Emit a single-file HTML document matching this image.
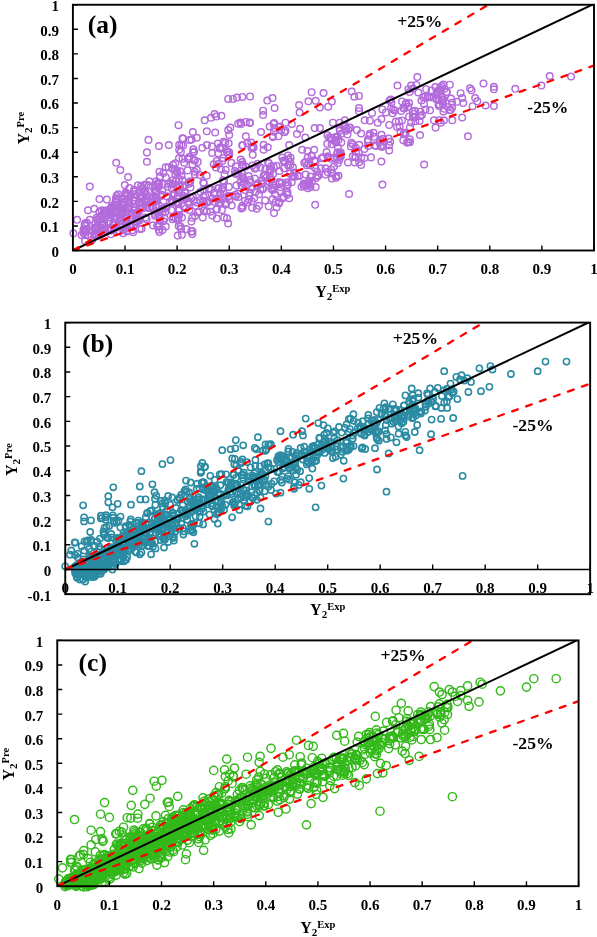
<!DOCTYPE html>
<html><head><meta charset="utf-8"><title>Y2 Pre vs Exp</title>
<style>html,body{margin:0;padding:0;background:#fff;overflow:hidden}svg{display:block;font-family:"Liberation Serif",serif;will-change:transform}</style>
</head><body>
<svg width="597" height="937" viewBox="0 0 597 937"><g fill="none" stroke="#b36bdb" stroke-width="1.45"><circle cx="334.5" cy="158.0" r="3.3"/><circle cx="146.9" cy="152.4" r="3.3"/><circle cx="268.7" cy="206.3" r="3.3"/><circle cx="133.2" cy="232.2" r="3.3"/><circle cx="153.0" cy="225.4" r="3.3"/><circle cx="336.1" cy="142.4" r="3.3"/><circle cx="359.0" cy="95.9" r="3.3"/><circle cx="252.3" cy="187.7" r="3.3"/><circle cx="117.9" cy="230.5" r="3.3"/><circle cx="414.3" cy="117.5" r="3.3"/><circle cx="165.3" cy="212.1" r="3.3"/><circle cx="462.2" cy="117.5" r="3.3"/><circle cx="268.9" cy="163.3" r="3.3"/><circle cx="273.6" cy="187.6" r="3.3"/><circle cx="247.7" cy="202.3" r="3.3"/><circle cx="98.9" cy="233.7" r="3.3"/><circle cx="287.5" cy="192.2" r="3.3"/><circle cx="88.1" cy="234.7" r="3.3"/><circle cx="136.5" cy="216.3" r="3.3"/><circle cx="86.9" cy="222.8" r="3.3"/><circle cx="94.2" cy="227.9" r="3.3"/><circle cx="140.2" cy="198.2" r="3.3"/><circle cx="331.9" cy="178.5" r="3.3"/><circle cx="119.8" cy="220.4" r="3.3"/><circle cx="212.2" cy="152.9" r="3.3"/><circle cx="274.6" cy="108.0" r="3.3"/><circle cx="115.1" cy="211.2" r="3.3"/><circle cx="205.2" cy="195.6" r="3.3"/><circle cx="263.6" cy="144.8" r="3.3"/><circle cx="145.4" cy="217.6" r="3.3"/><circle cx="190.3" cy="181.4" r="3.3"/><circle cx="159.4" cy="225.0" r="3.3"/><circle cx="398.9" cy="121.4" r="3.3"/><circle cx="220.3" cy="147.2" r="3.3"/><circle cx="224.6" cy="174.4" r="3.3"/><circle cx="228.2" cy="130.1" r="3.3"/><circle cx="460.6" cy="93.2" r="3.3"/><circle cx="289.9" cy="173.6" r="3.3"/><circle cx="262.9" cy="189.3" r="3.3"/><circle cx="183.1" cy="138.6" r="3.3"/><circle cx="368.2" cy="145.9" r="3.3"/><circle cx="194.1" cy="151.7" r="3.3"/><circle cx="301.5" cy="186.7" r="3.3"/><circle cx="250.1" cy="96.4" r="3.3"/><circle cx="168.8" cy="145.1" r="3.3"/><circle cx="390.8" cy="99.4" r="3.3"/><circle cx="250.1" cy="180.1" r="3.3"/><circle cx="308.3" cy="164.0" r="3.3"/><circle cx="183.2" cy="145.6" r="3.3"/><circle cx="223.1" cy="187.4" r="3.3"/><circle cx="127.0" cy="230.6" r="3.3"/><circle cx="110.6" cy="210.0" r="3.3"/><circle cx="311.7" cy="156.1" r="3.3"/><circle cx="114.4" cy="222.7" r="3.3"/><circle cx="121.4" cy="208.9" r="3.3"/><circle cx="284.8" cy="161.4" r="3.3"/><circle cx="219.3" cy="199.4" r="3.3"/><circle cx="441.7" cy="97.1" r="3.3"/><circle cx="179.2" cy="185.4" r="3.3"/><circle cx="180.9" cy="151.9" r="3.3"/><circle cx="341.3" cy="142.4" r="3.3"/><circle cx="207.2" cy="201.6" r="3.3"/><circle cx="392.7" cy="113.3" r="3.3"/><circle cx="95.0" cy="235.1" r="3.3"/><circle cx="415.0" cy="110.8" r="3.3"/><circle cx="409.9" cy="127.2" r="3.3"/><circle cx="218.2" cy="153.2" r="3.3"/><circle cx="354.3" cy="96.7" r="3.3"/><circle cx="443.6" cy="99.6" r="3.3"/><circle cx="111.7" cy="213.0" r="3.3"/><circle cx="191.4" cy="221.5" r="3.3"/><circle cx="139.7" cy="229.0" r="3.3"/><circle cx="111.1" cy="208.8" r="3.3"/><circle cx="352.8" cy="156.3" r="3.3"/><circle cx="272.5" cy="98.1" r="3.3"/><circle cx="138.9" cy="192.7" r="3.3"/><circle cx="406.2" cy="103.0" r="3.3"/><circle cx="369.9" cy="120.7" r="3.3"/><circle cx="108.6" cy="229.6" r="3.3"/><circle cx="515.3" cy="88.8" r="3.3"/><circle cx="462.2" cy="98.1" r="3.3"/><circle cx="177.1" cy="172.5" r="3.3"/><circle cx="228.6" cy="143.2" r="3.3"/><circle cx="121.1" cy="214.4" r="3.3"/><circle cx="129.5" cy="226.2" r="3.3"/><circle cx="395.9" cy="121.6" r="3.3"/><circle cx="260.5" cy="189.7" r="3.3"/><circle cx="174.3" cy="193.6" r="3.3"/><circle cx="141.6" cy="228.7" r="3.3"/><circle cx="284.0" cy="168.3" r="3.3"/><circle cx="192.2" cy="217.8" r="3.3"/><circle cx="146.2" cy="202.4" r="3.3"/><circle cx="110.9" cy="230.6" r="3.3"/><circle cx="163.4" cy="221.3" r="3.3"/><circle cx="429.9" cy="96.6" r="3.3"/><circle cx="123.2" cy="233.2" r="3.3"/><circle cx="144.1" cy="200.2" r="3.3"/><circle cx="325.4" cy="174.6" r="3.3"/><circle cx="141.1" cy="186.3" r="3.3"/><circle cx="314.3" cy="160.4" r="3.3"/><circle cx="225.9" cy="203.0" r="3.3"/><circle cx="308.9" cy="180.9" r="3.3"/><circle cx="214.6" cy="114.1" r="3.3"/><circle cx="124.0" cy="229.9" r="3.3"/><circle cx="146.7" cy="200.6" r="3.3"/><circle cx="483.5" cy="83.4" r="3.3"/><circle cx="175.2" cy="173.8" r="3.3"/><circle cx="252.1" cy="207.7" r="3.3"/><circle cx="406.9" cy="142.6" r="3.3"/><circle cx="222.3" cy="160.9" r="3.3"/><circle cx="280.7" cy="187.2" r="3.3"/><circle cx="84.7" cy="224.9" r="3.3"/><circle cx="228.3" cy="196.7" r="3.3"/><circle cx="178.6" cy="210.4" r="3.3"/><circle cx="241.6" cy="185.6" r="3.3"/><circle cx="116.2" cy="209.0" r="3.3"/><circle cx="328.1" cy="156.6" r="3.3"/><circle cx="242.2" cy="173.7" r="3.3"/><circle cx="229.4" cy="195.8" r="3.3"/><circle cx="165.7" cy="167.2" r="3.3"/><circle cx="327.7" cy="172.1" r="3.3"/><circle cx="178.9" cy="179.1" r="3.3"/><circle cx="108.8" cy="229.8" r="3.3"/><circle cx="300.1" cy="128.9" r="3.3"/><circle cx="290.4" cy="165.0" r="3.3"/><circle cx="310.6" cy="176.5" r="3.3"/><circle cx="204.7" cy="120.3" r="3.3"/><circle cx="83.5" cy="229.8" r="3.3"/><circle cx="217.3" cy="198.7" r="3.3"/><circle cx="155.1" cy="191.0" r="3.3"/><circle cx="435.3" cy="87.0" r="3.3"/><circle cx="179.3" cy="209.9" r="3.3"/><circle cx="146.9" cy="161.8" r="3.3"/><circle cx="146.6" cy="219.2" r="3.3"/><circle cx="291.7" cy="182.2" r="3.3"/><circle cx="135.5" cy="207.9" r="3.3"/><circle cx="99.1" cy="219.4" r="3.3"/><circle cx="229.2" cy="135.0" r="3.3"/><circle cx="175.8" cy="218.6" r="3.3"/><circle cx="129.8" cy="197.3" r="3.3"/><circle cx="186.4" cy="229.1" r="3.3"/><circle cx="288.0" cy="155.6" r="3.3"/><circle cx="315.1" cy="167.9" r="3.3"/><circle cx="184.2" cy="162.7" r="3.3"/><circle cx="327.5" cy="135.3" r="3.3"/><circle cx="373.5" cy="132.8" r="3.3"/><circle cx="220.4" cy="193.9" r="3.3"/><circle cx="166.5" cy="207.8" r="3.3"/><circle cx="430.0" cy="110.3" r="3.3"/><circle cx="104.1" cy="210.7" r="3.3"/><circle cx="429.3" cy="97.1" r="3.3"/><circle cx="242.3" cy="176.8" r="3.3"/><circle cx="212.2" cy="215.5" r="3.3"/><circle cx="287.3" cy="186.1" r="3.3"/><circle cx="94.4" cy="234.6" r="3.3"/><circle cx="85.1" cy="223.2" r="3.3"/><circle cx="424.0" cy="103.9" r="3.3"/><circle cx="206.8" cy="211.2" r="3.3"/><circle cx="323.0" cy="157.3" r="3.3"/><circle cx="133.2" cy="200.0" r="3.3"/><circle cx="111.3" cy="214.5" r="3.3"/><circle cx="330.8" cy="137.8" r="3.3"/><circle cx="336.6" cy="158.8" r="3.3"/><circle cx="134.9" cy="210.1" r="3.3"/><circle cx="183.4" cy="206.3" r="3.3"/><circle cx="158.8" cy="211.6" r="3.3"/><circle cx="112.6" cy="206.7" r="3.3"/><circle cx="241.1" cy="124.0" r="3.3"/><circle cx="222.0" cy="189.1" r="3.3"/><circle cx="86.0" cy="229.2" r="3.3"/><circle cx="172.8" cy="184.3" r="3.3"/><circle cx="340.8" cy="156.6" r="3.3"/><circle cx="173.5" cy="217.0" r="3.3"/><circle cx="212.5" cy="198.5" r="3.3"/><circle cx="292.4" cy="176.8" r="3.3"/><circle cx="382.4" cy="184.6" r="3.3"/><circle cx="218.7" cy="188.4" r="3.3"/><circle cx="157.1" cy="226.0" r="3.3"/><circle cx="220.7" cy="202.6" r="3.3"/><circle cx="124.8" cy="185.1" r="3.3"/><circle cx="344.3" cy="125.4" r="3.3"/><circle cx="467.9" cy="136.2" r="3.3"/><circle cx="149.2" cy="207.2" r="3.3"/><circle cx="187.6" cy="170.4" r="3.3"/><circle cx="95.6" cy="229.9" r="3.3"/><circle cx="444.5" cy="88.7" r="3.3"/><circle cx="238.1" cy="123.8" r="3.3"/><circle cx="248.6" cy="176.0" r="3.3"/><circle cx="438.4" cy="100.0" r="3.3"/><circle cx="101.3" cy="216.7" r="3.3"/><circle cx="222.9" cy="180.4" r="3.3"/><circle cx="156.4" cy="198.2" r="3.3"/><circle cx="457.0" cy="101.8" r="3.3"/><circle cx="289.2" cy="145.1" r="3.3"/><circle cx="189.3" cy="210.0" r="3.3"/><circle cx="381.5" cy="134.7" r="3.3"/><circle cx="114.5" cy="207.6" r="3.3"/><circle cx="346.4" cy="128.5" r="3.3"/><circle cx="181.5" cy="175.8" r="3.3"/><circle cx="213.8" cy="164.2" r="3.3"/><circle cx="436.7" cy="99.2" r="3.3"/><circle cx="178.4" cy="204.3" r="3.3"/><circle cx="271.3" cy="179.4" r="3.3"/><circle cx="109.5" cy="214.4" r="3.3"/><circle cx="73.4" cy="233.3" r="3.3"/><circle cx="263.1" cy="110.7" r="3.3"/><circle cx="273.9" cy="131.8" r="3.3"/><circle cx="337.5" cy="136.8" r="3.3"/><circle cx="418.3" cy="92.5" r="3.3"/><circle cx="315.7" cy="187.1" r="3.3"/><circle cx="154.2" cy="189.1" r="3.3"/><circle cx="231.4" cy="162.9" r="3.3"/><circle cx="209.0" cy="201.7" r="3.3"/><circle cx="118.0" cy="210.8" r="3.3"/><circle cx="177.1" cy="201.9" r="3.3"/><circle cx="217.9" cy="143.6" r="3.3"/><circle cx="282.3" cy="157.6" r="3.3"/><circle cx="229.2" cy="152.2" r="3.3"/><circle cx="256.8" cy="185.3" r="3.3"/><circle cx="335.8" cy="140.4" r="3.3"/><circle cx="289.2" cy="198.2" r="3.3"/><circle cx="92.3" cy="239.8" r="3.3"/><circle cx="120.8" cy="227.5" r="3.3"/><circle cx="420.4" cy="116.1" r="3.3"/><circle cx="116.2" cy="199.7" r="3.3"/><circle cx="308.4" cy="101.3" r="3.3"/><circle cx="189.7" cy="140.0" r="3.3"/><circle cx="97.3" cy="219.5" r="3.3"/><circle cx="157.3" cy="201.2" r="3.3"/><circle cx="336.4" cy="176.4" r="3.3"/><circle cx="383.0" cy="138.7" r="3.3"/><circle cx="114.8" cy="204.7" r="3.3"/><circle cx="89.8" cy="186.6" r="3.3"/><circle cx="194.9" cy="160.5" r="3.3"/><circle cx="314.2" cy="149.7" r="3.3"/><circle cx="204.3" cy="204.1" r="3.3"/><circle cx="131.3" cy="225.4" r="3.3"/><circle cx="338.5" cy="175.7" r="3.3"/><circle cx="442.2" cy="99.7" r="3.3"/><circle cx="120.9" cy="217.5" r="3.3"/><circle cx="449.8" cy="110.2" r="3.3"/><circle cx="97.8" cy="232.2" r="3.3"/><circle cx="106.8" cy="210.3" r="3.3"/><circle cx="206.4" cy="202.8" r="3.3"/><circle cx="104.5" cy="212.6" r="3.3"/><circle cx="224.0" cy="181.1" r="3.3"/><circle cx="242.7" cy="207.6" r="3.3"/><circle cx="423.1" cy="97.1" r="3.3"/><circle cx="351.7" cy="91.5" r="3.3"/><circle cx="103.0" cy="233.3" r="3.3"/><circle cx="438.2" cy="92.1" r="3.3"/><circle cx="350.9" cy="146.5" r="3.3"/><circle cx="372.0" cy="112.9" r="3.3"/><circle cx="188.4" cy="203.0" r="3.3"/><circle cx="142.0" cy="188.5" r="3.3"/><circle cx="174.5" cy="193.4" r="3.3"/><circle cx="210.6" cy="211.7" r="3.3"/><circle cx="315.7" cy="161.5" r="3.3"/><circle cx="283.9" cy="196.9" r="3.3"/><circle cx="120.9" cy="208.3" r="3.3"/><circle cx="194.8" cy="171.7" r="3.3"/><circle cx="269.3" cy="182.1" r="3.3"/><circle cx="146.5" cy="184.8" r="3.3"/><circle cx="178.5" cy="125.2" r="3.3"/><circle cx="135.2" cy="194.0" r="3.3"/><circle cx="262.0" cy="180.4" r="3.3"/><circle cx="130.6" cy="195.5" r="3.3"/><circle cx="338.6" cy="139.8" r="3.3"/><circle cx="181.4" cy="144.7" r="3.3"/><circle cx="123.7" cy="208.2" r="3.3"/><circle cx="261.0" cy="132.0" r="3.3"/><circle cx="303.9" cy="186.2" r="3.3"/><circle cx="148.5" cy="139.9" r="3.3"/><circle cx="235.7" cy="196.6" r="3.3"/><circle cx="331.7" cy="144.2" r="3.3"/><circle cx="440.1" cy="87.7" r="3.3"/><circle cx="134.1" cy="189.8" r="3.3"/><circle cx="191.1" cy="198.4" r="3.3"/><circle cx="166.3" cy="206.7" r="3.3"/><circle cx="278.9" cy="127.2" r="3.3"/><circle cx="137.0" cy="213.3" r="3.3"/><circle cx="171.9" cy="200.6" r="3.3"/><circle cx="115.9" cy="227.4" r="3.3"/><circle cx="446.7" cy="92.3" r="3.3"/><circle cx="162.0" cy="194.8" r="3.3"/><circle cx="149.3" cy="181.2" r="3.3"/><circle cx="412.7" cy="111.5" r="3.3"/><circle cx="115.2" cy="210.0" r="3.3"/><circle cx="86.5" cy="229.0" r="3.3"/><circle cx="314.7" cy="128.1" r="3.3"/><circle cx="84.8" cy="225.9" r="3.3"/><circle cx="85.6" cy="231.9" r="3.3"/><circle cx="245.1" cy="200.8" r="3.3"/><circle cx="180.2" cy="171.4" r="3.3"/><circle cx="221.9" cy="210.0" r="3.3"/><circle cx="252.7" cy="154.7" r="3.3"/><circle cx="96.3" cy="234.5" r="3.3"/><circle cx="276.7" cy="207.2" r="3.3"/><circle cx="119.6" cy="231.1" r="3.3"/><circle cx="104.2" cy="221.9" r="3.3"/><circle cx="443.4" cy="111.5" r="3.3"/><circle cx="311.6" cy="155.6" r="3.3"/><circle cx="308.7" cy="183.4" r="3.3"/><circle cx="160.8" cy="195.9" r="3.3"/><circle cx="216.7" cy="161.0" r="3.3"/><circle cx="125.5" cy="193.7" r="3.3"/><circle cx="172.8" cy="202.5" r="3.3"/><circle cx="168.5" cy="167.3" r="3.3"/><circle cx="138.8" cy="211.7" r="3.3"/><circle cx="452.3" cy="120.3" r="3.3"/><circle cx="274.4" cy="128.1" r="3.3"/><circle cx="120.5" cy="209.4" r="3.3"/><circle cx="141.9" cy="202.2" r="3.3"/><circle cx="182.8" cy="185.4" r="3.3"/><circle cx="121.7" cy="198.6" r="3.3"/><circle cx="264.8" cy="175.2" r="3.3"/><circle cx="215.2" cy="132.5" r="3.3"/><circle cx="281.3" cy="130.1" r="3.3"/><circle cx="193.9" cy="201.1" r="3.3"/><circle cx="319.9" cy="128.1" r="3.3"/><circle cx="113.7" cy="222.5" r="3.3"/><circle cx="129.1" cy="202.9" r="3.3"/><circle cx="255.9" cy="167.8" r="3.3"/><circle cx="405.7" cy="104.0" r="3.3"/><circle cx="388.7" cy="138.6" r="3.3"/><circle cx="160.0" cy="176.4" r="3.3"/><circle cx="155.1" cy="216.0" r="3.3"/><circle cx="265.0" cy="174.6" r="3.3"/><circle cx="134.5" cy="197.4" r="3.3"/><circle cx="274.1" cy="122.9" r="3.3"/><circle cx="116.8" cy="219.4" r="3.3"/><circle cx="122.1" cy="204.6" r="3.3"/><circle cx="225.7" cy="169.9" r="3.3"/><circle cx="125.9" cy="221.1" r="3.3"/><circle cx="337.2" cy="153.3" r="3.3"/><circle cx="180.5" cy="226.6" r="3.3"/><circle cx="421.9" cy="115.0" r="3.3"/><circle cx="383.0" cy="145.3" r="3.3"/><circle cx="326.6" cy="152.1" r="3.3"/><circle cx="254.2" cy="198.2" r="3.3"/><circle cx="149.4" cy="196.7" r="3.3"/><circle cx="226.8" cy="151.2" r="3.3"/><circle cx="307.6" cy="157.5" r="3.3"/><circle cx="270.0" cy="176.8" r="3.3"/><circle cx="242.2" cy="145.3" r="3.3"/><circle cx="433.3" cy="97.8" r="3.3"/><circle cx="306.0" cy="183.8" r="3.3"/><circle cx="279.4" cy="171.0" r="3.3"/><circle cx="194.8" cy="174.4" r="3.3"/><circle cx="380.9" cy="140.4" r="3.3"/><circle cx="412.8" cy="116.8" r="3.3"/><circle cx="158.9" cy="146.1" r="3.3"/><circle cx="225.3" cy="142.8" r="3.3"/><circle cx="193.1" cy="152.2" r="3.3"/><circle cx="385.8" cy="112.4" r="3.3"/><circle cx="163.4" cy="173.1" r="3.3"/><circle cx="98.6" cy="235.6" r="3.3"/><circle cx="218.0" cy="188.3" r="3.3"/><circle cx="273.1" cy="173.9" r="3.3"/><circle cx="235.8" cy="166.3" r="3.3"/><circle cx="101.1" cy="234.6" r="3.3"/><circle cx="403.3" cy="108.0" r="3.3"/><circle cx="157.0" cy="212.8" r="3.3"/><circle cx="124.4" cy="205.5" r="3.3"/><circle cx="475.2" cy="98.1" r="3.3"/><circle cx="141.1" cy="202.8" r="3.3"/><circle cx="103.6" cy="232.1" r="3.3"/><circle cx="120.3" cy="170.1" r="3.3"/><circle cx="382.0" cy="146.9" r="3.3"/><circle cx="137.9" cy="185.4" r="3.3"/><circle cx="187.9" cy="158.5" r="3.3"/><circle cx="127.5" cy="200.0" r="3.3"/><circle cx="223.3" cy="191.2" r="3.3"/><circle cx="182.5" cy="180.3" r="3.3"/><circle cx="240.6" cy="182.1" r="3.3"/><circle cx="438.5" cy="104.6" r="3.3"/><circle cx="310.5" cy="187.1" r="3.3"/><circle cx="442.8" cy="104.1" r="3.3"/><circle cx="92.2" cy="231.2" r="3.3"/><circle cx="405.6" cy="132.9" r="3.3"/><circle cx="172.6" cy="168.9" r="3.3"/><circle cx="282.2" cy="198.4" r="3.3"/><circle cx="305.8" cy="161.8" r="3.3"/><circle cx="203.3" cy="182.4" r="3.3"/><circle cx="81.6" cy="235.1" r="3.3"/><circle cx="435.6" cy="127.6" r="3.3"/><circle cx="416.3" cy="84.9" r="3.3"/><circle cx="104.7" cy="229.3" r="3.3"/><circle cx="302.2" cy="149.7" r="3.3"/><circle cx="220.9" cy="169.0" r="3.3"/><circle cx="249.2" cy="195.5" r="3.3"/><circle cx="203.6" cy="189.8" r="3.3"/><circle cx="182.8" cy="195.5" r="3.3"/><circle cx="199.1" cy="211.6" r="3.3"/><circle cx="270.4" cy="171.0" r="3.3"/><circle cx="442.6" cy="101.4" r="3.3"/><circle cx="373.9" cy="136.8" r="3.3"/><circle cx="293.2" cy="175.5" r="3.3"/><circle cx="113.0" cy="224.9" r="3.3"/><circle cx="142.0" cy="195.8" r="3.3"/><circle cx="425.6" cy="109.4" r="3.3"/><circle cx="237.0" cy="97.6" r="3.3"/><circle cx="133.8" cy="210.3" r="3.3"/><circle cx="214.2" cy="201.8" r="3.3"/><circle cx="443.3" cy="84.6" r="3.3"/><circle cx="541.4" cy="85.6" r="3.3"/><circle cx="176.1" cy="202.4" r="3.3"/><circle cx="159.5" cy="216.6" r="3.3"/><circle cx="393.1" cy="109.5" r="3.3"/><circle cx="358.7" cy="152.8" r="3.3"/><circle cx="403.6" cy="134.2" r="3.3"/><circle cx="351.3" cy="142.8" r="3.3"/><circle cx="109.5" cy="214.0" r="3.3"/><circle cx="409.0" cy="116.7" r="3.3"/><circle cx="425.1" cy="96.9" r="3.3"/><circle cx="448.1" cy="107.1" r="3.3"/><circle cx="127.0" cy="231.5" r="3.3"/><circle cx="340.6" cy="154.6" r="3.3"/><circle cx="151.8" cy="206.7" r="3.3"/><circle cx="208.7" cy="188.4" r="3.3"/><circle cx="177.7" cy="235.6" r="3.3"/><circle cx="275.2" cy="194.2" r="3.3"/><circle cx="196.7" cy="202.4" r="3.3"/><circle cx="189.4" cy="156.7" r="3.3"/><circle cx="132.4" cy="230.2" r="3.3"/><circle cx="349.1" cy="194.0" r="3.3"/><circle cx="434.0" cy="120.3" r="3.3"/><circle cx="307.4" cy="151.0" r="3.3"/><circle cx="95.0" cy="235.7" r="3.3"/><circle cx="315.2" cy="204.8" r="3.3"/><circle cx="126.2" cy="227.4" r="3.3"/><circle cx="334.0" cy="166.6" r="3.3"/><circle cx="243.5" cy="181.4" r="3.3"/><circle cx="109.0" cy="217.4" r="3.3"/><circle cx="338.0" cy="147.4" r="3.3"/><circle cx="143.1" cy="203.9" r="3.3"/><circle cx="319.9" cy="107.5" r="3.3"/><circle cx="145.3" cy="192.5" r="3.3"/><circle cx="261.5" cy="183.9" r="3.3"/><circle cx="315.7" cy="100.8" r="3.3"/><circle cx="251.5" cy="148.0" r="3.3"/><circle cx="173.0" cy="164.8" r="3.3"/><circle cx="359.0" cy="108.0" r="3.3"/><circle cx="339.7" cy="122.7" r="3.3"/><circle cx="232.9" cy="98.9" r="3.3"/><circle cx="250.7" cy="182.6" r="3.3"/><circle cx="280.2" cy="126.4" r="3.3"/><circle cx="203.4" cy="196.8" r="3.3"/><circle cx="206.9" cy="145.1" r="3.3"/><circle cx="223.1" cy="158.0" r="3.3"/><circle cx="273.6" cy="123.8" r="3.3"/><circle cx="263.6" cy="149.7" r="3.3"/><circle cx="101.8" cy="210.4" r="3.3"/><circle cx="192.3" cy="234.1" r="3.3"/><circle cx="124.6" cy="198.9" r="3.3"/><circle cx="101.4" cy="221.4" r="3.3"/><circle cx="139.6" cy="220.3" r="3.3"/><circle cx="251.2" cy="142.5" r="3.3"/><circle cx="272.7" cy="136.2" r="3.3"/><circle cx="115.4" cy="218.4" r="3.3"/><circle cx="110.8" cy="234.3" r="3.3"/><circle cx="229.2" cy="154.7" r="3.3"/><circle cx="323.5" cy="93.0" r="3.3"/><circle cx="186.3" cy="197.0" r="3.3"/><circle cx="127.1" cy="196.1" r="3.3"/><circle cx="128.1" cy="177.0" r="3.3"/><circle cx="265.3" cy="169.1" r="3.3"/><circle cx="287.3" cy="194.7" r="3.3"/><circle cx="252.4" cy="165.6" r="3.3"/><circle cx="123.1" cy="211.4" r="3.3"/><circle cx="125.9" cy="225.6" r="3.3"/><circle cx="158.3" cy="183.1" r="3.3"/><circle cx="549.7" cy="76.0" r="3.3"/><circle cx="215.9" cy="167.4" r="3.3"/><circle cx="355.7" cy="157.2" r="3.3"/><circle cx="228.2" cy="223.5" r="3.3"/><circle cx="327.2" cy="143.8" r="3.3"/><circle cx="133.8" cy="201.2" r="3.3"/><circle cx="178.3" cy="220.2" r="3.3"/><circle cx="257.6" cy="163.7" r="3.3"/><circle cx="354.8" cy="162.5" r="3.3"/><circle cx="364.5" cy="149.0" r="3.3"/><circle cx="409.8" cy="139.2" r="3.3"/><circle cx="237.8" cy="174.6" r="3.3"/><circle cx="374.7" cy="145.4" r="3.3"/><circle cx="203.9" cy="183.4" r="3.3"/><circle cx="345.5" cy="130.9" r="3.3"/><circle cx="220.8" cy="198.0" r="3.3"/><circle cx="341.2" cy="133.8" r="3.3"/><circle cx="182.0" cy="234.8" r="3.3"/><circle cx="271.1" cy="188.5" r="3.3"/><circle cx="155.1" cy="186.0" r="3.3"/><circle cx="218.7" cy="163.9" r="3.3"/><circle cx="439.7" cy="104.4" r="3.3"/><circle cx="177.5" cy="188.3" r="3.3"/><circle cx="227.6" cy="151.6" r="3.3"/><circle cx="111.6" cy="206.4" r="3.3"/><circle cx="202.3" cy="147.8" r="3.3"/><circle cx="240.7" cy="159.6" r="3.3"/><circle cx="297.0" cy="134.0" r="3.3"/><circle cx="172.6" cy="219.3" r="3.3"/><circle cx="170.9" cy="183.4" r="3.3"/><circle cx="212.0" cy="146.4" r="3.3"/><circle cx="343.7" cy="126.3" r="3.3"/><circle cx="248.9" cy="199.2" r="3.3"/><circle cx="146.7" cy="194.9" r="3.3"/><circle cx="109.2" cy="221.8" r="3.3"/><circle cx="310.7" cy="165.5" r="3.3"/><circle cx="162.5" cy="230.1" r="3.3"/><circle cx="162.5" cy="212.5" r="3.3"/><circle cx="379.5" cy="142.7" r="3.3"/><circle cx="440.8" cy="122.7" r="3.3"/><circle cx="349.8" cy="127.7" r="3.3"/><circle cx="211.1" cy="189.5" r="3.3"/><circle cx="299.6" cy="112.6" r="3.3"/><circle cx="116.2" cy="162.8" r="3.3"/><circle cx="247.4" cy="143.2" r="3.3"/><circle cx="185.5" cy="192.6" r="3.3"/><circle cx="316.1" cy="177.9" r="3.3"/><circle cx="369.5" cy="135.6" r="3.3"/><circle cx="335.8" cy="137.1" r="3.3"/><circle cx="175.7" cy="181.4" r="3.3"/><circle cx="125.5" cy="217.3" r="3.3"/><circle cx="99.3" cy="211.7" r="3.3"/><circle cx="161.4" cy="208.9" r="3.3"/><circle cx="285.5" cy="130.7" r="3.3"/><circle cx="318.2" cy="176.0" r="3.3"/><circle cx="361.3" cy="157.6" r="3.3"/><circle cx="146.7" cy="198.9" r="3.3"/><circle cx="339.6" cy="128.6" r="3.3"/><circle cx="413.0" cy="88.5" r="3.3"/><circle cx="311.6" cy="92.2" r="3.3"/><circle cx="142.7" cy="208.2" r="3.3"/><circle cx="355.2" cy="156.7" r="3.3"/><circle cx="148.9" cy="185.6" r="3.3"/><circle cx="191.6" cy="139.5" r="3.3"/><circle cx="184.7" cy="192.1" r="3.3"/><circle cx="436.7" cy="94.6" r="3.3"/><circle cx="402.1" cy="101.4" r="3.3"/><circle cx="171.6" cy="188.2" r="3.3"/><circle cx="192.8" cy="132.0" r="3.3"/><circle cx="263.1" cy="115.1" r="3.3"/><circle cx="245.1" cy="190.1" r="3.3"/><circle cx="284.6" cy="132.2" r="3.3"/><circle cx="288.2" cy="165.5" r="3.3"/><circle cx="122.1" cy="213.6" r="3.3"/><circle cx="286.9" cy="192.9" r="3.3"/><circle cx="242.8" cy="145.4" r="3.3"/><circle cx="389.2" cy="124.9" r="3.3"/><circle cx="117.9" cy="198.2" r="3.3"/><circle cx="290.6" cy="157.8" r="3.3"/><circle cx="335.4" cy="137.4" r="3.3"/><circle cx="118.2" cy="194.2" r="3.3"/><circle cx="382.4" cy="109.4" r="3.3"/><circle cx="397.5" cy="85.6" r="3.3"/><circle cx="106.1" cy="213.5" r="3.3"/><circle cx="157.2" cy="184.0" r="3.3"/><circle cx="247.4" cy="184.7" r="3.3"/><circle cx="97.9" cy="222.1" r="3.3"/><circle cx="389.2" cy="145.3" r="3.3"/><circle cx="235.4" cy="194.9" r="3.3"/><circle cx="185.9" cy="208.5" r="3.3"/><circle cx="401.9" cy="120.4" r="3.3"/><circle cx="420.0" cy="135.0" r="3.3"/><circle cx="305.7" cy="174.5" r="3.3"/><circle cx="103.0" cy="223.8" r="3.3"/><circle cx="165.9" cy="177.3" r="3.3"/><circle cx="280.0" cy="183.3" r="3.3"/><circle cx="413.6" cy="113.9" r="3.3"/><circle cx="192.5" cy="164.5" r="3.3"/><circle cx="155.4" cy="200.4" r="3.3"/><circle cx="421.5" cy="100.5" r="3.3"/><circle cx="409.9" cy="142.3" r="3.3"/><circle cx="126.9" cy="194.5" r="3.3"/><circle cx="463.2" cy="103.1" r="3.3"/><circle cx="132.7" cy="217.8" r="3.3"/><circle cx="368.0" cy="139.4" r="3.3"/><circle cx="439.0" cy="105.9" r="3.3"/><circle cx="327.7" cy="156.5" r="3.3"/><circle cx="377.7" cy="122.7" r="3.3"/><circle cx="444.4" cy="108.8" r="3.3"/><circle cx="332.9" cy="122.7" r="3.3"/><circle cx="452.1" cy="102.8" r="3.3"/><circle cx="221.4" cy="115.8" r="3.3"/><circle cx="332.4" cy="173.4" r="3.3"/><circle cx="211.0" cy="117.8" r="3.3"/><circle cx="123.6" cy="202.3" r="3.3"/><circle cx="216.8" cy="218.5" r="3.3"/><circle cx="97.1" cy="227.1" r="3.3"/><circle cx="237.8" cy="193.5" r="3.3"/><circle cx="159.4" cy="232.1" r="3.3"/><circle cx="125.6" cy="211.4" r="3.3"/><circle cx="120.8" cy="207.9" r="3.3"/><circle cx="493.9" cy="89.3" r="3.3"/><circle cx="140.7" cy="208.8" r="3.3"/><circle cx="403.3" cy="140.2" r="3.3"/><circle cx="452.1" cy="107.7" r="3.3"/><circle cx="328.2" cy="106.7" r="3.3"/><circle cx="111.5" cy="209.3" r="3.3"/><circle cx="134.0" cy="207.3" r="3.3"/><circle cx="451.0" cy="98.6" r="3.3"/><circle cx="470.0" cy="88.3" r="3.3"/><circle cx="328.2" cy="157.1" r="3.3"/><circle cx="380.7" cy="146.0" r="3.3"/><circle cx="267.8" cy="147.3" r="3.3"/><circle cx="419.6" cy="121.0" r="3.3"/><circle cx="231.7" cy="205.4" r="3.3"/><circle cx="335.2" cy="140.3" r="3.3"/><circle cx="125.8" cy="209.2" r="3.3"/><circle cx="222.4" cy="148.2" r="3.3"/><circle cx="477.3" cy="101.3" r="3.3"/><circle cx="304.3" cy="162.8" r="3.3"/><circle cx="191.3" cy="231.4" r="3.3"/><circle cx="288.0" cy="159.2" r="3.3"/><circle cx="230.3" cy="127.6" r="3.3"/><circle cx="88.0" cy="210.2" r="3.3"/><circle cx="355.7" cy="147.9" r="3.3"/><circle cx="178.9" cy="209.6" r="3.3"/><circle cx="132.3" cy="219.3" r="3.3"/><circle cx="344.9" cy="120.3" r="3.3"/><circle cx="409.1" cy="103.1" r="3.3"/><circle cx="299.3" cy="176.0" r="3.3"/><circle cx="330.9" cy="158.8" r="3.3"/><circle cx="163.7" cy="208.8" r="3.3"/><circle cx="155.9" cy="192.8" r="3.3"/><circle cx="138.8" cy="220.4" r="3.3"/><circle cx="199.7" cy="175.0" r="3.3"/><circle cx="196.8" cy="169.7" r="3.3"/><circle cx="184.1" cy="187.3" r="3.3"/><circle cx="110.8" cy="211.6" r="3.3"/><circle cx="203.4" cy="200.7" r="3.3"/><circle cx="178.0" cy="218.0" r="3.3"/><circle cx="427.6" cy="97.5" r="3.3"/><circle cx="279.2" cy="203.2" r="3.3"/><circle cx="309.5" cy="183.4" r="3.3"/><circle cx="331.7" cy="139.7" r="3.3"/><circle cx="153.8" cy="199.7" r="3.3"/><circle cx="172.7" cy="180.3" r="3.3"/><circle cx="229.4" cy="199.9" r="3.3"/><circle cx="124.8" cy="202.2" r="3.3"/><circle cx="103.9" cy="213.0" r="3.3"/><circle cx="178.7" cy="226.1" r="3.3"/><circle cx="287.8" cy="184.3" r="3.3"/><circle cx="83.5" cy="232.9" r="3.3"/><circle cx="411.2" cy="122.4" r="3.3"/><circle cx="158.1" cy="226.7" r="3.3"/><circle cx="389.2" cy="150.5" r="3.3"/><circle cx="137.8" cy="219.1" r="3.3"/><circle cx="272.7" cy="189.6" r="3.3"/><circle cx="417.3" cy="77.0" r="3.3"/><circle cx="136.5" cy="213.1" r="3.3"/><circle cx="305.3" cy="137.5" r="3.3"/><circle cx="227.0" cy="218.3" r="3.3"/><circle cx="359.3" cy="144.7" r="3.3"/><circle cx="223.6" cy="141.7" r="3.3"/><circle cx="245.9" cy="136.2" r="3.3"/><circle cx="269.7" cy="126.5" r="3.3"/><circle cx="106.8" cy="199.6" r="3.3"/><circle cx="153.0" cy="207.9" r="3.3"/><circle cx="156.9" cy="197.9" r="3.3"/><circle cx="195.7" cy="205.8" r="3.3"/><circle cx="325.5" cy="168.4" r="3.3"/><circle cx="352.7" cy="144.3" r="3.3"/><circle cx="115.9" cy="198.5" r="3.3"/><circle cx="167.8" cy="186.8" r="3.3"/><circle cx="234.9" cy="171.0" r="3.3"/><circle cx="138.8" cy="202.7" r="3.3"/><circle cx="267.6" cy="181.0" r="3.3"/><circle cx="159.2" cy="205.7" r="3.3"/><circle cx="443.9" cy="120.3" r="3.3"/><circle cx="269.7" cy="169.4" r="3.3"/><circle cx="99.1" cy="228.2" r="3.3"/><circle cx="571.1" cy="76.5" r="3.3"/><circle cx="438.0" cy="90.9" r="3.3"/><circle cx="320.9" cy="168.3" r="3.3"/><circle cx="340.7" cy="152.6" r="3.3"/><circle cx="472.6" cy="106.2" r="3.3"/><circle cx="364.7" cy="120.3" r="3.3"/><circle cx="122.7" cy="224.0" r="3.3"/><circle cx="242.3" cy="96.9" r="3.3"/><circle cx="129.4" cy="188.0" r="3.3"/><circle cx="158.9" cy="229.7" r="3.3"/><circle cx="369.8" cy="133.7" r="3.3"/><circle cx="206.8" cy="175.8" r="3.3"/><circle cx="193.8" cy="160.0" r="3.3"/><circle cx="159.2" cy="183.9" r="3.3"/><circle cx="243.2" cy="166.1" r="3.3"/><circle cx="228.2" cy="98.9" r="3.3"/><circle cx="160.2" cy="220.3" r="3.3"/><circle cx="115.6" cy="212.4" r="3.3"/><circle cx="271.1" cy="166.4" r="3.3"/><circle cx="400.5" cy="131.7" r="3.3"/><circle cx="241.4" cy="208.4" r="3.3"/><circle cx="485.6" cy="105.5" r="3.3"/><circle cx="283.5" cy="160.6" r="3.3"/><circle cx="471.5" cy="90.3" r="3.3"/><circle cx="177.7" cy="196.1" r="3.3"/><circle cx="420.5" cy="111.7" r="3.3"/><circle cx="168.4" cy="183.9" r="3.3"/><circle cx="424.1" cy="164.5" r="3.3"/><circle cx="202.9" cy="202.0" r="3.3"/><circle cx="188.5" cy="201.6" r="3.3"/><circle cx="339.6" cy="155.9" r="3.3"/><circle cx="125.5" cy="219.1" r="3.3"/><circle cx="199.9" cy="200.3" r="3.3"/><circle cx="156.0" cy="190.8" r="3.3"/><circle cx="195.0" cy="216.0" r="3.3"/><circle cx="182.5" cy="138.3" r="3.3"/><circle cx="356.1" cy="151.8" r="3.3"/><circle cx="116.6" cy="195.9" r="3.3"/><circle cx="408.2" cy="106.8" r="3.3"/><circle cx="249.9" cy="192.9" r="3.3"/><circle cx="294.4" cy="172.5" r="3.3"/><circle cx="244.1" cy="183.4" r="3.3"/><circle cx="493.9" cy="106.0" r="3.3"/><circle cx="144.5" cy="184.7" r="3.3"/><circle cx="145.1" cy="192.1" r="3.3"/><circle cx="142.3" cy="198.2" r="3.3"/><circle cx="411.1" cy="85.6" r="3.3"/><circle cx="189.1" cy="183.7" r="3.3"/><circle cx="336.7" cy="137.5" r="3.3"/><circle cx="381.4" cy="119.0" r="3.3"/><circle cx="238.4" cy="197.0" r="3.3"/><circle cx="99.5" cy="199.1" r="3.3"/><circle cx="284.4" cy="162.2" r="3.3"/><circle cx="136.0" cy="212.6" r="3.3"/><circle cx="249.9" cy="123.0" r="3.3"/><circle cx="190.4" cy="187.5" r="3.3"/><circle cx="123.1" cy="209.6" r="3.3"/><circle cx="139.4" cy="219.2" r="3.3"/><circle cx="439.7" cy="90.2" r="3.3"/><circle cx="291.8" cy="123.9" r="3.3"/><circle cx="219.8" cy="148.6" r="3.3"/><circle cx="188.6" cy="182.6" r="3.3"/><circle cx="162.6" cy="184.1" r="3.3"/><circle cx="397.1" cy="127.0" r="3.3"/><circle cx="142.4" cy="188.6" r="3.3"/><circle cx="103.3" cy="225.6" r="3.3"/><circle cx="255.4" cy="192.1" r="3.3"/><circle cx="77.1" cy="219.8" r="3.3"/><circle cx="213.8" cy="193.7" r="3.3"/><circle cx="116.0" cy="210.9" r="3.3"/><circle cx="235.4" cy="173.8" r="3.3"/><circle cx="167.0" cy="196.4" r="3.3"/><circle cx="126.8" cy="214.5" r="3.3"/><circle cx="275.8" cy="202.1" r="3.3"/><circle cx="188.7" cy="159.4" r="3.3"/><circle cx="249.8" cy="122.5" r="3.3"/><circle cx="185.5" cy="199.1" r="3.3"/><circle cx="329.1" cy="137.5" r="3.3"/><circle cx="89.8" cy="219.8" r="3.3"/><circle cx="399.7" cy="126.6" r="3.3"/><circle cx="390.2" cy="141.7" r="3.3"/><circle cx="263.6" cy="176.0" r="3.3"/><circle cx="279.2" cy="202.2" r="3.3"/><circle cx="237.5" cy="173.0" r="3.3"/><circle cx="206.8" cy="131.3" r="3.3"/><circle cx="306.7" cy="165.2" r="3.3"/><circle cx="259.0" cy="205.8" r="3.3"/><circle cx="299.1" cy="105.0" r="3.3"/><circle cx="441.7" cy="99.4" r="3.3"/><circle cx="266.5" cy="177.5" r="3.3"/><circle cx="242.3" cy="164.5" r="3.3"/><circle cx="228.6" cy="154.8" r="3.3"/><circle cx="401.1" cy="110.9" r="3.3"/><circle cx="178.6" cy="210.1" r="3.3"/><circle cx="133.1" cy="227.1" r="3.3"/><circle cx="182.5" cy="158.8" r="3.3"/><circle cx="214.7" cy="192.3" r="3.3"/><circle cx="178.2" cy="217.9" r="3.3"/><circle cx="164.6" cy="218.5" r="3.3"/><circle cx="254.9" cy="178.5" r="3.3"/><circle cx="85.1" cy="241.0" r="3.3"/><circle cx="287.3" cy="182.2" r="3.3"/><circle cx="257.8" cy="183.4" r="3.3"/><circle cx="317.0" cy="171.6" r="3.3"/><circle cx="125.7" cy="192.6" r="3.3"/><circle cx="409.6" cy="92.1" r="3.3"/><circle cx="155.0" cy="214.1" r="3.3"/><circle cx="177.1" cy="170.9" r="3.3"/><circle cx="114.0" cy="229.1" r="3.3"/><circle cx="243.6" cy="178.5" r="3.3"/><circle cx="96.7" cy="217.9" r="3.3"/><circle cx="440.6" cy="90.8" r="3.3"/><circle cx="96.2" cy="234.1" r="3.3"/><circle cx="349.9" cy="127.6" r="3.3"/><circle cx="245.7" cy="166.6" r="3.3"/><circle cx="131.5" cy="219.8" r="3.3"/><circle cx="337.9" cy="152.3" r="3.3"/><circle cx="493.9" cy="86.8" r="3.3"/><circle cx="130.3" cy="225.0" r="3.3"/><circle cx="361.1" cy="165.0" r="3.3"/><circle cx="321.5" cy="158.2" r="3.3"/><circle cx="224.1" cy="217.4" r="3.3"/><circle cx="158.3" cy="215.4" r="3.3"/><circle cx="173.5" cy="194.2" r="3.3"/><circle cx="347.5" cy="134.4" r="3.3"/><circle cx="348.0" cy="162.5" r="3.3"/><circle cx="186.1" cy="198.3" r="3.3"/><circle cx="246.0" cy="121.9" r="3.3"/><circle cx="142.4" cy="196.0" r="3.3"/><circle cx="253.1" cy="146.7" r="3.3"/><circle cx="173.8" cy="217.5" r="3.3"/><circle cx="415.3" cy="121.3" r="3.3"/><circle cx="84.0" cy="230.7" r="3.3"/><circle cx="278.4" cy="136.2" r="3.3"/><circle cx="86.6" cy="229.1" r="3.3"/><circle cx="179.2" cy="215.0" r="3.3"/><circle cx="272.8" cy="137.1" r="3.3"/><circle cx="150.0" cy="208.2" r="3.3"/><circle cx="104.3" cy="232.0" r="3.3"/><circle cx="281.9" cy="182.8" r="3.3"/><circle cx="147.1" cy="207.6" r="3.3"/><circle cx="179.2" cy="149.7" r="3.3"/><circle cx="272.4" cy="184.9" r="3.3"/><circle cx="181.1" cy="228.7" r="3.3"/><circle cx="242.4" cy="205.7" r="3.3"/><circle cx="431.5" cy="90.4" r="3.3"/><circle cx="272.7" cy="199.1" r="3.3"/><circle cx="200.3" cy="192.0" r="3.3"/><circle cx="158.3" cy="187.6" r="3.3"/><circle cx="242.3" cy="162.0" r="3.3"/><circle cx="127.7" cy="202.0" r="3.3"/><circle cx="156.4" cy="207.1" r="3.3"/><circle cx="106.4" cy="215.7" r="3.3"/><circle cx="381.4" cy="161.5" r="3.3"/><circle cx="226.1" cy="204.5" r="3.3"/><circle cx="110.6" cy="228.1" r="3.3"/><circle cx="317.5" cy="175.5" r="3.3"/><circle cx="203.7" cy="210.8" r="3.3"/><circle cx="152.4" cy="198.4" r="3.3"/><circle cx="197.7" cy="161.9" r="3.3"/><circle cx="175.1" cy="169.9" r="3.3"/><circle cx="446.6" cy="91.9" r="3.3"/><circle cx="171.4" cy="210.1" r="3.3"/><circle cx="279.3" cy="182.1" r="3.3"/><circle cx="216.9" cy="209.1" r="3.3"/><circle cx="251.8" cy="201.3" r="3.3"/><circle cx="182.0" cy="217.5" r="3.3"/><circle cx="376.1" cy="146.0" r="3.3"/><circle cx="307.8" cy="188.3" r="3.3"/><circle cx="120.8" cy="217.9" r="3.3"/><circle cx="449.8" cy="84.7" r="3.3"/><circle cx="131.8" cy="215.2" r="3.3"/><circle cx="442.0" cy="97.3" r="3.3"/><circle cx="268.1" cy="162.6" r="3.3"/><circle cx="228.9" cy="186.9" r="3.3"/><circle cx="356.9" cy="130.1" r="3.3"/><circle cx="170.0" cy="201.5" r="3.3"/><circle cx="272.4" cy="190.1" r="3.3"/><circle cx="331.2" cy="169.5" r="3.3"/><circle cx="331.9" cy="139.4" r="3.3"/><circle cx="196.8" cy="137.7" r="3.3"/><circle cx="179.0" cy="158.3" r="3.3"/><circle cx="95.3" cy="223.2" r="3.3"/><circle cx="156.8" cy="198.6" r="3.3"/><circle cx="259.1" cy="194.2" r="3.3"/><circle cx="371.0" cy="157.4" r="3.3"/><circle cx="115.5" cy="202.0" r="3.3"/><circle cx="263.0" cy="188.3" r="3.3"/><circle cx="127.7" cy="207.5" r="3.3"/><circle cx="265.2" cy="200.4" r="3.3"/><circle cx="303.4" cy="184.6" r="3.3"/><circle cx="193.3" cy="149.4" r="3.3"/><circle cx="404.5" cy="108.6" r="3.3"/><circle cx="285.5" cy="122.7" r="3.3"/><circle cx="119.7" cy="218.5" r="3.3"/><circle cx="165.6" cy="211.7" r="3.3"/><circle cx="331.9" cy="101.6" r="3.3"/><circle cx="426.1" cy="89.2" r="3.3"/><circle cx="216.2" cy="116.6" r="3.3"/><circle cx="134.2" cy="191.5" r="3.3"/><circle cx="179.4" cy="192.6" r="3.3"/><circle cx="179.2" cy="144.9" r="3.3"/><circle cx="404.2" cy="132.8" r="3.3"/><circle cx="155.8" cy="196.9" r="3.3"/><circle cx="218.7" cy="203.3" r="3.3"/><circle cx="159.5" cy="171.8" r="3.3"/><circle cx="135.7" cy="221.4" r="3.3"/><circle cx="273.8" cy="166.8" r="3.3"/><circle cx="240.4" cy="122.5" r="3.3"/><circle cx="256.7" cy="208.7" r="3.3"/><circle cx="348.5" cy="129.5" r="3.3"/><circle cx="143.8" cy="190.9" r="3.3"/><circle cx="391.1" cy="108.2" r="3.3"/><circle cx="180.0" cy="186.5" r="3.3"/><circle cx="391.4" cy="102.4" r="3.3"/><circle cx="267.3" cy="100.6" r="3.3"/><circle cx="394.8" cy="110.4" r="3.3"/><circle cx="175.4" cy="163.2" r="3.3"/><circle cx="359.1" cy="162.3" r="3.3"/><circle cx="297.6" cy="176.1" r="3.3"/><circle cx="308.0" cy="184.4" r="3.3"/><circle cx="197.7" cy="212.3" r="3.3"/><circle cx="260.4" cy="167.6" r="3.3"/><circle cx="312.0" cy="181.4" r="3.3"/><circle cx="439.2" cy="120.3" r="3.3"/><circle cx="236.4" cy="185.4" r="3.3"/><circle cx="339.3" cy="160.0" r="3.3"/><circle cx="361.1" cy="133.5" r="3.3"/><circle cx="336.1" cy="177.8" r="3.3"/><circle cx="97.3" cy="227.5" r="3.3"/><circle cx="359.0" cy="111.2" r="3.3"/><circle cx="274.0" cy="213.1" r="3.3"/><circle cx="156.2" cy="181.2" r="3.3"/><circle cx="136.9" cy="221.8" r="3.3"/><circle cx="279.8" cy="190.9" r="3.3"/><circle cx="307.6" cy="185.8" r="3.3"/><circle cx="339.8" cy="153.1" r="3.3"/><circle cx="172.8" cy="195.6" r="3.3"/><circle cx="294.8" cy="176.7" r="3.3"/><circle cx="303.7" cy="183.6" r="3.3"/><circle cx="158.4" cy="182.9" r="3.3"/><circle cx="450.6" cy="110.1" r="3.3"/><circle cx="202.7" cy="217.5" r="3.3"/><circle cx="124.2" cy="201.9" r="3.3"/><circle cx="336.1" cy="142.2" r="3.3"/><circle cx="119.2" cy="221.3" r="3.3"/><circle cx="95.8" cy="227.8" r="3.3"/><circle cx="254.8" cy="168.8" r="3.3"/><circle cx="290.3" cy="161.5" r="3.3"/><circle cx="408.5" cy="142.1" r="3.3"/><circle cx="276.5" cy="165.9" r="3.3"/><circle cx="141.8" cy="196.9" r="3.3"/><circle cx="94.3" cy="208.7" r="3.3"/><circle cx="102.0" cy="224.6" r="3.3"/><circle cx="178.4" cy="198.6" r="3.3"/><circle cx="85.2" cy="235.1" r="3.3"/><circle cx="192.5" cy="231.4" r="3.3"/><circle cx="216.5" cy="209.4" r="3.3"/><circle cx="162.3" cy="190.8" r="3.3"/><circle cx="165.8" cy="226.5" r="3.3"/><circle cx="389.6" cy="100.6" r="3.3"/><circle cx="253.6" cy="147.5" r="3.3"/><circle cx="367.9" cy="141.6" r="3.3"/><circle cx="441.8" cy="86.0" r="3.3"/><circle cx="364.4" cy="158.0" r="3.3"/><circle cx="192.9" cy="196.9" r="3.3"/><circle cx="251.8" cy="146.5" r="3.3"/><circle cx="408.4" cy="89.2" r="3.3"/><circle cx="339.8" cy="130.8" r="3.3"/><circle cx="337.7" cy="163.2" r="3.3"/><circle cx="333.4" cy="157.8" r="3.3"/><circle cx="292.9" cy="167.2" r="3.3"/><circle cx="100.3" cy="216.3" r="3.3"/><circle cx="436.5" cy="93.0" r="3.3"/></g><clipPath id="clipa"><rect x="72.90" y="4.75" width="521.10" height="245.75"/></clipPath><g clip-path="url(#clipa)"><line x1="72.90" y1="250.50" x2="594.00" y2="3.89" stroke="#000" stroke-width="2.0"/><line x1="72.90" y1="250.50" x2="594.00" y2="-57.76" stroke="#f00" stroke-width="2.3" stroke-linecap="round" stroke-dasharray="6.0 8.8" stroke-dashoffset="-0.45"/><line x1="72.90" y1="250.50" x2="594.00" y2="65.54" stroke="#f00" stroke-width="2.3" stroke-linecap="round" stroke-dasharray="6.0 8.8" stroke-dashoffset="-0.45"/></g><path d="M72.90 250.50h5 M72.90 225.93h5 M72.90 201.35h5 M72.90 176.78h5 M72.90 152.20h5 M72.90 127.62h5 M72.90 103.05h5 M72.90 78.48h5 M72.90 53.90h5 M72.90 29.32h5 M72.90 4.75h5 M125.01 250.50v-5 M177.12 250.50v-5 M229.23 250.50v-5 M281.34 250.50v-5 M333.45 250.50v-5 M385.56 250.50v-5 M437.67 250.50v-5 M489.78 250.50v-5 M541.89 250.50v-5 M594.00 250.50v-5" stroke="#000" stroke-width="1.4" fill="none"/><g font-family="Liberation Serif" font-weight="bold" font-size="15" fill="#000"><text x="58.90" y="256.90" text-anchor="end">0</text><text x="58.90" y="232.33" text-anchor="end">0.1</text><text x="58.90" y="207.75" text-anchor="end">0.2</text><text x="58.90" y="183.18" text-anchor="end">0.3</text><text x="58.90" y="158.60" text-anchor="end">0.4</text><text x="58.90" y="134.03" text-anchor="end">0.5</text><text x="58.90" y="109.45" text-anchor="end">0.6</text><text x="58.90" y="84.88" text-anchor="end">0.7</text><text x="58.90" y="60.30" text-anchor="end">0.8</text><text x="58.90" y="35.72" text-anchor="end">0.9</text><text x="58.90" y="11.15" text-anchor="end">1</text><text x="72.90" y="274.10" text-anchor="middle">0</text><text x="125.01" y="274.10" text-anchor="middle">0.1</text><text x="177.12" y="274.10" text-anchor="middle">0.2</text><text x="229.23" y="274.10" text-anchor="middle">0.3</text><text x="281.34" y="274.10" text-anchor="middle">0.4</text><text x="333.45" y="274.10" text-anchor="middle">0.5</text><text x="385.56" y="274.10" text-anchor="middle">0.6</text><text x="437.67" y="274.10" text-anchor="middle">0.7</text><text x="489.78" y="274.10" text-anchor="middle">0.8</text><text x="541.89" y="274.10" text-anchor="middle">0.9</text><text x="594.00" y="274.10" text-anchor="middle">1</text></g><rect x="72.90" y="4.75" width="521.10" height="245.75" fill="none" stroke="#000" stroke-width="1.9"/><g font-family="Liberation Serif" font-weight="bold" fill="#000"><text x="87.80" y="32.50" font-size="25.5">(a)</text><text x="397.20" y="27.00" font-size="17.6">+25%</text><text x="527.30" y="112.90" font-size="17.6">-25%</text><text x="315.20" y="296.60" font-size="16.0">Y<tspan font-size="11.0" dy="3.3">2</tspan><tspan font-size="10.5" dy="-8.2">Exp</tspan></text><text transform="translate(29.10 144.50) rotate(-90)" font-size="16.0">Y<tspan font-size="11.0" dy="3.3">2</tspan><tspan font-size="10.5" dy="-8.2">Pre</tspan></text></g><g fill="none" stroke="#2a8ba3" stroke-width="1.6"><circle cx="121.4" cy="549.4" r="3.1"/><circle cx="86.9" cy="563.3" r="3.1"/><circle cx="252.7" cy="498.0" r="3.1"/><circle cx="278.4" cy="462.1" r="3.1"/><circle cx="235.9" cy="477.8" r="3.1"/><circle cx="115.0" cy="548.0" r="3.1"/><circle cx="104.5" cy="533.7" r="3.1"/><circle cx="293.9" cy="486.8" r="3.1"/><circle cx="288.5" cy="448.9" r="3.1"/><circle cx="138.7" cy="534.6" r="3.1"/><circle cx="151.9" cy="517.5" r="3.1"/><circle cx="341.7" cy="432.6" r="3.1"/><circle cx="280.5" cy="431.2" r="3.1"/><circle cx="268.1" cy="467.3" r="3.1"/><circle cx="293.8" cy="463.9" r="3.1"/><circle cx="330.7" cy="446.8" r="3.1"/><circle cx="288.2" cy="476.1" r="3.1"/><circle cx="197.1" cy="505.9" r="3.1"/><circle cx="256.8" cy="499.8" r="3.1"/><circle cx="189.0" cy="507.7" r="3.1"/><circle cx="300.7" cy="482.2" r="3.1"/><circle cx="441.1" cy="418.9" r="3.1"/><circle cx="190.2" cy="530.7" r="3.1"/><circle cx="161.7" cy="529.3" r="3.1"/><circle cx="77.7" cy="574.7" r="3.1"/><circle cx="372.8" cy="421.0" r="3.1"/><circle cx="335.8" cy="456.7" r="3.1"/><circle cx="129.7" cy="540.4" r="3.1"/><circle cx="107.4" cy="557.7" r="3.1"/><circle cx="99.1" cy="546.4" r="3.1"/><circle cx="75.3" cy="573.5" r="3.1"/><circle cx="134.9" cy="536.8" r="3.1"/><circle cx="111.5" cy="556.6" r="3.1"/><circle cx="240.7" cy="484.9" r="3.1"/><circle cx="87.4" cy="574.2" r="3.1"/><circle cx="435.5" cy="406.4" r="3.1"/><circle cx="236.6" cy="486.0" r="3.1"/><circle cx="127.2" cy="557.2" r="3.1"/><circle cx="99.3" cy="567.6" r="3.1"/><circle cx="113.4" cy="566.0" r="3.1"/><circle cx="412.4" cy="400.4" r="3.1"/><circle cx="169.1" cy="527.3" r="3.1"/><circle cx="317.6" cy="454.4" r="3.1"/><circle cx="282.7" cy="468.4" r="3.1"/><circle cx="394.5" cy="410.6" r="3.1"/><circle cx="237.4" cy="485.0" r="3.1"/><circle cx="314.9" cy="461.0" r="3.1"/><circle cx="122.9" cy="541.9" r="3.1"/><circle cx="350.1" cy="447.5" r="3.1"/><circle cx="140.0" cy="532.4" r="3.1"/><circle cx="71.3" cy="550.5" r="3.1"/><circle cx="99.7" cy="549.2" r="3.1"/><circle cx="395.6" cy="418.0" r="3.1"/><circle cx="238.4" cy="471.1" r="3.1"/><circle cx="120.5" cy="516.6" r="3.1"/><circle cx="108.6" cy="558.9" r="3.1"/><circle cx="76.6" cy="565.1" r="3.1"/><circle cx="218.3" cy="512.0" r="3.1"/><circle cx="216.5" cy="514.0" r="3.1"/><circle cx="218.0" cy="502.0" r="3.1"/><circle cx="199.4" cy="488.4" r="3.1"/><circle cx="104.1" cy="569.2" r="3.1"/><circle cx="372.7" cy="430.6" r="3.1"/><circle cx="226.5" cy="482.1" r="3.1"/><circle cx="235.3" cy="448.3" r="3.1"/><circle cx="261.5" cy="475.1" r="3.1"/><circle cx="230.1" cy="491.9" r="3.1"/><circle cx="296.0" cy="474.7" r="3.1"/><circle cx="245.6" cy="505.8" r="3.1"/><circle cx="392.8" cy="404.3" r="3.1"/><circle cx="133.9" cy="528.3" r="3.1"/><circle cx="78.0" cy="569.9" r="3.1"/><circle cx="409.5" cy="403.6" r="3.1"/><circle cx="132.7" cy="547.1" r="3.1"/><circle cx="179.5" cy="498.6" r="3.1"/><circle cx="195.6" cy="516.5" r="3.1"/><circle cx="386.7" cy="420.0" r="3.1"/><circle cx="80.7" cy="567.0" r="3.1"/><circle cx="368.3" cy="415.0" r="3.1"/><circle cx="393.7" cy="422.0" r="3.1"/><circle cx="127.2" cy="540.2" r="3.1"/><circle cx="396.4" cy="409.6" r="3.1"/><circle cx="146.7" cy="524.5" r="3.1"/><circle cx="123.6" cy="550.4" r="3.1"/><circle cx="260.5" cy="508.5" r="3.1"/><circle cx="279.1" cy="458.6" r="3.1"/><circle cx="374.6" cy="419.9" r="3.1"/><circle cx="110.0" cy="551.9" r="3.1"/><circle cx="187.1" cy="512.3" r="3.1"/><circle cx="379.5" cy="407.9" r="3.1"/><circle cx="111.3" cy="537.4" r="3.1"/><circle cx="83.3" cy="559.4" r="3.1"/><circle cx="87.8" cy="566.7" r="3.1"/><circle cx="199.2" cy="523.3" r="3.1"/><circle cx="190.1" cy="497.4" r="3.1"/><circle cx="350.5" cy="418.7" r="3.1"/><circle cx="234.6" cy="504.2" r="3.1"/><circle cx="160.9" cy="523.8" r="3.1"/><circle cx="313.4" cy="448.9" r="3.1"/><circle cx="104.0" cy="566.5" r="3.1"/><circle cx="464.2" cy="380.6" r="3.1"/><circle cx="172.2" cy="497.5" r="3.1"/><circle cx="100.5" cy="566.9" r="3.1"/><circle cx="238.4" cy="470.3" r="3.1"/><circle cx="147.6" cy="512.9" r="3.1"/><circle cx="115.5" cy="563.9" r="3.1"/><circle cx="353.6" cy="446.1" r="3.1"/><circle cx="201.1" cy="471.6" r="3.1"/><circle cx="173.2" cy="513.3" r="3.1"/><circle cx="306.5" cy="452.3" r="3.1"/><circle cx="316.2" cy="460.7" r="3.1"/><circle cx="268.4" cy="463.2" r="3.1"/><circle cx="88.1" cy="569.7" r="3.1"/><circle cx="415.9" cy="415.6" r="3.1"/><circle cx="100.0" cy="538.6" r="3.1"/><circle cx="413.0" cy="417.4" r="3.1"/><circle cx="168.4" cy="519.8" r="3.1"/><circle cx="177.7" cy="517.6" r="3.1"/><circle cx="82.5" cy="568.0" r="3.1"/><circle cx="151.1" cy="554.3" r="3.1"/><circle cx="174.2" cy="528.2" r="3.1"/><circle cx="196.1" cy="502.5" r="3.1"/><circle cx="292.0" cy="457.0" r="3.1"/><circle cx="282.1" cy="476.6" r="3.1"/><circle cx="293.5" cy="464.4" r="3.1"/><circle cx="135.4" cy="543.9" r="3.1"/><circle cx="252.8" cy="475.7" r="3.1"/><circle cx="75.0" cy="571.2" r="3.1"/><circle cx="91.4" cy="551.3" r="3.1"/><circle cx="100.7" cy="573.7" r="3.1"/><circle cx="105.2" cy="553.1" r="3.1"/><circle cx="250.0" cy="502.1" r="3.1"/><circle cx="394.8" cy="417.9" r="3.1"/><circle cx="170.4" cy="525.1" r="3.1"/><circle cx="284.7" cy="460.6" r="3.1"/><circle cx="290.0" cy="467.4" r="3.1"/><circle cx="96.7" cy="557.2" r="3.1"/><circle cx="82.9" cy="573.1" r="3.1"/><circle cx="151.0" cy="542.3" r="3.1"/><circle cx="479.4" cy="368.3" r="3.1"/><circle cx="205.5" cy="490.2" r="3.1"/><circle cx="243.1" cy="475.0" r="3.1"/><circle cx="84.3" cy="550.6" r="3.1"/><circle cx="374.4" cy="423.4" r="3.1"/><circle cx="400.3" cy="420.6" r="3.1"/><circle cx="201.9" cy="482.7" r="3.1"/><circle cx="105.3" cy="559.0" r="3.1"/><circle cx="81.7" cy="572.7" r="3.1"/><circle cx="141.4" cy="471.2" r="3.1"/><circle cx="113.1" cy="555.6" r="3.1"/><circle cx="332.9" cy="458.0" r="3.1"/><circle cx="170.0" cy="518.5" r="3.1"/><circle cx="166.0" cy="521.9" r="3.1"/><circle cx="352.8" cy="438.6" r="3.1"/><circle cx="131.0" cy="545.2" r="3.1"/><circle cx="150.7" cy="541.2" r="3.1"/><circle cx="432.7" cy="401.2" r="3.1"/><circle cx="377.0" cy="469.5" r="3.1"/><circle cx="471.0" cy="381.9" r="3.1"/><circle cx="324.1" cy="434.8" r="3.1"/><circle cx="312.4" cy="446.7" r="3.1"/><circle cx="161.4" cy="515.2" r="3.1"/><circle cx="434.9" cy="392.0" r="3.1"/><circle cx="237.3" cy="494.6" r="3.1"/><circle cx="77.8" cy="553.6" r="3.1"/><circle cx="155.4" cy="504.9" r="3.1"/><circle cx="376.5" cy="423.1" r="3.1"/><circle cx="171.3" cy="533.9" r="3.1"/><circle cx="141.5" cy="552.3" r="3.1"/><circle cx="296.7" cy="453.1" r="3.1"/><circle cx="193.0" cy="524.4" r="3.1"/><circle cx="132.2" cy="535.5" r="3.1"/><circle cx="131.0" cy="504.7" r="3.1"/><circle cx="93.1" cy="568.2" r="3.1"/><circle cx="88.8" cy="575.0" r="3.1"/><circle cx="103.4" cy="531.7" r="3.1"/><circle cx="83.1" cy="579.5" r="3.1"/><circle cx="292.5" cy="451.9" r="3.1"/><circle cx="193.2" cy="524.9" r="3.1"/><circle cx="132.3" cy="540.2" r="3.1"/><circle cx="101.9" cy="555.7" r="3.1"/><circle cx="413.2" cy="408.7" r="3.1"/><circle cx="461.5" cy="375.2" r="3.1"/><circle cx="376.7" cy="430.9" r="3.1"/><circle cx="105.7" cy="519.7" r="3.1"/><circle cx="211.3" cy="495.4" r="3.1"/><circle cx="97.5" cy="555.2" r="3.1"/><circle cx="159.0" cy="524.7" r="3.1"/><circle cx="303.0" cy="435.4" r="3.1"/><circle cx="255.4" cy="460.0" r="3.1"/><circle cx="118.2" cy="560.1" r="3.1"/><circle cx="214.5" cy="518.9" r="3.1"/><circle cx="193.5" cy="532.3" r="3.1"/><circle cx="207.7" cy="486.9" r="3.1"/><circle cx="265.9" cy="484.1" r="3.1"/><circle cx="233.8" cy="474.6" r="3.1"/><circle cx="79.7" cy="570.5" r="3.1"/><circle cx="238.4" cy="492.4" r="3.1"/><circle cx="89.0" cy="561.7" r="3.1"/><circle cx="88.1" cy="560.4" r="3.1"/><circle cx="185.1" cy="512.7" r="3.1"/><circle cx="247.0" cy="462.1" r="3.1"/><circle cx="270.9" cy="468.3" r="3.1"/><circle cx="89.0" cy="571.0" r="3.1"/><circle cx="215.8" cy="487.3" r="3.1"/><circle cx="259.7" cy="489.9" r="3.1"/><circle cx="95.9" cy="571.0" r="3.1"/><circle cx="189.3" cy="498.9" r="3.1"/><circle cx="117.9" cy="553.7" r="3.1"/><circle cx="148.0" cy="546.1" r="3.1"/><circle cx="313.7" cy="446.0" r="3.1"/><circle cx="91.3" cy="571.4" r="3.1"/><circle cx="155.5" cy="525.1" r="3.1"/><circle cx="202.9" cy="500.3" r="3.1"/><circle cx="371.8" cy="421.3" r="3.1"/><circle cx="116.6" cy="555.8" r="3.1"/><circle cx="148.8" cy="524.6" r="3.1"/><circle cx="82.8" cy="571.9" r="3.1"/><circle cx="210.2" cy="486.6" r="3.1"/><circle cx="194.0" cy="499.6" r="3.1"/><circle cx="103.3" cy="565.3" r="3.1"/><circle cx="304.2" cy="451.5" r="3.1"/><circle cx="85.8" cy="566.8" r="3.1"/><circle cx="268.4" cy="521.6" r="3.1"/><circle cx="430.1" cy="388.5" r="3.1"/><circle cx="157.8" cy="528.2" r="3.1"/><circle cx="77.1" cy="577.8" r="3.1"/><circle cx="125.7" cy="527.7" r="3.1"/><circle cx="168.2" cy="542.0" r="3.1"/><circle cx="230.9" cy="494.3" r="3.1"/><circle cx="193.2" cy="501.2" r="3.1"/><circle cx="207.4" cy="504.2" r="3.1"/><circle cx="187.3" cy="519.8" r="3.1"/><circle cx="86.1" cy="563.6" r="3.1"/><circle cx="141.9" cy="545.8" r="3.1"/><circle cx="254.4" cy="473.3" r="3.1"/><circle cx="362.5" cy="447.3" r="3.1"/><circle cx="219.7" cy="474.3" r="3.1"/><circle cx="141.6" cy="541.8" r="3.1"/><circle cx="249.6" cy="476.4" r="3.1"/><circle cx="145.6" cy="499.4" r="3.1"/><circle cx="386.5" cy="438.9" r="3.1"/><circle cx="113.1" cy="556.0" r="3.1"/><circle cx="70.0" cy="554.7" r="3.1"/><circle cx="132.1" cy="534.3" r="3.1"/><circle cx="260.5" cy="484.7" r="3.1"/><circle cx="129.8" cy="533.7" r="3.1"/><circle cx="135.3" cy="551.6" r="3.1"/><circle cx="377.0" cy="431.9" r="3.1"/><circle cx="234.7" cy="503.4" r="3.1"/><circle cx="135.2" cy="544.1" r="3.1"/><circle cx="390.9" cy="437.4" r="3.1"/><circle cx="286.8" cy="464.9" r="3.1"/><circle cx="233.6" cy="501.8" r="3.1"/><circle cx="277.0" cy="460.0" r="3.1"/><circle cx="109.4" cy="564.8" r="3.1"/><circle cx="107.7" cy="551.0" r="3.1"/><circle cx="97.8" cy="566.0" r="3.1"/><circle cx="348.6" cy="431.9" r="3.1"/><circle cx="87.9" cy="569.4" r="3.1"/><circle cx="317.3" cy="444.8" r="3.1"/><circle cx="401.7" cy="423.2" r="3.1"/><circle cx="158.1" cy="530.2" r="3.1"/><circle cx="348.7" cy="419.1" r="3.1"/><circle cx="85.2" cy="581.6" r="3.1"/><circle cx="360.0" cy="427.5" r="3.1"/><circle cx="117.7" cy="539.6" r="3.1"/><circle cx="324.6" cy="446.7" r="3.1"/><circle cx="102.9" cy="569.8" r="3.1"/><circle cx="328.4" cy="448.2" r="3.1"/><circle cx="221.5" cy="474.2" r="3.1"/><circle cx="111.7" cy="556.1" r="3.1"/><circle cx="131.3" cy="542.3" r="3.1"/><circle cx="102.5" cy="568.6" r="3.1"/><circle cx="413.1" cy="399.0" r="3.1"/><circle cx="138.3" cy="522.8" r="3.1"/><circle cx="239.3" cy="504.2" r="3.1"/><circle cx="190.9" cy="525.6" r="3.1"/><circle cx="136.8" cy="543.6" r="3.1"/><circle cx="318.2" cy="450.7" r="3.1"/><circle cx="211.1" cy="503.4" r="3.1"/><circle cx="142.4" cy="526.2" r="3.1"/><circle cx="154.9" cy="518.8" r="3.1"/><circle cx="191.9" cy="529.8" r="3.1"/><circle cx="97.6" cy="570.8" r="3.1"/><circle cx="451.7" cy="389.3" r="3.1"/><circle cx="327.9" cy="428.4" r="3.1"/><circle cx="354.2" cy="432.7" r="3.1"/><circle cx="142.6" cy="522.9" r="3.1"/><circle cx="321.4" cy="485.6" r="3.1"/><circle cx="79.6" cy="566.0" r="3.1"/><circle cx="327.5" cy="445.2" r="3.1"/><circle cx="246.1" cy="490.4" r="3.1"/><circle cx="206.9" cy="486.4" r="3.1"/><circle cx="227.6" cy="482.7" r="3.1"/><circle cx="254.1" cy="479.2" r="3.1"/><circle cx="196.7" cy="502.6" r="3.1"/><circle cx="111.6" cy="552.9" r="3.1"/><circle cx="193.7" cy="505.8" r="3.1"/><circle cx="425.0" cy="410.5" r="3.1"/><circle cx="357.8" cy="428.1" r="3.1"/><circle cx="234.3" cy="464.3" r="3.1"/><circle cx="196.3" cy="508.2" r="3.1"/><circle cx="332.1" cy="450.8" r="3.1"/><circle cx="271.6" cy="483.8" r="3.1"/><circle cx="243.0" cy="477.7" r="3.1"/><circle cx="358.0" cy="422.7" r="3.1"/><circle cx="125.1" cy="551.6" r="3.1"/><circle cx="285.9" cy="461.7" r="3.1"/><circle cx="312.4" cy="468.6" r="3.1"/><circle cx="452.2" cy="393.0" r="3.1"/><circle cx="270.8" cy="444.1" r="3.1"/><circle cx="130.8" cy="519.4" r="3.1"/><circle cx="545.5" cy="361.6" r="3.1"/><circle cx="178.0" cy="519.3" r="3.1"/><circle cx="336.4" cy="449.5" r="3.1"/><circle cx="90.4" cy="570.9" r="3.1"/><circle cx="490.4" cy="366.1" r="3.1"/><circle cx="90.9" cy="566.7" r="3.1"/><circle cx="329.2" cy="449.2" r="3.1"/><circle cx="400.7" cy="410.2" r="3.1"/><circle cx="161.9" cy="528.5" r="3.1"/><circle cx="156.3" cy="495.6" r="3.1"/><circle cx="264.6" cy="479.8" r="3.1"/><circle cx="149.8" cy="534.3" r="3.1"/><circle cx="414.8" cy="432.0" r="3.1"/><circle cx="366.0" cy="430.0" r="3.1"/><circle cx="255.2" cy="485.0" r="3.1"/><circle cx="81.6" cy="546.2" r="3.1"/><circle cx="265.4" cy="476.0" r="3.1"/><circle cx="394.9" cy="409.0" r="3.1"/><circle cx="103.7" cy="569.0" r="3.1"/><circle cx="212.1" cy="506.2" r="3.1"/><circle cx="361.0" cy="426.7" r="3.1"/><circle cx="364.1" cy="434.4" r="3.1"/><circle cx="152.8" cy="546.8" r="3.1"/><circle cx="369.6" cy="428.4" r="3.1"/><circle cx="113.0" cy="559.4" r="3.1"/><circle cx="384.4" cy="403.3" r="3.1"/><circle cx="291.2" cy="465.5" r="3.1"/><circle cx="217.1" cy="489.7" r="3.1"/><circle cx="123.4" cy="551.9" r="3.1"/><circle cx="74.7" cy="542.5" r="3.1"/><circle cx="360.3" cy="426.1" r="3.1"/><circle cx="160.1" cy="516.4" r="3.1"/><circle cx="315.6" cy="507.3" r="3.1"/><circle cx="349.9" cy="429.1" r="3.1"/><circle cx="368.0" cy="418.5" r="3.1"/><circle cx="121.2" cy="559.3" r="3.1"/><circle cx="183.0" cy="512.9" r="3.1"/><circle cx="86.7" cy="563.1" r="3.1"/><circle cx="97.2" cy="551.8" r="3.1"/><circle cx="203.0" cy="487.5" r="3.1"/><circle cx="385.0" cy="415.0" r="3.1"/><circle cx="74.8" cy="566.7" r="3.1"/><circle cx="378.8" cy="440.7" r="3.1"/><circle cx="101.8" cy="518.1" r="3.1"/><circle cx="79.2" cy="569.5" r="3.1"/><circle cx="117.7" cy="503.8" r="3.1"/><circle cx="403.5" cy="421.7" r="3.1"/><circle cx="271.0" cy="490.1" r="3.1"/><circle cx="124.2" cy="544.7" r="3.1"/><circle cx="204.7" cy="467.0" r="3.1"/><circle cx="232.1" cy="517.3" r="3.1"/><circle cx="220.5" cy="498.5" r="3.1"/><circle cx="172.5" cy="525.2" r="3.1"/><circle cx="81.7" cy="574.1" r="3.1"/><circle cx="157.3" cy="524.5" r="3.1"/><circle cx="412.7" cy="395.2" r="3.1"/><circle cx="417.2" cy="425.0" r="3.1"/><circle cx="190.6" cy="482.5" r="3.1"/><circle cx="405.4" cy="395.4" r="3.1"/><circle cx="435.8" cy="406.0" r="3.1"/><circle cx="302.8" cy="459.5" r="3.1"/><circle cx="181.0" cy="510.0" r="3.1"/><circle cx="105.2" cy="558.3" r="3.1"/><circle cx="361.4" cy="433.5" r="3.1"/><circle cx="212.3" cy="489.7" r="3.1"/><circle cx="323.6" cy="442.5" r="3.1"/><circle cx="234.2" cy="505.7" r="3.1"/><circle cx="402.1" cy="414.7" r="3.1"/><circle cx="207.8" cy="488.9" r="3.1"/><circle cx="92.7" cy="566.9" r="3.1"/><circle cx="118.9" cy="541.1" r="3.1"/><circle cx="126.7" cy="532.6" r="3.1"/><circle cx="107.8" cy="556.5" r="3.1"/><circle cx="164.9" cy="523.0" r="3.1"/><circle cx="113.3" cy="487.3" r="3.1"/><circle cx="200.7" cy="472.8" r="3.1"/><circle cx="157.5" cy="515.1" r="3.1"/><circle cx="141.3" cy="522.9" r="3.1"/><circle cx="287.0" cy="478.6" r="3.1"/><circle cx="368.6" cy="423.3" r="3.1"/><circle cx="182.4" cy="510.3" r="3.1"/><circle cx="75.8" cy="569.6" r="3.1"/><circle cx="115.0" cy="551.6" r="3.1"/><circle cx="111.2" cy="534.0" r="3.1"/><circle cx="265.4" cy="450.8" r="3.1"/><circle cx="294.1" cy="488.8" r="3.1"/><circle cx="242.4" cy="459.5" r="3.1"/><circle cx="441.9" cy="395.9" r="3.1"/><circle cx="122.0" cy="550.7" r="3.1"/><circle cx="106.5" cy="527.1" r="3.1"/><circle cx="247.4" cy="506.5" r="3.1"/><circle cx="201.0" cy="471.3" r="3.1"/><circle cx="346.3" cy="448.5" r="3.1"/><circle cx="169.1" cy="516.6" r="3.1"/><circle cx="165.9" cy="523.9" r="3.1"/><circle cx="282.1" cy="459.2" r="3.1"/><circle cx="87.6" cy="570.1" r="3.1"/><circle cx="243.8" cy="472.7" r="3.1"/><circle cx="265.1" cy="470.5" r="3.1"/><circle cx="187.6" cy="511.8" r="3.1"/><circle cx="106.6" cy="567.0" r="3.1"/><circle cx="167.2" cy="532.1" r="3.1"/><circle cx="230.5" cy="486.3" r="3.1"/><circle cx="84.6" cy="569.7" r="3.1"/><circle cx="433.1" cy="398.5" r="3.1"/><circle cx="208.3" cy="496.7" r="3.1"/><circle cx="108.2" cy="562.3" r="3.1"/><circle cx="95.2" cy="572.6" r="3.1"/><circle cx="396.9" cy="415.0" r="3.1"/><circle cx="225.4" cy="504.7" r="3.1"/><circle cx="139.9" cy="531.6" r="3.1"/><circle cx="446.9" cy="389.0" r="3.1"/><circle cx="420.0" cy="412.3" r="3.1"/><circle cx="325.2" cy="440.7" r="3.1"/><circle cx="90.2" cy="532.0" r="3.1"/><circle cx="182.1" cy="517.6" r="3.1"/><circle cx="243.9" cy="500.7" r="3.1"/><circle cx="192.3" cy="530.5" r="3.1"/><circle cx="312.2" cy="459.8" r="3.1"/><circle cx="337.5" cy="440.2" r="3.1"/><circle cx="116.6" cy="538.1" r="3.1"/><circle cx="107.1" cy="537.4" r="3.1"/><circle cx="197.2" cy="483.7" r="3.1"/><circle cx="120.3" cy="527.6" r="3.1"/><circle cx="220.3" cy="485.2" r="3.1"/><circle cx="144.2" cy="528.3" r="3.1"/><circle cx="428.7" cy="403.6" r="3.1"/><circle cx="261.0" cy="472.4" r="3.1"/><circle cx="295.2" cy="463.5" r="3.1"/><circle cx="119.8" cy="550.2" r="3.1"/><circle cx="126.1" cy="559.7" r="3.1"/><circle cx="176.9" cy="525.8" r="3.1"/><circle cx="412.4" cy="418.2" r="3.1"/><circle cx="361.3" cy="433.6" r="3.1"/><circle cx="186.0" cy="480.6" r="3.1"/><circle cx="110.3" cy="550.6" r="3.1"/><circle cx="90.8" cy="570.4" r="3.1"/><circle cx="353.6" cy="420.8" r="3.1"/><circle cx="79.6" cy="573.9" r="3.1"/><circle cx="194.6" cy="506.1" r="3.1"/><circle cx="185.7" cy="516.3" r="3.1"/><circle cx="280.2" cy="455.1" r="3.1"/><circle cx="365.2" cy="449.0" r="3.1"/><circle cx="222.2" cy="450.2" r="3.1"/><circle cx="176.6" cy="518.6" r="3.1"/><circle cx="82.5" cy="568.5" r="3.1"/><circle cx="152.4" cy="484.3" r="3.1"/><circle cx="222.3" cy="506.0" r="3.1"/><circle cx="311.6" cy="462.4" r="3.1"/><circle cx="127.2" cy="536.1" r="3.1"/><circle cx="215.0" cy="500.4" r="3.1"/><circle cx="203.0" cy="489.4" r="3.1"/><circle cx="167.9" cy="524.4" r="3.1"/><circle cx="378.7" cy="431.5" r="3.1"/><circle cx="106.0" cy="515.2" r="3.1"/><circle cx="304.2" cy="446.7" r="3.1"/><circle cx="108.3" cy="496.2" r="3.1"/><circle cx="99.8" cy="565.7" r="3.1"/><circle cx="202.0" cy="508.5" r="3.1"/><circle cx="268.5" cy="486.6" r="3.1"/><circle cx="330.7" cy="450.9" r="3.1"/><circle cx="128.0" cy="546.0" r="3.1"/><circle cx="133.3" cy="534.3" r="3.1"/><circle cx="83.4" cy="563.7" r="3.1"/><circle cx="255.3" cy="477.0" r="3.1"/><circle cx="86.6" cy="561.8" r="3.1"/><circle cx="133.0" cy="529.5" r="3.1"/><circle cx="141.7" cy="545.6" r="3.1"/><circle cx="113.3" cy="517.7" r="3.1"/><circle cx="149.5" cy="537.6" r="3.1"/><circle cx="395.4" cy="420.7" r="3.1"/><circle cx="248.0" cy="480.9" r="3.1"/><circle cx="97.4" cy="556.1" r="3.1"/><circle cx="77.0" cy="569.1" r="3.1"/><circle cx="187.2" cy="510.8" r="3.1"/><circle cx="128.0" cy="533.7" r="3.1"/><circle cx="345.0" cy="427.9" r="3.1"/><circle cx="324.6" cy="452.9" r="3.1"/><circle cx="257.7" cy="485.9" r="3.1"/><circle cx="308.5" cy="462.9" r="3.1"/><circle cx="334.4" cy="438.1" r="3.1"/><circle cx="159.0" cy="516.6" r="3.1"/><circle cx="131.9" cy="534.3" r="3.1"/><circle cx="130.3" cy="521.5" r="3.1"/><circle cx="86.7" cy="567.7" r="3.1"/><circle cx="404.1" cy="411.4" r="3.1"/><circle cx="346.7" cy="450.7" r="3.1"/><circle cx="87.9" cy="568.4" r="3.1"/><circle cx="108.3" cy="502.3" r="3.1"/><circle cx="101.8" cy="558.9" r="3.1"/><circle cx="99.8" cy="565.2" r="3.1"/><circle cx="127.6" cy="550.9" r="3.1"/><circle cx="98.6" cy="564.5" r="3.1"/><circle cx="376.6" cy="437.6" r="3.1"/><circle cx="412.8" cy="401.1" r="3.1"/><circle cx="414.0" cy="411.0" r="3.1"/><circle cx="208.7" cy="496.4" r="3.1"/><circle cx="160.2" cy="526.3" r="3.1"/><circle cx="120.7" cy="538.0" r="3.1"/><circle cx="323.5" cy="425.1" r="3.1"/><circle cx="128.8" cy="543.3" r="3.1"/><circle cx="425.8" cy="406.8" r="3.1"/><circle cx="307.1" cy="461.0" r="3.1"/><circle cx="201.9" cy="500.4" r="3.1"/><circle cx="284.3" cy="467.2" r="3.1"/><circle cx="167.3" cy="530.1" r="3.1"/><circle cx="300.6" cy="448.0" r="3.1"/><circle cx="203.9" cy="482.4" r="3.1"/><circle cx="162.9" cy="507.1" r="3.1"/><circle cx="361.8" cy="448.5" r="3.1"/><circle cx="123.5" cy="532.8" r="3.1"/><circle cx="146.8" cy="542.3" r="3.1"/><circle cx="196.0" cy="509.5" r="3.1"/><circle cx="319.3" cy="438.4" r="3.1"/><circle cx="431.3" cy="402.1" r="3.1"/><circle cx="418.4" cy="397.6" r="3.1"/><circle cx="259.5" cy="478.9" r="3.1"/><circle cx="161.4" cy="500.8" r="3.1"/><circle cx="128.4" cy="531.5" r="3.1"/><circle cx="385.2" cy="430.5" r="3.1"/><circle cx="85.4" cy="575.9" r="3.1"/><circle cx="410.3" cy="411.4" r="3.1"/><circle cx="245.1" cy="497.3" r="3.1"/><circle cx="109.1" cy="525.9" r="3.1"/><circle cx="118.5" cy="520.7" r="3.1"/><circle cx="339.0" cy="427.0" r="3.1"/><circle cx="139.9" cy="554.3" r="3.1"/><circle cx="297.2" cy="469.8" r="3.1"/><circle cx="260.5" cy="497.5" r="3.1"/><circle cx="305.7" cy="418.6" r="3.1"/><circle cx="236.6" cy="485.2" r="3.1"/><circle cx="296.7" cy="455.2" r="3.1"/><circle cx="189.8" cy="506.5" r="3.1"/><circle cx="431.1" cy="434.2" r="3.1"/><circle cx="193.1" cy="508.0" r="3.1"/><circle cx="254.4" cy="485.6" r="3.1"/><circle cx="149.9" cy="527.3" r="3.1"/><circle cx="90.7" cy="556.6" r="3.1"/><circle cx="444.0" cy="390.5" r="3.1"/><circle cx="346.6" cy="424.3" r="3.1"/><circle cx="100.9" cy="518.4" r="3.1"/><circle cx="150.2" cy="511.0" r="3.1"/><circle cx="319.8" cy="452.2" r="3.1"/><circle cx="318.3" cy="423.1" r="3.1"/><circle cx="385.8" cy="425.1" r="3.1"/><circle cx="194.0" cy="501.1" r="3.1"/><circle cx="209.5" cy="514.6" r="3.1"/><circle cx="446.9" cy="401.6" r="3.1"/><circle cx="91.4" cy="564.1" r="3.1"/><circle cx="286.1" cy="460.0" r="3.1"/><circle cx="160.7" cy="540.0" r="3.1"/><circle cx="115.2" cy="554.2" r="3.1"/><circle cx="133.4" cy="537.6" r="3.1"/><circle cx="140.9" cy="527.6" r="3.1"/><circle cx="221.1" cy="501.9" r="3.1"/><circle cx="116.6" cy="522.3" r="3.1"/><circle cx="241.3" cy="461.9" r="3.1"/><circle cx="173.9" cy="540.6" r="3.1"/><circle cx="410.4" cy="411.6" r="3.1"/><circle cx="212.6" cy="506.1" r="3.1"/><circle cx="84.7" cy="569.0" r="3.1"/><circle cx="453.2" cy="418.0" r="3.1"/><circle cx="377.2" cy="439.2" r="3.1"/><circle cx="111.0" cy="547.1" r="3.1"/><circle cx="213.4" cy="492.9" r="3.1"/><circle cx="77.1" cy="574.3" r="3.1"/><circle cx="313.0" cy="447.6" r="3.1"/><circle cx="111.8" cy="548.6" r="3.1"/><circle cx="97.7" cy="563.7" r="3.1"/><circle cx="375.0" cy="448.2" r="3.1"/><circle cx="437.8" cy="387.9" r="3.1"/><circle cx="385.6" cy="416.6" r="3.1"/><circle cx="311.6" cy="461.3" r="3.1"/><circle cx="409.8" cy="409.9" r="3.1"/><circle cx="83.3" cy="573.7" r="3.1"/><circle cx="194.3" cy="508.9" r="3.1"/><circle cx="164.9" cy="539.5" r="3.1"/><circle cx="117.7" cy="554.6" r="3.1"/><circle cx="158.7" cy="513.7" r="3.1"/><circle cx="157.6" cy="522.6" r="3.1"/><circle cx="191.5" cy="510.8" r="3.1"/><circle cx="383.4" cy="409.0" r="3.1"/><circle cx="144.0" cy="528.6" r="3.1"/><circle cx="402.8" cy="415.8" r="3.1"/><circle cx="362.7" cy="421.2" r="3.1"/><circle cx="255.3" cy="466.0" r="3.1"/><circle cx="388.6" cy="453.5" r="3.1"/><circle cx="147.0" cy="513.2" r="3.1"/><circle cx="388.5" cy="408.9" r="3.1"/><circle cx="103.9" cy="569.5" r="3.1"/><circle cx="101.2" cy="570.1" r="3.1"/><circle cx="203.7" cy="499.5" r="3.1"/><circle cx="90.9" cy="569.9" r="3.1"/><circle cx="228.4" cy="489.5" r="3.1"/><circle cx="97.4" cy="557.8" r="3.1"/><circle cx="360.8" cy="428.6" r="3.1"/><circle cx="200.0" cy="511.8" r="3.1"/><circle cx="163.2" cy="538.5" r="3.1"/><circle cx="118.4" cy="548.5" r="3.1"/><circle cx="405.3" cy="431.9" r="3.1"/><circle cx="408.7" cy="414.2" r="3.1"/><circle cx="142.5" cy="542.5" r="3.1"/><circle cx="203.1" cy="524.4" r="3.1"/><circle cx="276.0" cy="493.6" r="3.1"/><circle cx="328.6" cy="441.6" r="3.1"/><circle cx="257.7" cy="477.6" r="3.1"/><circle cx="409.1" cy="401.9" r="3.1"/><circle cx="399.4" cy="418.3" r="3.1"/><circle cx="315.6" cy="457.0" r="3.1"/><circle cx="187.7" cy="501.1" r="3.1"/><circle cx="195.8" cy="502.4" r="3.1"/><circle cx="418.3" cy="393.2" r="3.1"/><circle cx="83.1" cy="505.3" r="3.1"/><circle cx="78.9" cy="567.5" r="3.1"/><circle cx="91.4" cy="574.1" r="3.1"/><circle cx="198.1" cy="497.5" r="3.1"/><circle cx="76.3" cy="568.0" r="3.1"/><circle cx="92.1" cy="560.8" r="3.1"/><circle cx="140.7" cy="529.8" r="3.1"/><circle cx="131.1" cy="533.9" r="3.1"/><circle cx="270.1" cy="444.7" r="3.1"/><circle cx="310.6" cy="452.0" r="3.1"/><circle cx="86.4" cy="541.6" r="3.1"/><circle cx="350.9" cy="446.0" r="3.1"/><circle cx="232.6" cy="502.4" r="3.1"/><circle cx="425.3" cy="404.0" r="3.1"/><circle cx="282.4" cy="455.9" r="3.1"/><circle cx="228.5" cy="482.3" r="3.1"/><circle cx="259.8" cy="480.7" r="3.1"/><circle cx="167.0" cy="509.9" r="3.1"/><circle cx="96.6" cy="564.2" r="3.1"/><circle cx="343.2" cy="446.1" r="3.1"/><circle cx="224.1" cy="509.7" r="3.1"/><circle cx="107.8" cy="547.6" r="3.1"/><circle cx="186.7" cy="491.7" r="3.1"/><circle cx="374.9" cy="425.7" r="3.1"/><circle cx="121.1" cy="561.0" r="3.1"/><circle cx="302.0" cy="431.2" r="3.1"/><circle cx="189.1" cy="492.5" r="3.1"/><circle cx="132.7" cy="538.7" r="3.1"/><circle cx="191.0" cy="501.4" r="3.1"/><circle cx="220.6" cy="508.9" r="3.1"/><circle cx="240.6" cy="493.9" r="3.1"/><circle cx="95.6" cy="556.7" r="3.1"/><circle cx="375.3" cy="432.6" r="3.1"/><circle cx="100.9" cy="515.7" r="3.1"/><circle cx="396.9" cy="417.2" r="3.1"/><circle cx="342.4" cy="451.8" r="3.1"/><circle cx="310.1" cy="449.6" r="3.1"/><circle cx="241.0" cy="497.5" r="3.1"/><circle cx="82.6" cy="566.4" r="3.1"/><circle cx="128.3" cy="551.2" r="3.1"/><circle cx="81.5" cy="561.8" r="3.1"/><circle cx="296.0" cy="467.7" r="3.1"/><circle cx="152.2" cy="543.4" r="3.1"/><circle cx="87.8" cy="540.4" r="3.1"/><circle cx="298.8" cy="484.9" r="3.1"/><circle cx="265.5" cy="444.3" r="3.1"/><circle cx="199.3" cy="499.7" r="3.1"/><circle cx="405.4" cy="435.4" r="3.1"/><circle cx="138.3" cy="520.6" r="3.1"/><circle cx="279.0" cy="471.8" r="3.1"/><circle cx="102.8" cy="564.2" r="3.1"/><circle cx="218.3" cy="512.9" r="3.1"/><circle cx="142.7" cy="529.5" r="3.1"/><circle cx="141.7" cy="530.9" r="3.1"/><circle cx="164.1" cy="535.3" r="3.1"/><circle cx="489.4" cy="386.8" r="3.1"/><circle cx="123.9" cy="561.3" r="3.1"/><circle cx="179.8" cy="497.4" r="3.1"/><circle cx="130.2" cy="534.6" r="3.1"/><circle cx="114.3" cy="562.4" r="3.1"/><circle cx="321.3" cy="446.1" r="3.1"/><circle cx="236.4" cy="465.6" r="3.1"/><circle cx="112.4" cy="555.0" r="3.1"/><circle cx="237.9" cy="499.5" r="3.1"/><circle cx="106.2" cy="563.3" r="3.1"/><circle cx="277.5" cy="472.1" r="3.1"/><circle cx="86.4" cy="573.5" r="3.1"/><circle cx="98.8" cy="573.8" r="3.1"/><circle cx="200.8" cy="466.1" r="3.1"/><circle cx="81.1" cy="566.3" r="3.1"/><circle cx="145.8" cy="533.2" r="3.1"/><circle cx="198.9" cy="497.4" r="3.1"/><circle cx="250.6" cy="467.4" r="3.1"/><circle cx="112.4" cy="569.6" r="3.1"/><circle cx="162.4" cy="464.1" r="3.1"/><circle cx="340.5" cy="447.4" r="3.1"/><circle cx="289.5" cy="468.5" r="3.1"/><circle cx="289.6" cy="457.5" r="3.1"/><circle cx="136.5" cy="552.4" r="3.1"/><circle cx="324.8" cy="438.5" r="3.1"/><circle cx="217.8" cy="523.6" r="3.1"/><circle cx="352.6" cy="435.5" r="3.1"/><circle cx="396.7" cy="420.5" r="3.1"/><circle cx="266.3" cy="449.6" r="3.1"/><circle cx="172.9" cy="512.8" r="3.1"/><circle cx="79.9" cy="568.2" r="3.1"/><circle cx="346.1" cy="441.0" r="3.1"/><circle cx="398.5" cy="426.5" r="3.1"/><circle cx="381.7" cy="413.5" r="3.1"/><circle cx="145.9" cy="523.6" r="3.1"/><circle cx="89.1" cy="549.0" r="3.1"/><circle cx="288.3" cy="451.5" r="3.1"/><circle cx="386.5" cy="434.0" r="3.1"/><circle cx="191.7" cy="523.8" r="3.1"/><circle cx="427.8" cy="400.6" r="3.1"/><circle cx="415.2" cy="407.8" r="3.1"/><circle cx="159.0" cy="535.4" r="3.1"/><circle cx="108.0" cy="564.5" r="3.1"/><circle cx="153.2" cy="528.0" r="3.1"/><circle cx="492.5" cy="369.5" r="3.1"/><circle cx="227.1" cy="495.3" r="3.1"/><circle cx="386.5" cy="491.7" r="3.1"/><circle cx="108.3" cy="554.6" r="3.1"/><circle cx="183.1" cy="528.1" r="3.1"/><circle cx="210.3" cy="475.8" r="3.1"/><circle cx="566.5" cy="361.6" r="3.1"/><circle cx="181.3" cy="494.7" r="3.1"/><circle cx="314.5" cy="447.5" r="3.1"/><circle cx="184.5" cy="490.9" r="3.1"/><circle cx="219.8" cy="493.5" r="3.1"/><circle cx="188.1" cy="514.2" r="3.1"/><circle cx="226.2" cy="493.9" r="3.1"/><circle cx="304.6" cy="455.5" r="3.1"/><circle cx="218.0" cy="507.1" r="3.1"/><circle cx="79.8" cy="564.4" r="3.1"/><circle cx="396.5" cy="442.3" r="3.1"/><circle cx="176.1" cy="508.0" r="3.1"/><circle cx="164.1" cy="518.1" r="3.1"/><circle cx="481.0" cy="391.2" r="3.1"/><circle cx="259.0" cy="476.4" r="3.1"/><circle cx="162.4" cy="503.4" r="3.1"/><circle cx="123.6" cy="556.9" r="3.1"/><circle cx="150.2" cy="533.2" r="3.1"/><circle cx="105.4" cy="517.2" r="3.1"/><circle cx="121.6" cy="542.7" r="3.1"/><circle cx="173.4" cy="516.3" r="3.1"/><circle cx="158.1" cy="525.0" r="3.1"/><circle cx="123.6" cy="551.3" r="3.1"/><circle cx="129.2" cy="525.0" r="3.1"/><circle cx="151.9" cy="510.3" r="3.1"/><circle cx="116.1" cy="541.0" r="3.1"/><circle cx="104.0" cy="564.4" r="3.1"/><circle cx="84.5" cy="541.3" r="3.1"/><circle cx="193.3" cy="524.0" r="3.1"/><circle cx="182.7" cy="505.4" r="3.1"/><circle cx="125.6" cy="526.2" r="3.1"/><circle cx="122.4" cy="544.8" r="3.1"/><circle cx="210.9" cy="497.5" r="3.1"/><circle cx="241.8" cy="475.0" r="3.1"/><circle cx="252.1" cy="486.4" r="3.1"/><circle cx="175.1" cy="531.7" r="3.1"/><circle cx="173.0" cy="538.0" r="3.1"/><circle cx="129.6" cy="543.9" r="3.1"/><circle cx="214.2" cy="490.5" r="3.1"/><circle cx="170.5" cy="460.1" r="3.1"/><circle cx="113.1" cy="548.3" r="3.1"/><circle cx="89.6" cy="570.0" r="3.1"/><circle cx="112.4" cy="555.0" r="3.1"/><circle cx="295.4" cy="459.0" r="3.1"/><circle cx="268.3" cy="444.3" r="3.1"/><circle cx="91.2" cy="540.0" r="3.1"/><circle cx="293.1" cy="470.6" r="3.1"/><circle cx="398.6" cy="433.7" r="3.1"/><circle cx="100.9" cy="554.3" r="3.1"/><circle cx="143.0" cy="524.7" r="3.1"/><circle cx="100.3" cy="563.4" r="3.1"/><circle cx="97.1" cy="541.7" r="3.1"/><circle cx="76.0" cy="572.5" r="3.1"/><circle cx="337.3" cy="446.6" r="3.1"/><circle cx="112.5" cy="507.3" r="3.1"/><circle cx="78.9" cy="569.2" r="3.1"/><circle cx="462.6" cy="475.9" r="3.1"/><circle cx="281.9" cy="482.5" r="3.1"/><circle cx="154.9" cy="498.8" r="3.1"/><circle cx="139.8" cy="486.5" r="3.1"/><circle cx="98.0" cy="568.5" r="3.1"/><circle cx="139.5" cy="536.6" r="3.1"/><circle cx="203.4" cy="505.5" r="3.1"/><circle cx="405.5" cy="412.4" r="3.1"/><circle cx="431.6" cy="419.6" r="3.1"/><circle cx="364.7" cy="435.6" r="3.1"/><circle cx="247.4" cy="495.2" r="3.1"/><circle cx="233.2" cy="474.9" r="3.1"/><circle cx="139.2" cy="535.1" r="3.1"/><circle cx="369.5" cy="429.3" r="3.1"/><circle cx="108.8" cy="560.6" r="3.1"/><circle cx="295.7" cy="459.8" r="3.1"/><circle cx="258.9" cy="484.4" r="3.1"/><circle cx="234.8" cy="458.9" r="3.1"/><circle cx="209.5" cy="494.7" r="3.1"/><circle cx="112.9" cy="515.3" r="3.1"/><circle cx="109.3" cy="561.7" r="3.1"/><circle cx="404.1" cy="405.4" r="3.1"/><circle cx="274.1" cy="481.3" r="3.1"/><circle cx="246.7" cy="493.1" r="3.1"/><circle cx="138.4" cy="529.2" r="3.1"/><circle cx="165.1" cy="525.0" r="3.1"/><circle cx="75.3" cy="542.6" r="3.1"/><circle cx="121.2" cy="553.6" r="3.1"/><circle cx="92.3" cy="571.5" r="3.1"/><circle cx="83.5" cy="572.2" r="3.1"/><circle cx="136.3" cy="523.0" r="3.1"/><circle cx="449.4" cy="396.4" r="3.1"/><circle cx="90.7" cy="558.4" r="3.1"/><circle cx="173.3" cy="515.2" r="3.1"/><circle cx="420.9" cy="413.6" r="3.1"/><circle cx="406.7" cy="437.0" r="3.1"/><circle cx="154.3" cy="519.6" r="3.1"/><circle cx="188.1" cy="507.6" r="3.1"/><circle cx="448.5" cy="396.9" r="3.1"/><circle cx="149.1" cy="540.1" r="3.1"/><circle cx="294.4" cy="482.2" r="3.1"/><circle cx="243.2" cy="445.3" r="3.1"/><circle cx="322.5" cy="449.6" r="3.1"/><circle cx="158.2" cy="525.7" r="3.1"/><circle cx="86.0" cy="574.5" r="3.1"/><circle cx="244.0" cy="490.2" r="3.1"/><circle cx="203.1" cy="503.6" r="3.1"/><circle cx="353.4" cy="414.2" r="3.1"/><circle cx="280.7" cy="479.9" r="3.1"/><circle cx="368.0" cy="432.0" r="3.1"/><circle cx="94.9" cy="575.8" r="3.1"/><circle cx="190.4" cy="507.4" r="3.1"/><circle cx="326.4" cy="432.9" r="3.1"/><circle cx="92.5" cy="577.2" r="3.1"/><circle cx="90.6" cy="541.6" r="3.1"/><circle cx="403.6" cy="417.9" r="3.1"/><circle cx="307.8" cy="458.4" r="3.1"/><circle cx="226.1" cy="474.3" r="3.1"/><circle cx="78.0" cy="557.5" r="3.1"/><circle cx="132.8" cy="540.9" r="3.1"/><circle cx="419.6" cy="450.2" r="3.1"/><circle cx="293.1" cy="434.7" r="3.1"/><circle cx="107.2" cy="557.3" r="3.1"/><circle cx="306.8" cy="464.4" r="3.1"/><circle cx="87.3" cy="570.4" r="3.1"/><circle cx="88.4" cy="569.7" r="3.1"/><circle cx="301.7" cy="455.2" r="3.1"/><circle cx="214.6" cy="479.9" r="3.1"/><circle cx="108.3" cy="538.0" r="3.1"/><circle cx="299.4" cy="455.8" r="3.1"/><circle cx="138.9" cy="528.3" r="3.1"/><circle cx="95.7" cy="568.5" r="3.1"/><circle cx="240.7" cy="463.2" r="3.1"/><circle cx="444.2" cy="402.6" r="3.1"/><circle cx="257.9" cy="437.2" r="3.1"/><circle cx="211.4" cy="486.0" r="3.1"/><circle cx="343.4" cy="478.6" r="3.1"/><circle cx="86.1" cy="570.1" r="3.1"/><circle cx="94.1" cy="575.4" r="3.1"/><circle cx="252.8" cy="478.2" r="3.1"/><circle cx="281.8" cy="456.5" r="3.1"/><circle cx="238.0" cy="487.9" r="3.1"/><circle cx="261.9" cy="473.7" r="3.1"/><circle cx="84.1" cy="521.4" r="3.1"/><circle cx="181.2" cy="523.6" r="3.1"/><circle cx="267.2" cy="463.5" r="3.1"/><circle cx="334.7" cy="431.3" r="3.1"/><circle cx="95.1" cy="573.4" r="3.1"/><circle cx="263.0" cy="474.3" r="3.1"/><circle cx="154.5" cy="492.2" r="3.1"/><circle cx="390.5" cy="408.8" r="3.1"/><circle cx="248.9" cy="481.1" r="3.1"/><circle cx="100.3" cy="566.1" r="3.1"/><circle cx="230.9" cy="482.9" r="3.1"/><circle cx="199.7" cy="516.8" r="3.1"/><circle cx="136.5" cy="539.1" r="3.1"/><circle cx="289.8" cy="458.2" r="3.1"/><circle cx="259.9" cy="466.3" r="3.1"/><circle cx="150.8" cy="532.1" r="3.1"/><circle cx="165.3" cy="503.0" r="3.1"/><circle cx="134.7" cy="544.4" r="3.1"/><circle cx="414.4" cy="413.5" r="3.1"/><circle cx="165.9" cy="514.5" r="3.1"/><circle cx="120.0" cy="548.1" r="3.1"/><circle cx="213.0" cy="487.4" r="3.1"/><circle cx="102.4" cy="561.0" r="3.1"/><circle cx="256.3" cy="449.3" r="3.1"/><circle cx="364.3" cy="429.0" r="3.1"/><circle cx="203.5" cy="511.6" r="3.1"/><circle cx="403.9" cy="405.6" r="3.1"/><circle cx="170.3" cy="519.9" r="3.1"/><circle cx="411.7" cy="388.5" r="3.1"/><circle cx="87.2" cy="564.4" r="3.1"/><circle cx="91.0" cy="520.4" r="3.1"/><circle cx="155.2" cy="541.6" r="3.1"/><circle cx="340.7" cy="454.8" r="3.1"/><circle cx="325.1" cy="440.8" r="3.1"/><circle cx="168.2" cy="496.0" r="3.1"/><circle cx="214.4" cy="510.6" r="3.1"/><circle cx="207.9" cy="489.0" r="3.1"/><circle cx="280.9" cy="459.8" r="3.1"/><circle cx="164.0" cy="547.5" r="3.1"/><circle cx="171.1" cy="531.0" r="3.1"/><circle cx="83.3" cy="570.9" r="3.1"/><circle cx="140.3" cy="499.4" r="3.1"/><circle cx="411.7" cy="406.0" r="3.1"/><circle cx="131.9" cy="539.3" r="3.1"/><circle cx="131.0" cy="526.1" r="3.1"/><circle cx="81.8" cy="574.6" r="3.1"/><circle cx="376.8" cy="412.1" r="3.1"/><circle cx="319.8" cy="448.4" r="3.1"/><circle cx="450.5" cy="383.6" r="3.1"/><circle cx="253.2" cy="498.0" r="3.1"/><circle cx="428.0" cy="394.7" r="3.1"/><circle cx="90.8" cy="559.5" r="3.1"/><circle cx="144.7" cy="532.2" r="3.1"/><circle cx="155.5" cy="548.4" r="3.1"/><circle cx="279.6" cy="458.0" r="3.1"/><circle cx="378.3" cy="419.8" r="3.1"/><circle cx="129.9" cy="548.6" r="3.1"/><circle cx="300.1" cy="471.2" r="3.1"/><circle cx="109.1" cy="556.9" r="3.1"/><circle cx="162.1" cy="522.7" r="3.1"/><circle cx="196.4" cy="503.4" r="3.1"/><circle cx="231.2" cy="484.0" r="3.1"/><circle cx="103.4" cy="563.3" r="3.1"/><circle cx="114.2" cy="520.9" r="3.1"/><circle cx="468.4" cy="392.0" r="3.1"/><circle cx="112.4" cy="556.6" r="3.1"/><circle cx="425.9" cy="403.8" r="3.1"/><circle cx="144.5" cy="541.5" r="3.1"/><circle cx="140.4" cy="532.8" r="3.1"/><circle cx="149.2" cy="546.1" r="3.1"/><circle cx="309.3" cy="488.8" r="3.1"/><circle cx="83.7" cy="569.7" r="3.1"/><circle cx="457.4" cy="399.1" r="3.1"/><circle cx="385.8" cy="407.2" r="3.1"/><circle cx="415.5" cy="409.8" r="3.1"/><circle cx="145.9" cy="533.7" r="3.1"/><circle cx="264.6" cy="464.3" r="3.1"/><circle cx="230.6" cy="449.3" r="3.1"/><circle cx="169.1" cy="520.0" r="3.1"/><circle cx="122.6" cy="554.9" r="3.1"/><circle cx="254.5" cy="495.1" r="3.1"/><circle cx="81.5" cy="562.8" r="3.1"/><circle cx="408.5" cy="416.4" r="3.1"/><circle cx="117.3" cy="538.2" r="3.1"/><circle cx="274.6" cy="468.8" r="3.1"/><circle cx="254.8" cy="447.9" r="3.1"/><circle cx="99.2" cy="562.0" r="3.1"/><circle cx="75.0" cy="570.5" r="3.1"/><circle cx="170.2" cy="504.9" r="3.1"/><circle cx="119.5" cy="561.1" r="3.1"/><circle cx="421.4" cy="411.3" r="3.1"/><circle cx="161.1" cy="535.9" r="3.1"/><circle cx="98.9" cy="568.7" r="3.1"/><circle cx="113.9" cy="522.9" r="3.1"/><circle cx="113.4" cy="561.5" r="3.1"/><circle cx="103.9" cy="535.1" r="3.1"/><circle cx="94.9" cy="559.5" r="3.1"/><circle cx="164.6" cy="537.9" r="3.1"/><circle cx="84.1" cy="517.4" r="3.1"/><circle cx="65.2" cy="566.3" r="3.1"/><circle cx="447.2" cy="407.9" r="3.1"/><circle cx="147.3" cy="530.0" r="3.1"/><circle cx="104.4" cy="527.9" r="3.1"/><circle cx="86.9" cy="577.6" r="3.1"/><circle cx="77.4" cy="572.0" r="3.1"/><circle cx="176.3" cy="522.1" r="3.1"/><circle cx="246.0" cy="494.8" r="3.1"/><circle cx="373.6" cy="425.9" r="3.1"/><circle cx="232.2" cy="458.4" r="3.1"/><circle cx="104.7" cy="552.5" r="3.1"/><circle cx="319.6" cy="437.6" r="3.1"/><circle cx="413.0" cy="410.5" r="3.1"/><circle cx="239.4" cy="509.9" r="3.1"/><circle cx="203.0" cy="482.2" r="3.1"/><circle cx="108.1" cy="555.2" r="3.1"/><circle cx="278.4" cy="456.2" r="3.1"/><circle cx="76.7" cy="576.7" r="3.1"/><circle cx="145.6" cy="541.5" r="3.1"/><circle cx="309.2" cy="478.1" r="3.1"/><circle cx="510.9" cy="374.0" r="3.1"/><circle cx="85.5" cy="568.3" r="3.1"/><circle cx="194.4" cy="543.8" r="3.1"/><circle cx="89.1" cy="556.0" r="3.1"/><circle cx="460.0" cy="379.4" r="3.1"/><circle cx="235.5" cy="485.1" r="3.1"/><circle cx="92.9" cy="573.4" r="3.1"/><circle cx="107.9" cy="552.2" r="3.1"/><circle cx="441.5" cy="408.0" r="3.1"/><circle cx="289.5" cy="479.7" r="3.1"/><circle cx="95.2" cy="574.8" r="3.1"/><circle cx="257.1" cy="492.9" r="3.1"/><circle cx="155.8" cy="532.9" r="3.1"/><circle cx="185.6" cy="489.3" r="3.1"/><circle cx="120.6" cy="546.9" r="3.1"/><circle cx="136.1" cy="543.9" r="3.1"/><circle cx="456.3" cy="376.9" r="3.1"/><circle cx="221.4" cy="508.6" r="3.1"/><circle cx="163.2" cy="529.1" r="3.1"/><circle cx="78.2" cy="569.2" r="3.1"/><circle cx="179.1" cy="528.9" r="3.1"/><circle cx="79.9" cy="579.6" r="3.1"/><circle cx="453.7" cy="391.7" r="3.1"/><circle cx="124.1" cy="535.5" r="3.1"/><circle cx="160.2" cy="513.0" r="3.1"/><circle cx="77.4" cy="571.0" r="3.1"/><circle cx="280.5" cy="492.7" r="3.1"/><circle cx="194.8" cy="507.1" r="3.1"/><circle cx="117.9" cy="540.3" r="3.1"/><circle cx="444.2" cy="371.2" r="3.1"/><circle cx="164.8" cy="500.4" r="3.1"/><circle cx="223.4" cy="496.1" r="3.1"/><circle cx="196.6" cy="489.0" r="3.1"/><circle cx="219.6" cy="494.7" r="3.1"/><circle cx="145.7" cy="517.3" r="3.1"/><circle cx="146.2" cy="532.5" r="3.1"/><circle cx="316.7" cy="452.3" r="3.1"/><circle cx="98.8" cy="565.1" r="3.1"/><circle cx="393.9" cy="415.2" r="3.1"/><circle cx="328.4" cy="446.0" r="3.1"/><circle cx="183.4" cy="534.5" r="3.1"/><circle cx="99.8" cy="571.5" r="3.1"/><circle cx="467.3" cy="378.2" r="3.1"/><circle cx="159.2" cy="531.2" r="3.1"/><circle cx="94.5" cy="576.7" r="3.1"/><circle cx="125.7" cy="536.5" r="3.1"/><circle cx="88.5" cy="576.0" r="3.1"/><circle cx="173.9" cy="536.7" r="3.1"/><circle cx="262.9" cy="450.7" r="3.1"/><circle cx="91.4" cy="572.7" r="3.1"/><circle cx="139.3" cy="544.5" r="3.1"/><circle cx="249.1" cy="478.5" r="3.1"/><circle cx="100.5" cy="554.7" r="3.1"/><circle cx="123.0" cy="535.8" r="3.1"/><circle cx="389.7" cy="417.9" r="3.1"/><circle cx="537.7" cy="371.2" r="3.1"/><circle cx="75.1" cy="554.9" r="3.1"/><circle cx="184.2" cy="531.4" r="3.1"/><circle cx="202.3" cy="463.0" r="3.1"/><circle cx="229.1" cy="488.6" r="3.1"/><circle cx="113.5" cy="559.3" r="3.1"/><circle cx="205.0" cy="466.7" r="3.1"/><circle cx="391.5" cy="423.7" r="3.1"/><circle cx="348.7" cy="449.8" r="3.1"/><circle cx="332.5" cy="442.1" r="3.1"/><circle cx="427.1" cy="393.4" r="3.1"/><circle cx="213.7" cy="492.4" r="3.1"/><circle cx="264.6" cy="491.2" r="3.1"/><circle cx="262.6" cy="481.2" r="3.1"/><circle cx="210.3" cy="493.9" r="3.1"/><circle cx="333.3" cy="432.7" r="3.1"/><circle cx="343.7" cy="460.8" r="3.1"/><circle cx="177.3" cy="500.0" r="3.1"/><circle cx="230.9" cy="486.1" r="3.1"/><circle cx="94.6" cy="546.0" r="3.1"/><circle cx="346.6" cy="442.7" r="3.1"/><circle cx="235.8" cy="440.1" r="3.1"/></g><clipPath id="clipb"><rect x="65.25" y="322.60" width="524.90" height="271.59"/></clipPath><g clip-path="url(#clipb)"><line x1="65.25" y1="569.50" x2="590.15" y2="321.74" stroke="#000" stroke-width="2.0"/><line x1="65.25" y1="569.50" x2="590.15" y2="259.79" stroke="#f00" stroke-width="2.3" stroke-linecap="round" stroke-dasharray="6.0 8.8" stroke-dashoffset="-0.45"/><line x1="65.25" y1="569.50" x2="590.15" y2="383.68" stroke="#f00" stroke-width="2.3" stroke-linecap="round" stroke-dasharray="6.0 8.8" stroke-dashoffset="-0.45"/></g><line x1="65.25" y1="569.50" x2="590.15" y2="569.50" stroke="#000" stroke-width="1.6"/><path d="M65.25 594.19h5 M65.25 569.50h5 M65.25 544.81h5 M65.25 520.12h5 M65.25 495.43h5 M65.25 470.74h5 M65.25 446.05h5 M65.25 421.36h5 M65.25 396.67h5 M65.25 371.98h5 M65.25 347.29h5 M65.25 322.60h5 M117.74 569.50v-5 M170.23 569.50v-5 M222.72 569.50v-5 M275.21 569.50v-5 M327.70 569.50v-5 M380.19 569.50v-5 M432.68 569.50v-5 M485.17 569.50v-5 M537.66 569.50v-5 M590.15 569.50v-5" stroke="#000" stroke-width="1.4" fill="none"/><g font-family="Liberation Serif" font-weight="bold" font-size="15" fill="#000"><text x="51.25" y="600.59" text-anchor="end">-0.1</text><text x="51.25" y="575.90" text-anchor="end">0</text><text x="51.25" y="551.21" text-anchor="end">0.1</text><text x="51.25" y="526.52" text-anchor="end">0.2</text><text x="51.25" y="501.83" text-anchor="end">0.3</text><text x="51.25" y="477.14" text-anchor="end">0.4</text><text x="51.25" y="452.45" text-anchor="end">0.5</text><text x="51.25" y="427.76" text-anchor="end">0.6</text><text x="51.25" y="403.07" text-anchor="end">0.7</text><text x="51.25" y="378.38" text-anchor="end">0.8</text><text x="51.25" y="353.69" text-anchor="end">0.9</text><text x="51.25" y="329.00" text-anchor="end">1</text><text x="65.25" y="593.10" text-anchor="middle">0</text><text x="117.74" y="593.10" text-anchor="middle">0.1</text><text x="170.23" y="593.10" text-anchor="middle">0.2</text><text x="222.72" y="593.10" text-anchor="middle">0.3</text><text x="275.21" y="593.10" text-anchor="middle">0.4</text><text x="327.70" y="593.10" text-anchor="middle">0.5</text><text x="380.19" y="593.10" text-anchor="middle">0.6</text><text x="432.68" y="593.10" text-anchor="middle">0.7</text><text x="485.17" y="593.10" text-anchor="middle">0.8</text><text x="537.66" y="593.10" text-anchor="middle">0.9</text><text x="590.15" y="593.10" text-anchor="middle">1</text></g><rect x="65.25" y="322.60" width="524.90" height="271.59" fill="none" stroke="#000" stroke-width="1.9"/><g font-family="Liberation Serif" font-weight="bold" fill="#000"><text x="82.10" y="351.60" font-size="25.5">(b)</text><text x="392.80" y="344.30" font-size="17.6">+25%</text><text x="512.50" y="430.90" font-size="17.6">-25%</text><text x="310.10" y="614.90" font-size="16.0">Y<tspan font-size="11.0" dy="3.3">2</tspan><tspan font-size="10.5" dy="-8.2">Exp</tspan></text><text transform="translate(16.80 476.00) rotate(-90)" font-size="16.0">Y<tspan font-size="11.0" dy="3.3">2</tspan><tspan font-size="10.5" dy="-8.2">Pre</tspan></text></g><g fill="none" stroke="#33b81a" stroke-width="1.45"><circle cx="187.6" cy="822.4" r="4.1"/><circle cx="526.5" cy="687.1" r="4.1"/><circle cx="79.8" cy="880.5" r="4.1"/><circle cx="178.5" cy="832.2" r="4.1"/><circle cx="155.0" cy="857.6" r="4.1"/><circle cx="212.9" cy="812.7" r="4.1"/><circle cx="116.4" cy="868.7" r="4.1"/><circle cx="117.2" cy="870.3" r="4.1"/><circle cx="172.1" cy="842.9" r="4.1"/><circle cx="201.0" cy="825.9" r="4.1"/><circle cx="216.2" cy="792.5" r="4.1"/><circle cx="191.8" cy="836.5" r="4.1"/><circle cx="150.1" cy="846.5" r="4.1"/><circle cx="125.1" cy="857.2" r="4.1"/><circle cx="222.3" cy="808.5" r="4.1"/><circle cx="101.6" cy="870.2" r="4.1"/><circle cx="189.9" cy="819.1" r="4.1"/><circle cx="125.3" cy="863.8" r="4.1"/><circle cx="247.9" cy="816.7" r="4.1"/><circle cx="292.8" cy="785.7" r="4.1"/><circle cx="166.2" cy="832.6" r="4.1"/><circle cx="83.9" cy="879.1" r="4.1"/><circle cx="74.5" cy="819.5" r="4.1"/><circle cx="159.0" cy="844.1" r="4.1"/><circle cx="439.3" cy="703.8" r="4.1"/><circle cx="92.0" cy="875.3" r="4.1"/><circle cx="227.2" cy="811.2" r="4.1"/><circle cx="77.0" cy="877.2" r="4.1"/><circle cx="119.2" cy="852.1" r="4.1"/><circle cx="105.1" cy="861.5" r="4.1"/><circle cx="86.3" cy="879.8" r="4.1"/><circle cx="278.9" cy="785.6" r="4.1"/><circle cx="226.8" cy="818.6" r="4.1"/><circle cx="201.1" cy="819.8" r="4.1"/><circle cx="108.3" cy="865.4" r="4.1"/><circle cx="187.1" cy="834.1" r="4.1"/><circle cx="420.7" cy="714.5" r="4.1"/><circle cx="376.7" cy="733.1" r="4.1"/><circle cx="251.2" cy="824.8" r="4.1"/><circle cx="145.6" cy="839.5" r="4.1"/><circle cx="133.0" cy="847.7" r="4.1"/><circle cx="179.8" cy="822.7" r="4.1"/><circle cx="111.7" cy="869.8" r="4.1"/><circle cx="333.9" cy="757.3" r="4.1"/><circle cx="323.8" cy="775.1" r="4.1"/><circle cx="336.7" cy="776.0" r="4.1"/><circle cx="81.1" cy="875.7" r="4.1"/><circle cx="239.4" cy="790.4" r="4.1"/><circle cx="88.5" cy="879.8" r="4.1"/><circle cx="95.9" cy="864.4" r="4.1"/><circle cx="90.0" cy="876.4" r="4.1"/><circle cx="141.9" cy="848.9" r="4.1"/><circle cx="94.0" cy="876.8" r="4.1"/><circle cx="194.3" cy="804.7" r="4.1"/><circle cx="65.6" cy="884.8" r="4.1"/><circle cx="181.5" cy="836.1" r="4.1"/><circle cx="203.0" cy="815.2" r="4.1"/><circle cx="67.3" cy="880.2" r="4.1"/><circle cx="374.6" cy="756.7" r="4.1"/><circle cx="368.0" cy="741.4" r="4.1"/><circle cx="197.4" cy="805.8" r="4.1"/><circle cx="193.7" cy="819.0" r="4.1"/><circle cx="87.1" cy="881.0" r="4.1"/><circle cx="179.0" cy="833.6" r="4.1"/><circle cx="256.7" cy="779.8" r="4.1"/><circle cx="142.3" cy="853.4" r="4.1"/><circle cx="341.9" cy="762.0" r="4.1"/><circle cx="93.8" cy="881.4" r="4.1"/><circle cx="253.5" cy="790.5" r="4.1"/><circle cx="173.2" cy="823.3" r="4.1"/><circle cx="130.3" cy="837.0" r="4.1"/><circle cx="322.5" cy="764.5" r="4.1"/><circle cx="401.3" cy="703.3" r="4.1"/><circle cx="167.3" cy="802.4" r="4.1"/><circle cx="142.1" cy="846.7" r="4.1"/><circle cx="324.7" cy="763.8" r="4.1"/><circle cx="92.9" cy="877.3" r="4.1"/><circle cx="301.2" cy="764.6" r="4.1"/><circle cx="132.4" cy="860.3" r="4.1"/><circle cx="124.4" cy="850.3" r="4.1"/><circle cx="214.9" cy="804.5" r="4.1"/><circle cx="279.7" cy="774.1" r="4.1"/><circle cx="222.8" cy="821.7" r="4.1"/><circle cx="158.1" cy="839.9" r="4.1"/><circle cx="219.4" cy="786.7" r="4.1"/><circle cx="258.8" cy="777.0" r="4.1"/><circle cx="212.9" cy="806.2" r="4.1"/><circle cx="264.5" cy="774.1" r="4.1"/><circle cx="305.8" cy="774.2" r="4.1"/><circle cx="270.7" cy="787.4" r="4.1"/><circle cx="101.4" cy="865.8" r="4.1"/><circle cx="325.3" cy="763.0" r="4.1"/><circle cx="103.0" cy="840.8" r="4.1"/><circle cx="364.2" cy="764.6" r="4.1"/><circle cx="213.0" cy="830.0" r="4.1"/><circle cx="439.4" cy="692.0" r="4.1"/><circle cx="370.4" cy="753.2" r="4.1"/><circle cx="440.8" cy="714.5" r="4.1"/><circle cx="181.5" cy="827.3" r="4.1"/><circle cx="366.9" cy="738.3" r="4.1"/><circle cx="101.1" cy="861.1" r="4.1"/><circle cx="298.9" cy="772.0" r="4.1"/><circle cx="141.7" cy="842.7" r="4.1"/><circle cx="102.6" cy="860.0" r="4.1"/><circle cx="182.4" cy="825.2" r="4.1"/><circle cx="89.5" cy="869.4" r="4.1"/><circle cx="153.1" cy="839.9" r="4.1"/><circle cx="94.7" cy="869.8" r="4.1"/><circle cx="132.2" cy="840.9" r="4.1"/><circle cx="151.1" cy="854.5" r="4.1"/><circle cx="174.1" cy="828.9" r="4.1"/><circle cx="78.7" cy="875.0" r="4.1"/><circle cx="306.5" cy="824.8" r="4.1"/><circle cx="289.3" cy="781.1" r="4.1"/><circle cx="187.5" cy="840.1" r="4.1"/><circle cx="175.0" cy="825.8" r="4.1"/><circle cx="98.0" cy="868.6" r="4.1"/><circle cx="203.7" cy="826.8" r="4.1"/><circle cx="148.0" cy="840.2" r="4.1"/><circle cx="103.4" cy="866.1" r="4.1"/><circle cx="110.3" cy="878.7" r="4.1"/><circle cx="270.6" cy="774.9" r="4.1"/><circle cx="119.1" cy="865.7" r="4.1"/><circle cx="68.6" cy="885.3" r="4.1"/><circle cx="408.0" cy="733.8" r="4.1"/><circle cx="121.5" cy="856.5" r="4.1"/><circle cx="184.6" cy="826.6" r="4.1"/><circle cx="115.8" cy="855.7" r="4.1"/><circle cx="115.5" cy="859.6" r="4.1"/><circle cx="350.4" cy="758.2" r="4.1"/><circle cx="271.0" cy="797.1" r="4.1"/><circle cx="87.7" cy="886.7" r="4.1"/><circle cx="102.3" cy="878.3" r="4.1"/><circle cx="137.2" cy="858.0" r="4.1"/><circle cx="149.6" cy="824.2" r="4.1"/><circle cx="109.3" cy="869.4" r="4.1"/><circle cx="132.8" cy="790.3" r="4.1"/><circle cx="79.7" cy="875.6" r="4.1"/><circle cx="66.7" cy="882.9" r="4.1"/><circle cx="190.4" cy="812.9" r="4.1"/><circle cx="163.1" cy="838.1" r="4.1"/><circle cx="160.9" cy="853.8" r="4.1"/><circle cx="425.0" cy="718.8" r="4.1"/><circle cx="405.0" cy="753.5" r="4.1"/><circle cx="384.2" cy="739.4" r="4.1"/><circle cx="389.6" cy="743.7" r="4.1"/><circle cx="183.5" cy="812.6" r="4.1"/><circle cx="376.5" cy="754.4" r="4.1"/><circle cx="179.9" cy="820.9" r="4.1"/><circle cx="134.5" cy="850.3" r="4.1"/><circle cx="189.5" cy="824.5" r="4.1"/><circle cx="140.1" cy="853.2" r="4.1"/><circle cx="70.0" cy="883.3" r="4.1"/><circle cx="158.1" cy="841.9" r="4.1"/><circle cx="279.2" cy="773.3" r="4.1"/><circle cx="134.8" cy="863.3" r="4.1"/><circle cx="374.8" cy="753.4" r="4.1"/><circle cx="385.4" cy="738.9" r="4.1"/><circle cx="332.5" cy="759.1" r="4.1"/><circle cx="89.3" cy="873.1" r="4.1"/><circle cx="178.4" cy="838.4" r="4.1"/><circle cx="68.4" cy="882.0" r="4.1"/><circle cx="107.9" cy="863.7" r="4.1"/><circle cx="81.4" cy="874.0" r="4.1"/><circle cx="154.8" cy="830.9" r="4.1"/><circle cx="58.8" cy="879.1" r="4.1"/><circle cx="102.3" cy="882.1" r="4.1"/><circle cx="171.2" cy="834.9" r="4.1"/><circle cx="151.7" cy="852.7" r="4.1"/><circle cx="119.0" cy="864.2" r="4.1"/><circle cx="158.5" cy="860.0" r="4.1"/><circle cx="164.5" cy="836.1" r="4.1"/><circle cx="100.2" cy="855.3" r="4.1"/><circle cx="70.5" cy="880.6" r="4.1"/><circle cx="260.0" cy="790.5" r="4.1"/><circle cx="114.7" cy="857.7" r="4.1"/><circle cx="120.9" cy="843.4" r="4.1"/><circle cx="89.8" cy="874.2" r="4.1"/><circle cx="479.0" cy="701.9" r="4.1"/><circle cx="271.0" cy="748.3" r="4.1"/><circle cx="103.5" cy="866.4" r="4.1"/><circle cx="322.0" cy="775.1" r="4.1"/><circle cx="364.6" cy="748.4" r="4.1"/><circle cx="310.7" cy="771.0" r="4.1"/><circle cx="160.5" cy="844.6" r="4.1"/><circle cx="104.6" cy="802.6" r="4.1"/><circle cx="188.6" cy="823.6" r="4.1"/><circle cx="67.8" cy="880.0" r="4.1"/><circle cx="370.0" cy="742.4" r="4.1"/><circle cx="72.7" cy="880.1" r="4.1"/><circle cx="153.0" cy="830.8" r="4.1"/><circle cx="87.5" cy="871.0" r="4.1"/><circle cx="149.6" cy="844.0" r="4.1"/><circle cx="96.8" cy="869.8" r="4.1"/><circle cx="379.5" cy="743.4" r="4.1"/><circle cx="151.1" cy="833.4" r="4.1"/><circle cx="317.1" cy="773.4" r="4.1"/><circle cx="345.3" cy="768.4" r="4.1"/><circle cx="77.2" cy="874.3" r="4.1"/><circle cx="244.9" cy="807.7" r="4.1"/><circle cx="90.3" cy="871.8" r="4.1"/><circle cx="185.5" cy="859.7" r="4.1"/><circle cx="410.7" cy="730.0" r="4.1"/><circle cx="386.6" cy="722.4" r="4.1"/><circle cx="159.6" cy="856.5" r="4.1"/><circle cx="293.1" cy="782.6" r="4.1"/><circle cx="107.2" cy="866.9" r="4.1"/><circle cx="366.4" cy="734.5" r="4.1"/><circle cx="114.2" cy="865.7" r="4.1"/><circle cx="176.8" cy="833.0" r="4.1"/><circle cx="379.0" cy="748.6" r="4.1"/><circle cx="189.4" cy="842.7" r="4.1"/><circle cx="264.2" cy="803.2" r="4.1"/><circle cx="142.5" cy="859.0" r="4.1"/><circle cx="156.9" cy="865.1" r="4.1"/><circle cx="339.9" cy="770.9" r="4.1"/><circle cx="95.8" cy="839.5" r="4.1"/><circle cx="65.9" cy="884.5" r="4.1"/><circle cx="366.4" cy="778.8" r="4.1"/><circle cx="188.5" cy="819.7" r="4.1"/><circle cx="81.1" cy="874.6" r="4.1"/><circle cx="250.8" cy="788.4" r="4.1"/><circle cx="393.7" cy="737.6" r="4.1"/><circle cx="196.0" cy="812.1" r="4.1"/><circle cx="145.5" cy="829.7" r="4.1"/><circle cx="66.2" cy="881.4" r="4.1"/><circle cx="171.0" cy="837.1" r="4.1"/><circle cx="123.4" cy="857.2" r="4.1"/><circle cx="162.0" cy="780.3" r="4.1"/><circle cx="182.3" cy="845.0" r="4.1"/><circle cx="81.5" cy="872.6" r="4.1"/><circle cx="247.6" cy="797.1" r="4.1"/><circle cx="161.5" cy="847.4" r="4.1"/><circle cx="411.8" cy="739.9" r="4.1"/><circle cx="86.2" cy="879.8" r="4.1"/><circle cx="294.8" cy="764.8" r="4.1"/><circle cx="405.6" cy="746.1" r="4.1"/><circle cx="218.9" cy="816.8" r="4.1"/><circle cx="103.8" cy="874.7" r="4.1"/><circle cx="110.2" cy="856.8" r="4.1"/><circle cx="256.7" cy="805.7" r="4.1"/><circle cx="306.2" cy="773.5" r="4.1"/><circle cx="88.7" cy="875.7" r="4.1"/><circle cx="202.9" cy="812.7" r="4.1"/><circle cx="405.7" cy="735.5" r="4.1"/><circle cx="173.6" cy="851.7" r="4.1"/><circle cx="95.5" cy="880.4" r="4.1"/><circle cx="323.7" cy="775.0" r="4.1"/><circle cx="316.9" cy="783.4" r="4.1"/><circle cx="420.8" cy="712.0" r="4.1"/><circle cx="213.1" cy="805.3" r="4.1"/><circle cx="143.3" cy="828.8" r="4.1"/><circle cx="74.6" cy="878.8" r="4.1"/><circle cx="414.6" cy="729.3" r="4.1"/><circle cx="139.7" cy="853.3" r="4.1"/><circle cx="78.7" cy="879.4" r="4.1"/><circle cx="106.0" cy="870.0" r="4.1"/><circle cx="235.4" cy="800.8" r="4.1"/><circle cx="410.7" cy="723.8" r="4.1"/><circle cx="151.1" cy="858.3" r="4.1"/><circle cx="111.5" cy="874.1" r="4.1"/><circle cx="126.7" cy="873.6" r="4.1"/><circle cx="112.8" cy="860.5" r="4.1"/><circle cx="89.8" cy="877.5" r="4.1"/><circle cx="144.8" cy="804.3" r="4.1"/><circle cx="131.2" cy="844.9" r="4.1"/><circle cx="174.8" cy="829.1" r="4.1"/><circle cx="153.5" cy="854.6" r="4.1"/><circle cx="249.5" cy="795.9" r="4.1"/><circle cx="124.5" cy="864.3" r="4.1"/><circle cx="109.0" cy="856.2" r="4.1"/><circle cx="296.7" cy="784.6" r="4.1"/><circle cx="201.2" cy="818.9" r="4.1"/><circle cx="137.7" cy="848.7" r="4.1"/><circle cx="166.5" cy="823.9" r="4.1"/><circle cx="232.1" cy="783.4" r="4.1"/><circle cx="130.8" cy="818.1" r="4.1"/><circle cx="86.2" cy="886.5" r="4.1"/><circle cx="213.9" cy="796.0" r="4.1"/><circle cx="398.8" cy="717.7" r="4.1"/><circle cx="118.6" cy="846.5" r="4.1"/><circle cx="533.8" cy="678.7" r="4.1"/><circle cx="293.5" cy="771.5" r="4.1"/><circle cx="210.8" cy="812.0" r="4.1"/><circle cx="77.3" cy="877.3" r="4.1"/><circle cx="80.7" cy="883.4" r="4.1"/><circle cx="184.6" cy="816.3" r="4.1"/><circle cx="131.6" cy="836.1" r="4.1"/><circle cx="233.5" cy="776.9" r="4.1"/><circle cx="170.7" cy="835.3" r="4.1"/><circle cx="116.7" cy="833.6" r="4.1"/><circle cx="109.6" cy="871.0" r="4.1"/><circle cx="133.9" cy="830.0" r="4.1"/><circle cx="85.1" cy="872.1" r="4.1"/><circle cx="161.6" cy="846.1" r="4.1"/><circle cx="75.7" cy="875.7" r="4.1"/><circle cx="368.3" cy="743.5" r="4.1"/><circle cx="211.8" cy="816.0" r="4.1"/><circle cx="91.1" cy="830.2" r="4.1"/><circle cx="126.7" cy="851.5" r="4.1"/><circle cx="192.0" cy="825.5" r="4.1"/><circle cx="344.6" cy="763.9" r="4.1"/><circle cx="219.3" cy="804.3" r="4.1"/><circle cx="118.6" cy="862.8" r="4.1"/><circle cx="72.8" cy="879.4" r="4.1"/><circle cx="239.1" cy="799.3" r="4.1"/><circle cx="75.5" cy="885.3" r="4.1"/><circle cx="78.1" cy="876.8" r="4.1"/><circle cx="119.2" cy="831.3" r="4.1"/><circle cx="164.0" cy="826.8" r="4.1"/><circle cx="314.0" cy="766.8" r="4.1"/><circle cx="125.0" cy="874.1" r="4.1"/><circle cx="141.4" cy="858.0" r="4.1"/><circle cx="236.0" cy="807.4" r="4.1"/><circle cx="105.1" cy="861.0" r="4.1"/><circle cx="195.5" cy="814.4" r="4.1"/><circle cx="106.2" cy="861.7" r="4.1"/><circle cx="102.0" cy="868.1" r="4.1"/><circle cx="402.7" cy="733.5" r="4.1"/><circle cx="185.8" cy="834.4" r="4.1"/><circle cx="235.9" cy="809.3" r="4.1"/><circle cx="347.1" cy="773.7" r="4.1"/><circle cx="436.2" cy="713.1" r="4.1"/><circle cx="382.8" cy="772.8" r="4.1"/><circle cx="340.0" cy="758.1" r="4.1"/><circle cx="247.6" cy="811.2" r="4.1"/><circle cx="89.2" cy="885.0" r="4.1"/><circle cx="213.7" cy="770.4" r="4.1"/><circle cx="141.2" cy="847.1" r="4.1"/><circle cx="161.8" cy="837.6" r="4.1"/><circle cx="67.9" cy="882.8" r="4.1"/><circle cx="209.0" cy="829.8" r="4.1"/><circle cx="342.8" cy="775.2" r="4.1"/><circle cx="201.8" cy="824.5" r="4.1"/><circle cx="314.7" cy="782.4" r="4.1"/><circle cx="411.0" cy="731.3" r="4.1"/><circle cx="183.1" cy="835.0" r="4.1"/><circle cx="70.9" cy="883.7" r="4.1"/><circle cx="247.3" cy="812.0" r="4.1"/><circle cx="136.3" cy="852.9" r="4.1"/><circle cx="98.6" cy="878.0" r="4.1"/><circle cx="136.9" cy="853.8" r="4.1"/><circle cx="368.8" cy="734.5" r="4.1"/><circle cx="209.4" cy="801.3" r="4.1"/><circle cx="189.7" cy="815.2" r="4.1"/><circle cx="163.3" cy="850.7" r="4.1"/><circle cx="235.1" cy="816.6" r="4.1"/><circle cx="351.5" cy="753.6" r="4.1"/><circle cx="82.0" cy="870.1" r="4.1"/><circle cx="186.0" cy="823.6" r="4.1"/><circle cx="200.6" cy="834.7" r="4.1"/><circle cx="119.4" cy="856.4" r="4.1"/><circle cx="99.0" cy="875.1" r="4.1"/><circle cx="357.2" cy="742.1" r="4.1"/><circle cx="76.7" cy="866.2" r="4.1"/><circle cx="103.3" cy="873.6" r="4.1"/><circle cx="177.8" cy="833.5" r="4.1"/><circle cx="176.1" cy="829.8" r="4.1"/><circle cx="124.6" cy="869.1" r="4.1"/><circle cx="134.9" cy="855.1" r="4.1"/><circle cx="65.3" cy="882.8" r="4.1"/><circle cx="447.5" cy="714.5" r="4.1"/><circle cx="259.3" cy="815.6" r="4.1"/><circle cx="71.5" cy="878.7" r="4.1"/><circle cx="289.3" cy="754.7" r="4.1"/><circle cx="375.6" cy="740.7" r="4.1"/><circle cx="98.4" cy="876.0" r="4.1"/><circle cx="172.9" cy="835.5" r="4.1"/><circle cx="279.1" cy="785.4" r="4.1"/><circle cx="389.7" cy="738.9" r="4.1"/><circle cx="160.2" cy="846.0" r="4.1"/><circle cx="174.8" cy="818.6" r="4.1"/><circle cx="88.2" cy="882.2" r="4.1"/><circle cx="175.6" cy="833.0" r="4.1"/><circle cx="460.8" cy="690.5" r="4.1"/><circle cx="171.8" cy="818.2" r="4.1"/><circle cx="75.3" cy="876.1" r="4.1"/><circle cx="428.3" cy="711.9" r="4.1"/><circle cx="68.7" cy="880.4" r="4.1"/><circle cx="106.5" cy="866.8" r="4.1"/><circle cx="185.9" cy="812.8" r="4.1"/><circle cx="427.0" cy="718.3" r="4.1"/><circle cx="414.9" cy="731.2" r="4.1"/><circle cx="127.2" cy="854.6" r="4.1"/><circle cx="105.1" cy="873.4" r="4.1"/><circle cx="74.4" cy="881.9" r="4.1"/><circle cx="240.9" cy="818.5" r="4.1"/><circle cx="149.7" cy="823.6" r="4.1"/><circle cx="168.0" cy="818.9" r="4.1"/><circle cx="119.1" cy="869.6" r="4.1"/><circle cx="197.8" cy="834.0" r="4.1"/><circle cx="343.6" cy="770.6" r="4.1"/><circle cx="99.1" cy="866.1" r="4.1"/><circle cx="71.2" cy="879.9" r="4.1"/><circle cx="162.6" cy="824.7" r="4.1"/><circle cx="92.5" cy="874.6" r="4.1"/><circle cx="219.2" cy="811.9" r="4.1"/><circle cx="396.1" cy="710.2" r="4.1"/><circle cx="139.0" cy="868.6" r="4.1"/><circle cx="358.6" cy="736.3" r="4.1"/><circle cx="286.0" cy="809.0" r="4.1"/><circle cx="148.2" cy="847.6" r="4.1"/><circle cx="359.9" cy="760.3" r="4.1"/><circle cx="147.9" cy="851.2" r="4.1"/><circle cx="242.0" cy="787.6" r="4.1"/><circle cx="429.4" cy="724.2" r="4.1"/><circle cx="108.7" cy="860.9" r="4.1"/><circle cx="185.7" cy="825.7" r="4.1"/><circle cx="82.4" cy="876.8" r="4.1"/><circle cx="130.4" cy="865.7" r="4.1"/><circle cx="123.5" cy="865.1" r="4.1"/><circle cx="95.9" cy="878.0" r="4.1"/><circle cx="480.1" cy="682.2" r="4.1"/><circle cx="259.0" cy="794.1" r="4.1"/><circle cx="279.3" cy="789.1" r="4.1"/><circle cx="355.8" cy="755.2" r="4.1"/><circle cx="161.6" cy="840.0" r="4.1"/><circle cx="95.7" cy="875.8" r="4.1"/><circle cx="70.8" cy="881.6" r="4.1"/><circle cx="140.1" cy="858.5" r="4.1"/><circle cx="290.4" cy="792.5" r="4.1"/><circle cx="209.0" cy="815.9" r="4.1"/><circle cx="130.8" cy="851.3" r="4.1"/><circle cx="277.3" cy="801.1" r="4.1"/><circle cx="192.9" cy="806.4" r="4.1"/><circle cx="70.8" cy="881.9" r="4.1"/><circle cx="176.6" cy="841.9" r="4.1"/><circle cx="393.2" cy="736.6" r="4.1"/><circle cx="137.6" cy="845.1" r="4.1"/><circle cx="224.6" cy="769.9" r="4.1"/><circle cx="152.9" cy="847.0" r="4.1"/><circle cx="329.8" cy="785.8" r="4.1"/><circle cx="104.3" cy="854.5" r="4.1"/><circle cx="230.7" cy="822.3" r="4.1"/><circle cx="364.0" cy="741.4" r="4.1"/><circle cx="131.1" cy="856.7" r="4.1"/><circle cx="215.8" cy="829.3" r="4.1"/><circle cx="70.4" cy="878.0" r="4.1"/><circle cx="375.3" cy="716.4" r="4.1"/><circle cx="91.1" cy="870.2" r="4.1"/><circle cx="370.8" cy="745.2" r="4.1"/><circle cx="163.9" cy="839.4" r="4.1"/><circle cx="183.6" cy="828.8" r="4.1"/><circle cx="417.7" cy="714.6" r="4.1"/><circle cx="265.7" cy="778.2" r="4.1"/><circle cx="392.0" cy="736.1" r="4.1"/><circle cx="185.1" cy="826.3" r="4.1"/><circle cx="278.0" cy="796.4" r="4.1"/><circle cx="175.2" cy="833.1" r="4.1"/><circle cx="301.7" cy="763.0" r="4.1"/><circle cx="138.1" cy="838.7" r="4.1"/><circle cx="230.2" cy="818.3" r="4.1"/><circle cx="183.3" cy="816.3" r="4.1"/><circle cx="79.7" cy="883.0" r="4.1"/><circle cx="191.7" cy="830.2" r="4.1"/><circle cx="70.0" cy="883.1" r="4.1"/><circle cx="76.1" cy="882.5" r="4.1"/><circle cx="239.1" cy="815.7" r="4.1"/><circle cx="88.3" cy="874.0" r="4.1"/><circle cx="137.9" cy="814.1" r="4.1"/><circle cx="127.9" cy="853.9" r="4.1"/><circle cx="187.5" cy="812.5" r="4.1"/><circle cx="179.7" cy="838.4" r="4.1"/><circle cx="348.5" cy="775.3" r="4.1"/><circle cx="297.5" cy="794.1" r="4.1"/><circle cx="249.9" cy="796.6" r="4.1"/><circle cx="89.6" cy="885.1" r="4.1"/><circle cx="359.3" cy="785.4" r="4.1"/><circle cx="221.0" cy="808.9" r="4.1"/><circle cx="286.6" cy="771.9" r="4.1"/><circle cx="147.2" cy="841.1" r="4.1"/><circle cx="348.9" cy="768.2" r="4.1"/><circle cx="256.1" cy="793.0" r="4.1"/><circle cx="230.9" cy="801.8" r="4.1"/><circle cx="226.8" cy="816.5" r="4.1"/><circle cx="102.0" cy="838.9" r="4.1"/><circle cx="118.0" cy="860.0" r="4.1"/><circle cx="195.7" cy="815.0" r="4.1"/><circle cx="299.1" cy="788.8" r="4.1"/><circle cx="146.7" cy="849.9" r="4.1"/><circle cx="182.3" cy="832.6" r="4.1"/><circle cx="146.5" cy="850.4" r="4.1"/><circle cx="122.1" cy="857.2" r="4.1"/><circle cx="452.4" cy="692.0" r="4.1"/><circle cx="170.5" cy="846.9" r="4.1"/><circle cx="155.0" cy="848.6" r="4.1"/><circle cx="193.5" cy="823.3" r="4.1"/><circle cx="154.1" cy="839.8" r="4.1"/><circle cx="166.0" cy="828.5" r="4.1"/><circle cx="270.5" cy="787.1" r="4.1"/><circle cx="131.0" cy="856.0" r="4.1"/><circle cx="72.7" cy="878.9" r="4.1"/><circle cx="176.4" cy="820.9" r="4.1"/><circle cx="274.1" cy="790.4" r="4.1"/><circle cx="109.5" cy="861.0" r="4.1"/><circle cx="209.0" cy="826.1" r="4.1"/><circle cx="102.3" cy="868.2" r="4.1"/><circle cx="93.8" cy="884.5" r="4.1"/><circle cx="113.8" cy="865.0" r="4.1"/><circle cx="154.7" cy="847.6" r="4.1"/><circle cx="271.1" cy="790.8" r="4.1"/><circle cx="303.6" cy="771.1" r="4.1"/><circle cx="269.1" cy="790.5" r="4.1"/><circle cx="192.2" cy="822.6" r="4.1"/><circle cx="167.0" cy="842.0" r="4.1"/><circle cx="132.0" cy="850.4" r="4.1"/><circle cx="66.5" cy="885.0" r="4.1"/><circle cx="284.1" cy="795.5" r="4.1"/><circle cx="214.2" cy="815.6" r="4.1"/><circle cx="136.9" cy="835.2" r="4.1"/><circle cx="157.8" cy="859.4" r="4.1"/><circle cx="223.4" cy="824.0" r="4.1"/><circle cx="225.2" cy="786.7" r="4.1"/><circle cx="146.1" cy="837.6" r="4.1"/><circle cx="207.0" cy="817.6" r="4.1"/><circle cx="207.5" cy="820.2" r="4.1"/><circle cx="222.7" cy="810.7" r="4.1"/><circle cx="123.1" cy="859.8" r="4.1"/><circle cx="218.2" cy="809.6" r="4.1"/><circle cx="258.6" cy="794.3" r="4.1"/><circle cx="235.3" cy="813.1" r="4.1"/><circle cx="190.3" cy="827.7" r="4.1"/><circle cx="102.5" cy="868.0" r="4.1"/><circle cx="274.3" cy="777.3" r="4.1"/><circle cx="117.7" cy="866.5" r="4.1"/><circle cx="76.5" cy="880.7" r="4.1"/><circle cx="267.6" cy="793.7" r="4.1"/><circle cx="311.6" cy="771.5" r="4.1"/><circle cx="130.1" cy="838.8" r="4.1"/><circle cx="405.9" cy="727.4" r="4.1"/><circle cx="280.0" cy="799.7" r="4.1"/><circle cx="420.4" cy="721.5" r="4.1"/><circle cx="161.4" cy="846.5" r="4.1"/><circle cx="313.9" cy="773.7" r="4.1"/><circle cx="337.5" cy="766.9" r="4.1"/><circle cx="74.3" cy="879.6" r="4.1"/><circle cx="78.2" cy="877.7" r="4.1"/><circle cx="146.4" cy="828.4" r="4.1"/><circle cx="313.8" cy="787.4" r="4.1"/><circle cx="206.9" cy="819.1" r="4.1"/><circle cx="235.7" cy="810.0" r="4.1"/><circle cx="337.4" cy="763.8" r="4.1"/><circle cx="65.5" cy="881.8" r="4.1"/><circle cx="120.9" cy="864.5" r="4.1"/><circle cx="117.6" cy="861.5" r="4.1"/><circle cx="142.5" cy="850.3" r="4.1"/><circle cx="274.3" cy="786.5" r="4.1"/><circle cx="98.5" cy="878.9" r="4.1"/><circle cx="198.0" cy="819.7" r="4.1"/><circle cx="311.1" cy="803.6" r="4.1"/><circle cx="70.7" cy="883.7" r="4.1"/><circle cx="123.4" cy="872.8" r="4.1"/><circle cx="230.9" cy="828.9" r="4.1"/><circle cx="346.8" cy="761.2" r="4.1"/><circle cx="187.7" cy="816.8" r="4.1"/><circle cx="256.7" cy="796.4" r="4.1"/><circle cx="228.4" cy="804.3" r="4.1"/><circle cx="175.6" cy="815.2" r="4.1"/><circle cx="205.1" cy="839.9" r="4.1"/><circle cx="66.4" cy="883.6" r="4.1"/><circle cx="125.0" cy="859.3" r="4.1"/><circle cx="273.5" cy="797.7" r="4.1"/><circle cx="229.3" cy="800.4" r="4.1"/><circle cx="214.2" cy="819.2" r="4.1"/><circle cx="97.5" cy="870.4" r="4.1"/><circle cx="99.4" cy="868.6" r="4.1"/><circle cx="376.9" cy="745.8" r="4.1"/><circle cx="344.3" cy="773.3" r="4.1"/><circle cx="281.3" cy="777.5" r="4.1"/><circle cx="324.7" cy="776.4" r="4.1"/><circle cx="344.1" cy="771.8" r="4.1"/><circle cx="114.7" cy="858.4" r="4.1"/><circle cx="163.4" cy="821.6" r="4.1"/><circle cx="406.5" cy="721.4" r="4.1"/><circle cx="441.9" cy="723.1" r="4.1"/><circle cx="131.9" cy="849.4" r="4.1"/><circle cx="151.0" cy="858.8" r="4.1"/><circle cx="93.4" cy="878.6" r="4.1"/><circle cx="299.8" cy="777.9" r="4.1"/><circle cx="200.3" cy="832.6" r="4.1"/><circle cx="121.5" cy="844.0" r="4.1"/><circle cx="150.6" cy="838.4" r="4.1"/><circle cx="198.0" cy="821.0" r="4.1"/><circle cx="164.6" cy="862.6" r="4.1"/><circle cx="260.0" cy="795.8" r="4.1"/><circle cx="395.4" cy="744.8" r="4.1"/><circle cx="329.0" cy="767.6" r="4.1"/><circle cx="286.9" cy="789.6" r="4.1"/><circle cx="65.3" cy="883.5" r="4.1"/><circle cx="457.6" cy="701.4" r="4.1"/><circle cx="156.8" cy="832.5" r="4.1"/><circle cx="393.1" cy="720.9" r="4.1"/><circle cx="289.7" cy="775.4" r="4.1"/><circle cx="69.0" cy="880.0" r="4.1"/><circle cx="179.8" cy="830.4" r="4.1"/><circle cx="194.3" cy="825.2" r="4.1"/><circle cx="500.4" cy="690.8" r="4.1"/><circle cx="237.3" cy="794.3" r="4.1"/><circle cx="261.0" cy="802.6" r="4.1"/><circle cx="148.7" cy="857.2" r="4.1"/><circle cx="440.7" cy="712.3" r="4.1"/><circle cx="369.7" cy="737.1" r="4.1"/><circle cx="151.0" cy="841.1" r="4.1"/><circle cx="314.0" cy="771.1" r="4.1"/><circle cx="242.0" cy="797.2" r="4.1"/><circle cx="209.3" cy="824.3" r="4.1"/><circle cx="268.4" cy="804.5" r="4.1"/><circle cx="123.5" cy="827.2" r="4.1"/><circle cx="263.5" cy="805.5" r="4.1"/><circle cx="197.3" cy="814.0" r="4.1"/><circle cx="126.2" cy="850.0" r="4.1"/><circle cx="310.9" cy="773.0" r="4.1"/><circle cx="455.0" cy="696.4" r="4.1"/><circle cx="336.4" cy="758.4" r="4.1"/><circle cx="111.6" cy="869.2" r="4.1"/><circle cx="95.8" cy="871.7" r="4.1"/><circle cx="168.8" cy="842.8" r="4.1"/><circle cx="103.2" cy="865.2" r="4.1"/><circle cx="208.8" cy="809.5" r="4.1"/><circle cx="98.9" cy="868.0" r="4.1"/><circle cx="261.8" cy="795.6" r="4.1"/><circle cx="178.2" cy="842.3" r="4.1"/><circle cx="95.3" cy="851.8" r="4.1"/><circle cx="189.9" cy="825.9" r="4.1"/><circle cx="73.5" cy="881.3" r="4.1"/><circle cx="198.4" cy="838.8" r="4.1"/><circle cx="143.7" cy="843.5" r="4.1"/><circle cx="88.8" cy="869.1" r="4.1"/><circle cx="94.1" cy="873.2" r="4.1"/><circle cx="70.6" cy="859.3" r="4.1"/><circle cx="381.5" cy="737.9" r="4.1"/><circle cx="203.0" cy="797.8" r="4.1"/><circle cx="469.1" cy="706.3" r="4.1"/><circle cx="149.1" cy="849.8" r="4.1"/><circle cx="191.5" cy="827.7" r="4.1"/><circle cx="139.8" cy="849.4" r="4.1"/><circle cx="336.7" cy="735.3" r="4.1"/><circle cx="208.1" cy="824.3" r="4.1"/><circle cx="208.9" cy="805.3" r="4.1"/><circle cx="376.8" cy="750.5" r="4.1"/><circle cx="429.8" cy="729.4" r="4.1"/><circle cx="362.5" cy="762.4" r="4.1"/><circle cx="226.7" cy="822.8" r="4.1"/><circle cx="101.0" cy="868.3" r="4.1"/><circle cx="388.6" cy="748.6" r="4.1"/><circle cx="134.8" cy="831.9" r="4.1"/><circle cx="482.2" cy="684.2" r="4.1"/><circle cx="299.4" cy="782.9" r="4.1"/><circle cx="102.0" cy="859.4" r="4.1"/><circle cx="356.9" cy="755.2" r="4.1"/><circle cx="99.1" cy="877.6" r="4.1"/><circle cx="166.7" cy="830.4" r="4.1"/><circle cx="260.1" cy="756.4" r="4.1"/><circle cx="117.0" cy="857.6" r="4.1"/><circle cx="316.2" cy="772.6" r="4.1"/><circle cx="255.1" cy="796.6" r="4.1"/><circle cx="150.9" cy="837.2" r="4.1"/><circle cx="362.1" cy="750.0" r="4.1"/><circle cx="315.6" cy="774.4" r="4.1"/><circle cx="413.5" cy="722.2" r="4.1"/><circle cx="100.4" cy="868.7" r="4.1"/><circle cx="275.5" cy="771.7" r="4.1"/><circle cx="295.6" cy="784.7" r="4.1"/><circle cx="76.9" cy="880.3" r="4.1"/><circle cx="135.2" cy="851.0" r="4.1"/><circle cx="137.9" cy="842.0" r="4.1"/><circle cx="73.7" cy="876.6" r="4.1"/><circle cx="228.2" cy="780.9" r="4.1"/><circle cx="222.5" cy="823.2" r="4.1"/><circle cx="314.2" cy="770.1" r="4.1"/><circle cx="206.2" cy="826.0" r="4.1"/><circle cx="93.5" cy="878.2" r="4.1"/><circle cx="127.2" cy="817.7" r="4.1"/><circle cx="89.6" cy="882.3" r="4.1"/><circle cx="299.8" cy="789.0" r="4.1"/><circle cx="167.7" cy="856.5" r="4.1"/><circle cx="104.8" cy="881.8" r="4.1"/><circle cx="260.1" cy="792.9" r="4.1"/><circle cx="208.3" cy="817.1" r="4.1"/><circle cx="120.6" cy="870.5" r="4.1"/><circle cx="167.7" cy="827.3" r="4.1"/><circle cx="405.4" cy="737.0" r="4.1"/><circle cx="114.3" cy="849.5" r="4.1"/><circle cx="112.4" cy="865.6" r="4.1"/><circle cx="103.6" cy="869.9" r="4.1"/><circle cx="215.7" cy="820.8" r="4.1"/><circle cx="174.2" cy="827.4" r="4.1"/><circle cx="391.2" cy="738.4" r="4.1"/><circle cx="113.8" cy="868.8" r="4.1"/><circle cx="171.9" cy="833.8" r="4.1"/><circle cx="204.1" cy="801.4" r="4.1"/><circle cx="271.0" cy="792.4" r="4.1"/><circle cx="110.6" cy="855.8" r="4.1"/><circle cx="101.7" cy="865.3" r="4.1"/><circle cx="208.4" cy="799.0" r="4.1"/><circle cx="205.9" cy="803.2" r="4.1"/><circle cx="234.5" cy="768.0" r="4.1"/><circle cx="93.3" cy="871.9" r="4.1"/><circle cx="83.8" cy="850.6" r="4.1"/><circle cx="372.0" cy="749.2" r="4.1"/><circle cx="274.9" cy="786.3" r="4.1"/><circle cx="223.4" cy="818.1" r="4.1"/><circle cx="290.8" cy="791.7" r="4.1"/><circle cx="90.4" cy="884.8" r="4.1"/><circle cx="85.6" cy="875.4" r="4.1"/><circle cx="74.6" cy="877.5" r="4.1"/><circle cx="76.8" cy="878.7" r="4.1"/><circle cx="102.8" cy="841.3" r="4.1"/><circle cx="330.2" cy="767.8" r="4.1"/><circle cx="171.5" cy="825.1" r="4.1"/><circle cx="156.3" cy="843.8" r="4.1"/><circle cx="315.2" cy="774.4" r="4.1"/><circle cx="80.7" cy="882.6" r="4.1"/><circle cx="243.1" cy="789.5" r="4.1"/><circle cx="97.3" cy="866.5" r="4.1"/><circle cx="157.8" cy="831.8" r="4.1"/><circle cx="196.8" cy="806.8" r="4.1"/><circle cx="444.9" cy="712.4" r="4.1"/><circle cx="98.1" cy="874.1" r="4.1"/><circle cx="343.1" cy="758.0" r="4.1"/><circle cx="210.4" cy="835.4" r="4.1"/><circle cx="430.6" cy="715.8" r="4.1"/><circle cx="269.8" cy="785.6" r="4.1"/><circle cx="135.0" cy="859.2" r="4.1"/><circle cx="201.3" cy="808.7" r="4.1"/><circle cx="112.8" cy="859.1" r="4.1"/><circle cx="105.9" cy="871.6" r="4.1"/><circle cx="248.0" cy="805.3" r="4.1"/><circle cx="103.1" cy="869.2" r="4.1"/><circle cx="141.8" cy="863.1" r="4.1"/><circle cx="70.5" cy="880.9" r="4.1"/><circle cx="189.2" cy="818.9" r="4.1"/><circle cx="95.5" cy="869.5" r="4.1"/><circle cx="92.3" cy="885.0" r="4.1"/><circle cx="152.3" cy="827.4" r="4.1"/><circle cx="274.9" cy="782.3" r="4.1"/><circle cx="352.3" cy="753.8" r="4.1"/><circle cx="166.8" cy="850.8" r="4.1"/><circle cx="212.7" cy="800.4" r="4.1"/><circle cx="237.4" cy="817.2" r="4.1"/><circle cx="192.1" cy="832.4" r="4.1"/><circle cx="99.8" cy="860.4" r="4.1"/><circle cx="160.8" cy="836.5" r="4.1"/><circle cx="280.0" cy="773.6" r="4.1"/><circle cx="139.6" cy="832.2" r="4.1"/><circle cx="140.7" cy="854.8" r="4.1"/><circle cx="221.3" cy="804.2" r="4.1"/><circle cx="176.5" cy="834.1" r="4.1"/><circle cx="270.7" cy="788.8" r="4.1"/><circle cx="217.0" cy="808.1" r="4.1"/><circle cx="75.0" cy="875.8" r="4.1"/><circle cx="69.4" cy="880.5" r="4.1"/><circle cx="219.3" cy="820.7" r="4.1"/><circle cx="132.7" cy="843.5" r="4.1"/><circle cx="160.0" cy="837.4" r="4.1"/><circle cx="105.7" cy="858.6" r="4.1"/><circle cx="121.9" cy="832.1" r="4.1"/><circle cx="113.4" cy="854.4" r="4.1"/><circle cx="233.2" cy="775.9" r="4.1"/><circle cx="316.2" cy="794.3" r="4.1"/><circle cx="177.6" cy="825.0" r="4.1"/><circle cx="205.8" cy="814.1" r="4.1"/><circle cx="452.4" cy="796.7" r="4.1"/><circle cx="165.5" cy="846.1" r="4.1"/><circle cx="76.2" cy="886.4" r="4.1"/><circle cx="319.9" cy="771.3" r="4.1"/><circle cx="229.0" cy="801.0" r="4.1"/><circle cx="400.9" cy="737.8" r="4.1"/><circle cx="198.2" cy="827.8" r="4.1"/><circle cx="113.2" cy="872.4" r="4.1"/><circle cx="251.8" cy="803.0" r="4.1"/><circle cx="76.5" cy="878.8" r="4.1"/><circle cx="72.1" cy="881.7" r="4.1"/><circle cx="116.3" cy="856.0" r="4.1"/><circle cx="115.7" cy="858.8" r="4.1"/><circle cx="220.3" cy="804.2" r="4.1"/><circle cx="176.2" cy="842.1" r="4.1"/><circle cx="88.4" cy="883.2" r="4.1"/><circle cx="170.2" cy="846.5" r="4.1"/><circle cx="155.1" cy="842.6" r="4.1"/><circle cx="84.8" cy="869.6" r="4.1"/><circle cx="407.4" cy="725.1" r="4.1"/><circle cx="322.6" cy="781.7" r="4.1"/><circle cx="81.1" cy="885.9" r="4.1"/><circle cx="107.6" cy="856.2" r="4.1"/><circle cx="229.7" cy="815.0" r="4.1"/><circle cx="175.8" cy="832.6" r="4.1"/><circle cx="301.0" cy="784.2" r="4.1"/><circle cx="129.6" cy="844.8" r="4.1"/><circle cx="292.9" cy="779.5" r="4.1"/><circle cx="171.4" cy="837.5" r="4.1"/><circle cx="168.5" cy="840.4" r="4.1"/><circle cx="255.1" cy="807.9" r="4.1"/><circle cx="104.3" cy="855.3" r="4.1"/><circle cx="395.8" cy="724.8" r="4.1"/><circle cx="447.1" cy="704.3" r="4.1"/><circle cx="434.2" cy="686.6" r="4.1"/><circle cx="103.0" cy="858.7" r="4.1"/><circle cx="277.5" cy="769.8" r="4.1"/><circle cx="83.4" cy="886.9" r="4.1"/><circle cx="412.1" cy="722.7" r="4.1"/><circle cx="343.1" cy="758.6" r="4.1"/><circle cx="376.3" cy="729.9" r="4.1"/><circle cx="87.8" cy="879.8" r="4.1"/><circle cx="190.5" cy="808.4" r="4.1"/><circle cx="330.6" cy="780.6" r="4.1"/><circle cx="258.6" cy="804.3" r="4.1"/><circle cx="204.4" cy="813.8" r="4.1"/><circle cx="71.0" cy="879.2" r="4.1"/><circle cx="202.0" cy="810.2" r="4.1"/><circle cx="136.1" cy="859.7" r="4.1"/><circle cx="139.3" cy="847.2" r="4.1"/><circle cx="355.1" cy="757.8" r="4.1"/><circle cx="69.4" cy="882.6" r="4.1"/><circle cx="100.3" cy="873.8" r="4.1"/><circle cx="72.6" cy="883.8" r="4.1"/><circle cx="120.6" cy="856.7" r="4.1"/><circle cx="421.0" cy="721.4" r="4.1"/><circle cx="214.3" cy="816.5" r="4.1"/><circle cx="175.9" cy="835.3" r="4.1"/><circle cx="76.1" cy="878.9" r="4.1"/><circle cx="128.8" cy="866.4" r="4.1"/><circle cx="226.8" cy="810.5" r="4.1"/><circle cx="100.4" cy="869.4" r="4.1"/><circle cx="147.9" cy="848.4" r="4.1"/><circle cx="105.0" cy="863.5" r="4.1"/><circle cx="287.1" cy="773.5" r="4.1"/><circle cx="229.7" cy="774.2" r="4.1"/><circle cx="142.8" cy="849.5" r="4.1"/><circle cx="123.3" cy="845.3" r="4.1"/><circle cx="75.1" cy="868.9" r="4.1"/><circle cx="217.5" cy="795.0" r="4.1"/><circle cx="228.8" cy="832.9" r="4.1"/><circle cx="215.9" cy="821.0" r="4.1"/><circle cx="131.2" cy="842.8" r="4.1"/><circle cx="250.1" cy="785.9" r="4.1"/><circle cx="183.3" cy="809.8" r="4.1"/><circle cx="70.8" cy="862.7" r="4.1"/><circle cx="342.2" cy="759.3" r="4.1"/><circle cx="80.3" cy="877.8" r="4.1"/><circle cx="162.7" cy="835.2" r="4.1"/><circle cx="259.3" cy="806.1" r="4.1"/><circle cx="148.7" cy="838.2" r="4.1"/><circle cx="231.6" cy="805.5" r="4.1"/><circle cx="119.3" cy="869.0" r="4.1"/><circle cx="126.7" cy="839.5" r="4.1"/><circle cx="317.1" cy="781.5" r="4.1"/><circle cx="140.6" cy="842.1" r="4.1"/><circle cx="138.1" cy="837.6" r="4.1"/><circle cx="380.7" cy="744.9" r="4.1"/><circle cx="221.1" cy="813.0" r="4.1"/><circle cx="158.9" cy="841.7" r="4.1"/><circle cx="386.2" cy="765.5" r="4.1"/><circle cx="467.6" cy="700.4" r="4.1"/><circle cx="333.5" cy="776.2" r="4.1"/><circle cx="262.6" cy="796.8" r="4.1"/><circle cx="148.1" cy="846.7" r="4.1"/><circle cx="218.7" cy="794.2" r="4.1"/><circle cx="312.3" cy="757.7" r="4.1"/><circle cx="103.3" cy="862.3" r="4.1"/><circle cx="430.6" cy="706.6" r="4.1"/><circle cx="302.4" cy="777.1" r="4.1"/><circle cx="133.7" cy="850.3" r="4.1"/><circle cx="123.6" cy="868.8" r="4.1"/><circle cx="157.6" cy="839.6" r="4.1"/><circle cx="227.3" cy="811.1" r="4.1"/><circle cx="444.2" cy="719.7" r="4.1"/><circle cx="77.3" cy="879.6" r="4.1"/><circle cx="316.6" cy="789.9" r="4.1"/><circle cx="249.0" cy="800.8" r="4.1"/><circle cx="111.2" cy="868.6" r="4.1"/><circle cx="175.8" cy="816.0" r="4.1"/><circle cx="171.7" cy="837.4" r="4.1"/><circle cx="140.6" cy="847.9" r="4.1"/><circle cx="425.6" cy="715.7" r="4.1"/><circle cx="177.8" cy="796.3" r="4.1"/><circle cx="172.7" cy="850.2" r="4.1"/><circle cx="136.7" cy="853.5" r="4.1"/><circle cx="247.6" cy="805.8" r="4.1"/><circle cx="81.4" cy="878.0" r="4.1"/><circle cx="76.5" cy="867.0" r="4.1"/><circle cx="439.6" cy="717.2" r="4.1"/><circle cx="354.9" cy="782.5" r="4.1"/><circle cx="377.4" cy="773.6" r="4.1"/><circle cx="206.8" cy="819.8" r="4.1"/><circle cx="255.2" cy="785.7" r="4.1"/><circle cx="199.7" cy="836.7" r="4.1"/><circle cx="84.4" cy="880.1" r="4.1"/><circle cx="420.8" cy="729.0" r="4.1"/><circle cx="225.2" cy="827.2" r="4.1"/><circle cx="355.5" cy="765.9" r="4.1"/><circle cx="121.4" cy="845.4" r="4.1"/><circle cx="74.7" cy="870.4" r="4.1"/><circle cx="77.8" cy="884.4" r="4.1"/><circle cx="131.3" cy="805.3" r="4.1"/><circle cx="68.2" cy="878.8" r="4.1"/><circle cx="154.3" cy="851.6" r="4.1"/><circle cx="97.8" cy="867.4" r="4.1"/><circle cx="246.4" cy="800.4" r="4.1"/><circle cx="352.0" cy="767.7" r="4.1"/><circle cx="108.2" cy="871.5" r="4.1"/><circle cx="290.7" cy="791.0" r="4.1"/><circle cx="143.4" cy="851.4" r="4.1"/><circle cx="69.6" cy="880.8" r="4.1"/><circle cx="428.7" cy="726.4" r="4.1"/><circle cx="303.2" cy="778.4" r="4.1"/><circle cx="87.0" cy="875.8" r="4.1"/><circle cx="247.0" cy="805.3" r="4.1"/><circle cx="159.6" cy="836.0" r="4.1"/><circle cx="121.2" cy="855.8" r="4.1"/><circle cx="116.3" cy="875.1" r="4.1"/><circle cx="158.0" cy="841.3" r="4.1"/><circle cx="135.6" cy="855.4" r="4.1"/><circle cx="215.1" cy="822.6" r="4.1"/><circle cx="99.7" cy="879.1" r="4.1"/><circle cx="296.9" cy="771.5" r="4.1"/><circle cx="260.2" cy="771.4" r="4.1"/><circle cx="100.5" cy="814.2" r="4.1"/><circle cx="80.7" cy="878.0" r="4.1"/><circle cx="178.7" cy="825.0" r="4.1"/><circle cx="154.8" cy="836.6" r="4.1"/><circle cx="69.3" cy="879.5" r="4.1"/><circle cx="260.6" cy="790.7" r="4.1"/><circle cx="143.4" cy="851.7" r="4.1"/><circle cx="212.8" cy="817.3" r="4.1"/><circle cx="392.6" cy="721.2" r="4.1"/><circle cx="158.5" cy="841.9" r="4.1"/><circle cx="93.7" cy="864.1" r="4.1"/><circle cx="329.9" cy="770.6" r="4.1"/><circle cx="337.4" cy="762.1" r="4.1"/><circle cx="69.4" cy="884.2" r="4.1"/><circle cx="245.1" cy="790.2" r="4.1"/><circle cx="133.2" cy="859.6" r="4.1"/><circle cx="343.5" cy="733.3" r="4.1"/><circle cx="437.0" cy="737.5" r="4.1"/><circle cx="414.3" cy="731.3" r="4.1"/><circle cx="115.8" cy="857.2" r="4.1"/><circle cx="146.7" cy="854.0" r="4.1"/><circle cx="418.2" cy="722.9" r="4.1"/><circle cx="375.1" cy="741.6" r="4.1"/><circle cx="115.7" cy="833.8" r="4.1"/><circle cx="365.1" cy="744.5" r="4.1"/><circle cx="319.5" cy="763.3" r="4.1"/><circle cx="424.0" cy="729.5" r="4.1"/><circle cx="111.5" cy="859.3" r="4.1"/><circle cx="308.1" cy="785.3" r="4.1"/><circle cx="111.5" cy="871.9" r="4.1"/><circle cx="116.8" cy="860.5" r="4.1"/><circle cx="412.2" cy="727.8" r="4.1"/><circle cx="148.7" cy="850.5" r="4.1"/><circle cx="437.3" cy="714.3" r="4.1"/><circle cx="140.7" cy="860.9" r="4.1"/><circle cx="205.9" cy="820.5" r="4.1"/><circle cx="93.0" cy="880.9" r="4.1"/><circle cx="137.6" cy="818.2" r="4.1"/><circle cx="154.4" cy="844.4" r="4.1"/><circle cx="212.9" cy="833.7" r="4.1"/><circle cx="83.0" cy="873.0" r="4.1"/><circle cx="74.6" cy="883.3" r="4.1"/><circle cx="378.4" cy="734.5" r="4.1"/><circle cx="127.5" cy="851.1" r="4.1"/><circle cx="70.3" cy="882.7" r="4.1"/><circle cx="229.3" cy="814.6" r="4.1"/><circle cx="109.4" cy="879.2" r="4.1"/><circle cx="100.9" cy="870.0" r="4.1"/><circle cx="279.5" cy="793.2" r="4.1"/><circle cx="198.7" cy="842.4" r="4.1"/><circle cx="421.2" cy="739.5" r="4.1"/><circle cx="108.7" cy="862.9" r="4.1"/><circle cx="447.9" cy="707.5" r="4.1"/><circle cx="97.1" cy="878.8" r="4.1"/><circle cx="100.1" cy="869.7" r="4.1"/><circle cx="410.0" cy="737.2" r="4.1"/><circle cx="186.2" cy="824.1" r="4.1"/><circle cx="93.8" cy="869.2" r="4.1"/><circle cx="210.7" cy="816.3" r="4.1"/><circle cx="111.5" cy="871.0" r="4.1"/><circle cx="413.3" cy="736.4" r="4.1"/><circle cx="211.0" cy="826.1" r="4.1"/><circle cx="104.6" cy="862.4" r="4.1"/><circle cx="106.9" cy="859.5" r="4.1"/><circle cx="74.6" cy="883.8" r="4.1"/><circle cx="183.2" cy="828.8" r="4.1"/><circle cx="140.5" cy="832.3" r="4.1"/><circle cx="116.2" cy="871.1" r="4.1"/><circle cx="118.6" cy="854.7" r="4.1"/><circle cx="314.7" cy="769.9" r="4.1"/><circle cx="147.9" cy="846.9" r="4.1"/><circle cx="280.0" cy="784.2" r="4.1"/><circle cx="88.2" cy="884.7" r="4.1"/><circle cx="246.1" cy="774.2" r="4.1"/><circle cx="92.5" cy="868.8" r="4.1"/><circle cx="139.0" cy="836.0" r="4.1"/><circle cx="290.6" cy="777.6" r="4.1"/><circle cx="252.9" cy="788.6" r="4.1"/><circle cx="129.8" cy="852.5" r="4.1"/><circle cx="81.4" cy="880.1" r="4.1"/><circle cx="139.0" cy="850.8" r="4.1"/><circle cx="97.3" cy="868.2" r="4.1"/><circle cx="211.5" cy="827.2" r="4.1"/><circle cx="118.8" cy="852.2" r="4.1"/><circle cx="317.7" cy="761.4" r="4.1"/><circle cx="154.9" cy="838.2" r="4.1"/><circle cx="215.6" cy="807.7" r="4.1"/><circle cx="154.8" cy="834.1" r="4.1"/><circle cx="146.2" cy="856.7" r="4.1"/><circle cx="78.1" cy="879.2" r="4.1"/><circle cx="160.8" cy="840.9" r="4.1"/><circle cx="210.4" cy="808.7" r="4.1"/><circle cx="76.5" cy="881.5" r="4.1"/><circle cx="242.7" cy="787.9" r="4.1"/><circle cx="427.6" cy="714.9" r="4.1"/><circle cx="147.3" cy="830.5" r="4.1"/><circle cx="100.4" cy="869.1" r="4.1"/><circle cx="402.3" cy="751.1" r="4.1"/><circle cx="242.2" cy="805.4" r="4.1"/><circle cx="189.5" cy="825.7" r="4.1"/><circle cx="430.5" cy="739.5" r="4.1"/><circle cx="365.1" cy="754.2" r="4.1"/><circle cx="119.1" cy="849.1" r="4.1"/><circle cx="397.5" cy="732.4" r="4.1"/><circle cx="177.5" cy="825.0" r="4.1"/><circle cx="71.3" cy="859.7" r="4.1"/><circle cx="99.1" cy="877.5" r="4.1"/><circle cx="221.6" cy="808.9" r="4.1"/><circle cx="97.0" cy="877.2" r="4.1"/><circle cx="161.7" cy="857.6" r="4.1"/><circle cx="79.1" cy="856.2" r="4.1"/><circle cx="209.7" cy="809.7" r="4.1"/><circle cx="350.9" cy="757.0" r="4.1"/><circle cx="154.0" cy="838.7" r="4.1"/><circle cx="111.1" cy="873.2" r="4.1"/><circle cx="321.7" cy="758.2" r="4.1"/><circle cx="213.3" cy="805.9" r="4.1"/><circle cx="147.9" cy="837.2" r="4.1"/><circle cx="85.6" cy="880.4" r="4.1"/><circle cx="90.3" cy="862.4" r="4.1"/><circle cx="444.6" cy="730.2" r="4.1"/><circle cx="133.2" cy="866.8" r="4.1"/><circle cx="291.3" cy="773.8" r="4.1"/><circle cx="323.0" cy="797.3" r="4.1"/><circle cx="322.5" cy="774.7" r="4.1"/><circle cx="108.5" cy="864.2" r="4.1"/><circle cx="446.7" cy="707.3" r="4.1"/><circle cx="177.0" cy="846.7" r="4.1"/><circle cx="303.9" cy="773.5" r="4.1"/><circle cx="237.1" cy="816.8" r="4.1"/><circle cx="68.6" cy="878.9" r="4.1"/><circle cx="294.8" cy="770.9" r="4.1"/><circle cx="417.3" cy="718.9" r="4.1"/><circle cx="132.7" cy="838.6" r="4.1"/><circle cx="158.6" cy="852.3" r="4.1"/><circle cx="170.5" cy="843.9" r="4.1"/><circle cx="288.6" cy="773.1" r="4.1"/><circle cx="99.7" cy="869.5" r="4.1"/><circle cx="236.4" cy="810.1" r="4.1"/><circle cx="67.4" cy="882.3" r="4.1"/><circle cx="228.4" cy="820.5" r="4.1"/><circle cx="150.1" cy="798.2" r="4.1"/><circle cx="121.2" cy="857.9" r="4.1"/><circle cx="203.6" cy="850.3" r="4.1"/><circle cx="225.2" cy="788.5" r="4.1"/><circle cx="238.6" cy="801.3" r="4.1"/><circle cx="104.0" cy="873.5" r="4.1"/><circle cx="409.7" cy="721.8" r="4.1"/><circle cx="192.7" cy="821.1" r="4.1"/><circle cx="67.7" cy="883.5" r="4.1"/><circle cx="219.4" cy="831.1" r="4.1"/><circle cx="283.8" cy="786.4" r="4.1"/><circle cx="220.3" cy="805.0" r="4.1"/><circle cx="72.6" cy="877.5" r="4.1"/><circle cx="66.9" cy="884.7" r="4.1"/><circle cx="167.2" cy="842.9" r="4.1"/><circle cx="137.1" cy="842.8" r="4.1"/><circle cx="168.5" cy="829.7" r="4.1"/><circle cx="165.5" cy="815.4" r="4.1"/><circle cx="189.4" cy="834.1" r="4.1"/><circle cx="192.5" cy="835.4" r="4.1"/><circle cx="289.7" cy="779.2" r="4.1"/><circle cx="234.0" cy="815.8" r="4.1"/><circle cx="146.9" cy="860.6" r="4.1"/><circle cx="166.6" cy="822.7" r="4.1"/><circle cx="409.2" cy="760.4" r="4.1"/><circle cx="196.5" cy="813.4" r="4.1"/><circle cx="122.4" cy="855.8" r="4.1"/><circle cx="199.9" cy="816.6" r="4.1"/><circle cx="145.1" cy="854.5" r="4.1"/><circle cx="82.6" cy="881.1" r="4.1"/><circle cx="261.8" cy="789.1" r="4.1"/><circle cx="174.4" cy="832.2" r="4.1"/><circle cx="246.4" cy="801.8" r="4.1"/><circle cx="337.7" cy="765.4" r="4.1"/><circle cx="194.1" cy="828.6" r="4.1"/><circle cx="71.8" cy="880.1" r="4.1"/><circle cx="370.2" cy="749.1" r="4.1"/><circle cx="306.7" cy="787.1" r="4.1"/><circle cx="70.5" cy="882.4" r="4.1"/><circle cx="380.5" cy="763.3" r="4.1"/><circle cx="307.1" cy="773.8" r="4.1"/><circle cx="168.7" cy="802.0" r="4.1"/><circle cx="176.4" cy="835.5" r="4.1"/><circle cx="138.3" cy="851.4" r="4.1"/><circle cx="125.1" cy="837.0" r="4.1"/><circle cx="239.7" cy="821.6" r="4.1"/><circle cx="156.0" cy="815.9" r="4.1"/><circle cx="220.0" cy="811.1" r="4.1"/><circle cx="83.7" cy="854.6" r="4.1"/><circle cx="419.3" cy="719.7" r="4.1"/><circle cx="449.3" cy="689.6" r="4.1"/><circle cx="390.4" cy="736.8" r="4.1"/><circle cx="183.1" cy="836.7" r="4.1"/><circle cx="328.4" cy="771.8" r="4.1"/><circle cx="322.3" cy="769.2" r="4.1"/><circle cx="91.1" cy="844.9" r="4.1"/><circle cx="255.4" cy="793.2" r="4.1"/><circle cx="117.2" cy="859.6" r="4.1"/><circle cx="369.5" cy="732.6" r="4.1"/><circle cx="160.3" cy="825.1" r="4.1"/><circle cx="338.1" cy="769.8" r="4.1"/><circle cx="76.3" cy="882.5" r="4.1"/><circle cx="383.5" cy="731.0" r="4.1"/><circle cx="85.8" cy="869.6" r="4.1"/><circle cx="117.2" cy="862.3" r="4.1"/><circle cx="264.3" cy="806.0" r="4.1"/><circle cx="68.4" cy="883.2" r="4.1"/><circle cx="208.2" cy="809.8" r="4.1"/><circle cx="321.8" cy="767.9" r="4.1"/><circle cx="373.0" cy="742.0" r="4.1"/><circle cx="209.1" cy="810.5" r="4.1"/><circle cx="373.2" cy="736.9" r="4.1"/><circle cx="296.5" cy="740.2" r="4.1"/><circle cx="247.5" cy="757.2" r="4.1"/><circle cx="135.1" cy="862.8" r="4.1"/><circle cx="131.8" cy="853.3" r="4.1"/><circle cx="179.0" cy="815.1" r="4.1"/><circle cx="172.7" cy="834.4" r="4.1"/><circle cx="178.7" cy="818.6" r="4.1"/><circle cx="114.2" cy="870.8" r="4.1"/><circle cx="180.2" cy="825.6" r="4.1"/><circle cx="247.4" cy="814.3" r="4.1"/><circle cx="108.5" cy="877.5" r="4.1"/><circle cx="133.4" cy="846.3" r="4.1"/><circle cx="133.8" cy="848.8" r="4.1"/><circle cx="423.0" cy="728.5" r="4.1"/><circle cx="82.7" cy="873.4" r="4.1"/><circle cx="212.6" cy="829.1" r="4.1"/><circle cx="123.7" cy="850.2" r="4.1"/><circle cx="174.4" cy="823.3" r="4.1"/><circle cx="86.2" cy="880.5" r="4.1"/><circle cx="69.2" cy="884.1" r="4.1"/><circle cx="75.2" cy="879.7" r="4.1"/><circle cx="171.3" cy="840.8" r="4.1"/><circle cx="337.9" cy="765.4" r="4.1"/><circle cx="355.5" cy="760.0" r="4.1"/><circle cx="186.2" cy="820.9" r="4.1"/><circle cx="407.0" cy="718.6" r="4.1"/><circle cx="141.0" cy="841.6" r="4.1"/><circle cx="320.2" cy="767.7" r="4.1"/><circle cx="184.4" cy="826.8" r="4.1"/><circle cx="173.3" cy="819.9" r="4.1"/><circle cx="220.8" cy="803.1" r="4.1"/><circle cx="174.4" cy="834.4" r="4.1"/><circle cx="95.8" cy="880.7" r="4.1"/><circle cx="300.2" cy="756.7" r="4.1"/><circle cx="194.1" cy="833.1" r="4.1"/><circle cx="120.5" cy="846.1" r="4.1"/><circle cx="238.1" cy="808.3" r="4.1"/><circle cx="349.9" cy="752.4" r="4.1"/><circle cx="380.0" cy="811.2" r="4.1"/><circle cx="264.0" cy="791.1" r="4.1"/><circle cx="287.5" cy="781.1" r="4.1"/><circle cx="265.2" cy="787.5" r="4.1"/><circle cx="92.7" cy="883.2" r="4.1"/><circle cx="105.7" cy="864.8" r="4.1"/><circle cx="110.9" cy="860.2" r="4.1"/><circle cx="109.4" cy="817.4" r="4.1"/><circle cx="205.2" cy="828.0" r="4.1"/><circle cx="169.5" cy="852.0" r="4.1"/><circle cx="129.1" cy="847.3" r="4.1"/><circle cx="159.1" cy="846.0" r="4.1"/><circle cx="110.8" cy="865.6" r="4.1"/><circle cx="226.7" cy="759.1" r="4.1"/><circle cx="155.7" cy="840.3" r="4.1"/><circle cx="382.5" cy="742.5" r="4.1"/><circle cx="146.6" cy="843.4" r="4.1"/><circle cx="117.7" cy="845.0" r="4.1"/><circle cx="93.0" cy="872.2" r="4.1"/><circle cx="283.9" cy="797.3" r="4.1"/><circle cx="100.2" cy="870.2" r="4.1"/><circle cx="205.1" cy="808.8" r="4.1"/><circle cx="421.6" cy="715.7" r="4.1"/><circle cx="114.4" cy="860.6" r="4.1"/><circle cx="100.1" cy="876.5" r="4.1"/><circle cx="257.1" cy="783.2" r="4.1"/><circle cx="106.8" cy="865.3" r="4.1"/><circle cx="169.3" cy="837.0" r="4.1"/><circle cx="169.2" cy="806.4" r="4.1"/><circle cx="80.9" cy="876.1" r="4.1"/><circle cx="308.5" cy="745.4" r="4.1"/><circle cx="341.3" cy="758.2" r="4.1"/><circle cx="80.3" cy="874.0" r="4.1"/><circle cx="209.9" cy="805.6" r="4.1"/><circle cx="126.6" cy="864.6" r="4.1"/><circle cx="88.3" cy="858.6" r="4.1"/><circle cx="122.7" cy="855.9" r="4.1"/><circle cx="178.8" cy="830.3" r="4.1"/><circle cx="134.9" cy="844.2" r="4.1"/><circle cx="313.2" cy="746.3" r="4.1"/><circle cx="69.2" cy="884.1" r="4.1"/><circle cx="467.6" cy="685.9" r="4.1"/><circle cx="255.1" cy="792.0" r="4.1"/><circle cx="334.6" cy="788.6" r="4.1"/><circle cx="135.0" cy="846.1" r="4.1"/><circle cx="150.3" cy="842.4" r="4.1"/><circle cx="98.9" cy="860.0" r="4.1"/><circle cx="134.9" cy="833.8" r="4.1"/><circle cx="257.9" cy="795.7" r="4.1"/><circle cx="140.1" cy="851.0" r="4.1"/><circle cx="285.0" cy="786.3" r="4.1"/><circle cx="194.9" cy="805.3" r="4.1"/><circle cx="425.6" cy="715.8" r="4.1"/><circle cx="155.1" cy="839.0" r="4.1"/><circle cx="110.9" cy="868.8" r="4.1"/><circle cx="225.3" cy="776.5" r="4.1"/><circle cx="184.6" cy="827.7" r="4.1"/><circle cx="85.5" cy="883.8" r="4.1"/><circle cx="127.0" cy="859.1" r="4.1"/><circle cx="154.2" cy="781.2" r="4.1"/><circle cx="73.8" cy="879.9" r="4.1"/><circle cx="79.7" cy="878.6" r="4.1"/><circle cx="153.6" cy="842.9" r="4.1"/><circle cx="272.9" cy="787.3" r="4.1"/><circle cx="261.1" cy="783.7" r="4.1"/><circle cx="161.2" cy="825.9" r="4.1"/><circle cx="80.4" cy="854.9" r="4.1"/><circle cx="409.5" cy="726.4" r="4.1"/><circle cx="442.0" cy="694.5" r="4.1"/><circle cx="356.2" cy="754.6" r="4.1"/><circle cx="214.1" cy="806.3" r="4.1"/><circle cx="403.5" cy="736.4" r="4.1"/><circle cx="256.2" cy="785.6" r="4.1"/><circle cx="71.6" cy="862.2" r="4.1"/><circle cx="62.5" cy="867.8" r="4.1"/><circle cx="101.8" cy="877.4" r="4.1"/><circle cx="215.6" cy="806.8" r="4.1"/><circle cx="419.1" cy="756.4" r="4.1"/><circle cx="103.1" cy="872.3" r="4.1"/><circle cx="273.2" cy="796.5" r="4.1"/><circle cx="204.0" cy="824.5" r="4.1"/><circle cx="75.9" cy="882.6" r="4.1"/><circle cx="138.2" cy="858.8" r="4.1"/><circle cx="219.0" cy="811.5" r="4.1"/><circle cx="229.4" cy="809.9" r="4.1"/><circle cx="173.4" cy="836.6" r="4.1"/><circle cx="123.7" cy="861.3" r="4.1"/><circle cx="179.4" cy="832.9" r="4.1"/><circle cx="186.3" cy="853.9" r="4.1"/><circle cx="95.3" cy="880.1" r="4.1"/><circle cx="278.2" cy="812.3" r="4.1"/><circle cx="118.8" cy="856.9" r="4.1"/><circle cx="97.1" cy="875.4" r="4.1"/><circle cx="103.1" cy="875.4" r="4.1"/><circle cx="344.7" cy="741.2" r="4.1"/><circle cx="185.3" cy="835.1" r="4.1"/><circle cx="259.1" cy="762.3" r="4.1"/><circle cx="169.2" cy="830.0" r="4.1"/><circle cx="125.8" cy="843.3" r="4.1"/><circle cx="239.8" cy="797.8" r="4.1"/><circle cx="275.2" cy="782.7" r="4.1"/><circle cx="65.1" cy="886.6" r="4.1"/><circle cx="190.6" cy="814.6" r="4.1"/><circle cx="408.2" cy="710.9" r="4.1"/><circle cx="397.1" cy="732.3" r="4.1"/><circle cx="91.2" cy="867.5" r="4.1"/><circle cx="283.0" cy="757.2" r="4.1"/><circle cx="167.0" cy="827.9" r="4.1"/><circle cx="173.3" cy="817.1" r="4.1"/><circle cx="167.5" cy="838.7" r="4.1"/><circle cx="120.4" cy="844.3" r="4.1"/><circle cx="152.9" cy="852.5" r="4.1"/><circle cx="167.6" cy="834.2" r="4.1"/><circle cx="71.3" cy="880.8" r="4.1"/><circle cx="200.5" cy="819.5" r="4.1"/><circle cx="398.2" cy="731.1" r="4.1"/><circle cx="90.5" cy="877.7" r="4.1"/><circle cx="286.6" cy="781.9" r="4.1"/><circle cx="150.6" cy="842.3" r="4.1"/><circle cx="203.0" cy="816.0" r="4.1"/><circle cx="227.9" cy="829.3" r="4.1"/><circle cx="215.9" cy="803.6" r="4.1"/><circle cx="306.7" cy="768.2" r="4.1"/><circle cx="556.2" cy="678.7" r="4.1"/><circle cx="233.6" cy="816.7" r="4.1"/><circle cx="110.0" cy="863.3" r="4.1"/><circle cx="126.8" cy="857.2" r="4.1"/><circle cx="403.2" cy="730.6" r="4.1"/><circle cx="181.5" cy="838.8" r="4.1"/><circle cx="174.8" cy="828.6" r="4.1"/><circle cx="460.8" cy="695.5" r="4.1"/><circle cx="342.3" cy="759.4" r="4.1"/><circle cx="201.8" cy="806.9" r="4.1"/><circle cx="131.8" cy="855.8" r="4.1"/><circle cx="357.1" cy="759.6" r="4.1"/><circle cx="149.6" cy="837.0" r="4.1"/><circle cx="156.3" cy="786.2" r="4.1"/><circle cx="199.7" cy="806.2" r="4.1"/><circle cx="65.5" cy="884.2" r="4.1"/><circle cx="102.1" cy="864.3" r="4.1"/><circle cx="97.3" cy="877.7" r="4.1"/><circle cx="221.9" cy="793.1" r="4.1"/><circle cx="79.7" cy="880.8" r="4.1"/><circle cx="106.7" cy="865.7" r="4.1"/><circle cx="114.2" cy="868.6" r="4.1"/><circle cx="374.1" cy="746.0" r="4.1"/><circle cx="100.5" cy="831.6" r="4.1"/><circle cx="177.0" cy="822.4" r="4.1"/><circle cx="183.7" cy="832.3" r="4.1"/><circle cx="308.2" cy="788.3" r="4.1"/><circle cx="110.4" cy="864.3" r="4.1"/><circle cx="160.6" cy="856.1" r="4.1"/><circle cx="116.4" cy="844.1" r="4.1"/><circle cx="105.6" cy="876.7" r="4.1"/><circle cx="135.6" cy="837.5" r="4.1"/><circle cx="164.5" cy="840.5" r="4.1"/><circle cx="67.4" cy="882.5" r="4.1"/><circle cx="224.9" cy="788.7" r="4.1"/><circle cx="161.5" cy="849.5" r="4.1"/><circle cx="290.1" cy="786.5" r="4.1"/><circle cx="278.2" cy="785.5" r="4.1"/><circle cx="289.5" cy="799.1" r="4.1"/><circle cx="84.9" cy="883.0" r="4.1"/><circle cx="438.0" cy="706.8" r="4.1"/><circle cx="253.0" cy="807.1" r="4.1"/><circle cx="94.2" cy="879.1" r="4.1"/><circle cx="114.5" cy="860.3" r="4.1"/><circle cx="150.7" cy="851.4" r="4.1"/><circle cx="189.2" cy="813.2" r="4.1"/></g><clipPath id="clipc"><rect x="57.25" y="640.40" width="521.35" height="245.80"/></clipPath><g clip-path="url(#clipc)"><line x1="57.25" y1="886.20" x2="578.60" y2="639.54" stroke="#000" stroke-width="2.0"/><line x1="57.25" y1="886.20" x2="578.60" y2="577.87" stroke="#f00" stroke-width="2.3" stroke-linecap="round" stroke-dasharray="6.0 8.8" stroke-dashoffset="-0.45"/><line x1="57.25" y1="886.20" x2="578.60" y2="701.20" stroke="#f00" stroke-width="2.3" stroke-linecap="round" stroke-dasharray="6.0 8.8" stroke-dashoffset="-0.45"/></g><path d="M57.25 886.20h5 M57.25 861.62h5 M57.25 837.04h5 M57.25 812.46h5 M57.25 787.88h5 M57.25 763.30h5 M57.25 738.72h5 M57.25 714.14h5 M57.25 689.56h5 M57.25 664.98h5 M57.25 640.40h5 M109.39 886.20v-5 M161.52 886.20v-5 M213.66 886.20v-5 M265.79 886.20v-5 M317.93 886.20v-5 M370.06 886.20v-5 M422.19 886.20v-5 M474.33 886.20v-5 M526.47 886.20v-5 M578.60 886.20v-5" stroke="#000" stroke-width="1.4" fill="none"/><g font-family="Liberation Serif" font-weight="bold" font-size="15" fill="#000"><text x="43.25" y="892.60" text-anchor="end">0</text><text x="43.25" y="868.02" text-anchor="end">0.1</text><text x="43.25" y="843.44" text-anchor="end">0.2</text><text x="43.25" y="818.86" text-anchor="end">0.3</text><text x="43.25" y="794.28" text-anchor="end">0.4</text><text x="43.25" y="769.70" text-anchor="end">0.5</text><text x="43.25" y="745.12" text-anchor="end">0.6</text><text x="43.25" y="720.54" text-anchor="end">0.7</text><text x="43.25" y="695.96" text-anchor="end">0.8</text><text x="43.25" y="671.38" text-anchor="end">0.9</text><text x="43.25" y="646.80" text-anchor="end">1</text><text x="57.25" y="909.80" text-anchor="middle">0</text><text x="109.39" y="909.80" text-anchor="middle">0.1</text><text x="161.52" y="909.80" text-anchor="middle">0.2</text><text x="213.66" y="909.80" text-anchor="middle">0.3</text><text x="265.79" y="909.80" text-anchor="middle">0.4</text><text x="317.93" y="909.80" text-anchor="middle">0.5</text><text x="370.06" y="909.80" text-anchor="middle">0.6</text><text x="422.19" y="909.80" text-anchor="middle">0.7</text><text x="474.33" y="909.80" text-anchor="middle">0.8</text><text x="526.47" y="909.80" text-anchor="middle">0.9</text><text x="578.60" y="909.80" text-anchor="middle">1</text></g><rect x="57.25" y="640.40" width="521.35" height="245.80" fill="none" stroke="#000" stroke-width="1.9"/><g font-family="Liberation Serif" font-weight="bold" fill="#000"><text x="78.60" y="671.30" font-size="25.5">(c)</text><text x="380.40" y="661.10" font-size="17.6">+25%</text><text x="512.50" y="749.00" font-size="17.6">-25%</text><text x="300.30" y="932.80" font-size="16.0">Y<tspan font-size="11.0" dy="3.3">2</tspan><tspan font-size="10.5" dy="-8.2">Exp</tspan></text><text transform="translate(13.80 780.50) rotate(-90)" font-size="16.0">Y<tspan font-size="11.0" dy="3.3">2</tspan><tspan font-size="10.5" dy="-8.2">Pre</tspan></text></g></svg>
</body></html>
